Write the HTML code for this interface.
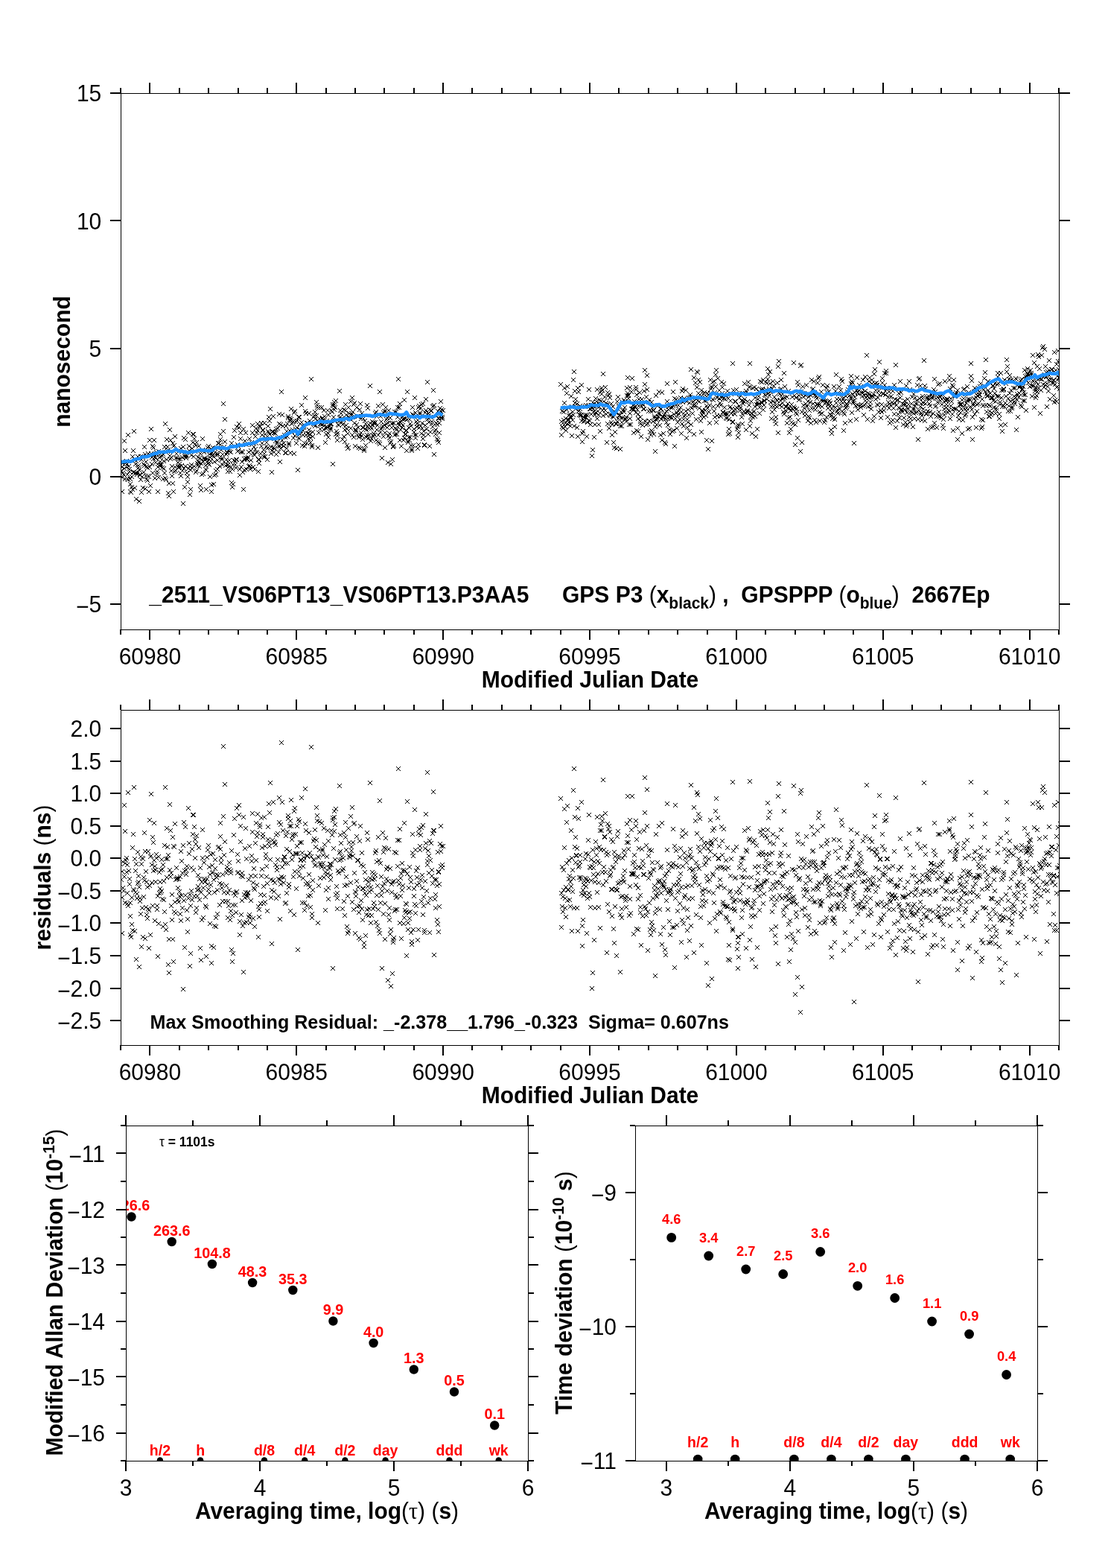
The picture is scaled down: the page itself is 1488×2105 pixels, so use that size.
<!DOCTYPE html>
<html><head><meta charset="utf-8"><title>GPS P3 vs GPSPPP time comparison</title>
<style>html,body{margin:0;padding:0;background:#fff;} svg{display:block;}</style>
</head><body>
<svg width="1488" height="2105" viewBox="0 0 1488 2105" font-family="'Liberation Sans', Arial, Helvetica, sans-serif">
<rect width="100%" height="100%" fill="#fff"/>
<defs><clipPath id="c1"><rect x="162" y="125" width="1261" height="721"/></clipPath><clipPath id="c2"><rect x="162" y="953" width="1261" height="451"/></clipPath><clipPath id="c3"><rect x="169" y="1511" width="541" height="451"/></clipPath><clipPath id="c4"><rect x="853" y="1511" width="541" height="451"/></clipPath></defs>
<g clip-path="url(#c1)">
<path d="M159 621l6 6m0 -6l-6 6M160 629l6 6m0 -6l-6 6M161 638l6 6m0 -6l-6 6M161 624l6 6m0 -6l-6 6M161 657l6 6m0 -6l-6 6M162 619l6 6m0 -6l-6 6M162 632l6 6m0 -6l-6 6M163 634l6 6m0 -6l-6 6M164 626l6 6m0 -6l-6 6M164 589l6 6m0 -6l-6 6M165 619l6 6m0 -6l-6 6M165 640l6 6m0 -6l-6 6M165 602l6 6m0 -6l-6 6M166 617l6 6m0 -6l-6 6M167 616l6 6m0 -6l-6 6M167 624l6 6m0 -6l-6 6M168 640l6 6m0 -6l-6 6M168 620l6 6m0 -6l-6 6M168 634l6 6m0 -6l-6 6M169 641l6 6m0 -6l-6 6M169 581l6 6m0 -6l-6 6M170 623l6 6m0 -6l-6 6M171 627l6 6m0 -6l-6 6M171 630l6 6m0 -6l-6 6M172 647l6 6m0 -6l-6 6M172 640l6 6m0 -6l-6 6M172 657l6 6m0 -6l-6 6M173 658l6 6m0 -6l-6 6M174 651l6 6m0 -6l-6 6M174 637l6 6m0 -6l-6 6M175 654l6 6m0 -6l-6 6M175 610l6 6m0 -6l-6 6M176 602l6 6m0 -6l-6 6M176 631l6 6m0 -6l-6 6M177 631l6 6m0 -6l-6 6M177 576l6 6m0 -6l-6 6M178 614l6 6m0 -6l-6 6M178 652l6 6m0 -6l-6 6M179 620l6 6m0 -6l-6 6M179 632l6 6m0 -6l-6 6M180 616l6 6m0 -6l-6 6M180 667l6 6m0 -6l-6 6M181 632l6 6m0 -6l-6 6M181 634l6 6m0 -6l-6 6M182 610l6 6m0 -6l-6 6M182 626l6 6m0 -6l-6 6M183 622l6 6m0 -6l-6 6M183 625l6 6m0 -6l-6 6M184 670l6 6m0 -6l-6 6M184 628l6 6m0 -6l-6 6M185 634l6 6m0 -6l-6 6M185 635l6 6m0 -6l-6 6M186 641l6 6m0 -6l-6 6M186 610l6 6m0 -6l-6 6M187 614l6 6m0 -6l-6 6M187 658l6 6m0 -6l-6 6M188 610l6 6m0 -6l-6 6M188 637l6 6m0 -6l-6 6M189 652l6 6m0 -6l-6 6M189 611l6 6m0 -6l-6 6M190 631l6 6m0 -6l-6 6M190 620l6 6m0 -6l-6 6M191 622l6 6m0 -6l-6 6M191 597l6 6m0 -6l-6 6M192 653l6 6m0 -6l-6 6M192 607l6 6m0 -6l-6 6M193 636l6 6m0 -6l-6 6M193 617l6 6m0 -6l-6 6M194 623l6 6m0 -6l-6 6M194 640l6 6m0 -6l-6 6M195 642l6 6m0 -6l-6 6M195 625l6 6m0 -6l-6 6M196 606l6 6m0 -6l-6 6M196 636l6 6m0 -6l-6 6M197 637l6 6m0 -6l-6 6M197 657l6 6m0 -6l-6 6M198 624l6 6m0 -6l-6 6M198 588l6 6m0 -6l-6 6M199 608l6 6m0 -6l-6 6M199 649l6 6m0 -6l-6 6M200 606l6 6m0 -6l-6 6M200 573l6 6m0 -6l-6 6M201 620l6 6m0 -6l-6 6M201 611l6 6m0 -6l-6 6M202 632l6 6m0 -6l-6 6M202 596l6 6m0 -6l-6 6M203 613l6 6m0 -6l-6 6M203 598l6 6m0 -6l-6 6M204 588l6 6m0 -6l-6 6M204 607l6 6m0 -6l-6 6M205 639l6 6m0 -6l-6 6M205 610l6 6m0 -6l-6 6M206 612l6 6m0 -6l-6 6M206 618l6 6m0 -6l-6 6M207 604l6 6m0 -6l-6 6M207 606l6 6m0 -6l-6 6M208 633l6 6m0 -6l-6 6M208 630l6 6m0 -6l-6 6M209 657l6 6m0 -6l-6 6M209 624l6 6m0 -6l-6 6M210 603l6 6m0 -6l-6 6M210 638l6 6m0 -6l-6 6M211 611l6 6m0 -6l-6 6M211 622l6 6m0 -6l-6 6M212 620l6 6m0 -6l-6 6M212 617l6 6m0 -6l-6 6M213 622l6 6m0 -6l-6 6M213 610l6 6m0 -6l-6 6M214 605l6 6m0 -6l-6 6M214 621l6 6m0 -6l-6 6M215 625l6 6m0 -6l-6 6M215 609l6 6m0 -6l-6 6M216 607l6 6m0 -6l-6 6M216 640l6 6m0 -6l-6 6M217 616l6 6m0 -6l-6 6M217 626l6 6m0 -6l-6 6M218 597l6 6m0 -6l-6 6M218 632l6 6m0 -6l-6 6M219 566l6 6m0 -6l-6 6M219 639l6 6m0 -6l-6 6M220 604l6 6m0 -6l-6 6M220 641l6 6m0 -6l-6 6M221 614l6 6m0 -6l-6 6M221 587l6 6m0 -6l-6 6M222 603l6 6m0 -6l-6 6M222 597l6 6m0 -6l-6 6M223 601l6 6m0 -6l-6 6M223 659l6 6m0 -6l-6 6M224 646l6 6m0 -6l-6 6M224 663l6 6m0 -6l-6 6M225 574l6 6m0 -6l-6 6M225 609l6 6m0 -6l-6 6M226 588l6 6m0 -6l-6 6M226 613l6 6m0 -6l-6 6M227 611l6 6m0 -6l-6 6M227 629l6 6m0 -6l-6 6M228 623l6 6m0 -6l-6 6M228 636l6 6m0 -6l-6 6M229 646l6 6m0 -6l-6 6M229 592l6 6m0 -6l-6 6M230 596l6 6m0 -6l-6 6M230 657l6 6m0 -6l-6 6M231 630l6 6m0 -6l-6 6M231 595l6 6m0 -6l-6 6M232 583l6 6m0 -6l-6 6M232 624l6 6m0 -6l-6 6M233 612l6 6m0 -6l-6 6M233 629l6 6m0 -6l-6 6M234 611l6 6m0 -6l-6 6M234 606l6 6m0 -6l-6 6M235 612l6 6m0 -6l-6 6M235 612l6 6m0 -6l-6 6M236 623l6 6m0 -6l-6 6M236 618l6 6m0 -6l-6 6M237 625l6 6m0 -6l-6 6M237 613l6 6m0 -6l-6 6M238 620l6 6m0 -6l-6 6M238 623l6 6m0 -6l-6 6M239 613l6 6m0 -6l-6 6M239 632l6 6m0 -6l-6 6M240 599l6 6m0 -6l-6 6M240 636l6 6m0 -6l-6 6M241 622l6 6m0 -6l-6 6M241 604l6 6m0 -6l-6 6M242 629l6 6m0 -6l-6 6M242 611l6 6m0 -6l-6 6M243 673l6 6m0 -6l-6 6M243 597l6 6m0 -6l-6 6M244 626l6 6m0 -6l-6 6M244 585l6 6m0 -6l-6 6M245 610l6 6m0 -6l-6 6M245 651l6 6m0 -6l-6 6M246 587l6 6m0 -6l-6 6M246 623l6 6m0 -6l-6 6M247 612l6 6m0 -6l-6 6M247 610l6 6m0 -6l-6 6M248 632l6 6m0 -6l-6 6M248 609l6 6m0 -6l-6 6M249 644l6 6m0 -6l-6 6M249 637l6 6m0 -6l-6 6M250 626l6 6m0 -6l-6 6M250 578l6 6m0 -6l-6 6M251 602l6 6m0 -6l-6 6M251 596l6 6m0 -6l-6 6M252 623l6 6m0 -6l-6 6M252 661l6 6m0 -6l-6 6M253 654l6 6m0 -6l-6 6M253 628l6 6m0 -6l-6 6M254 608l6 6m0 -6l-6 6M254 621l6 6m0 -6l-6 6M255 599l6 6m0 -6l-6 6M255 625l6 6m0 -6l-6 6M256 591l6 6m0 -6l-6 6M256 580l6 6m0 -6l-6 6M257 610l6 6m0 -6l-6 6M257 580l6 6m0 -6l-6 6M258 623l6 6m0 -6l-6 6M258 586l6 6m0 -6l-6 6M259 603l6 6m0 -6l-6 6M259 593l6 6m0 -6l-6 6M260 631l6 6m0 -6l-6 6M260 595l6 6m0 -6l-6 6M261 591l6 6m0 -6l-6 6M261 629l6 6m0 -6l-6 6M262 622l6 6m0 -6l-6 6M262 619l6 6m0 -6l-6 6M263 611l6 6m0 -6l-6 6M263 616l6 6m0 -6l-6 6M264 596l6 6m0 -6l-6 6M264 618l6 6m0 -6l-6 6M265 623l6 6m0 -6l-6 6M265 612l6 6m0 -6l-6 6M266 606l6 6m0 -6l-6 6M266 649l6 6m0 -6l-6 6M267 619l6 6m0 -6l-6 6M267 655l6 6m0 -6l-6 6M268 614l6 6m0 -6l-6 6M268 634l6 6m0 -6l-6 6M269 601l6 6m0 -6l-6 6M269 586l6 6m0 -6l-6 6M270 617l6 6m0 -6l-6 6M270 633l6 6m0 -6l-6 6M271 604l6 6m0 -6l-6 6M271 613l6 6m0 -6l-6 6M272 612l6 6m0 -6l-6 6M272 614l6 6m0 -6l-6 6M273 627l6 6m0 -6l-6 6M273 622l6 6m0 -6l-6 6M274 628l6 6m0 -6l-6 6M274 654l6 6m0 -6l-6 6M275 602l6 6m0 -6l-6 6M275 613l6 6m0 -6l-6 6M276 598l6 6m0 -6l-6 6M276 616l6 6m0 -6l-6 6M277 619l6 6m0 -6l-6 6M277 596l6 6m0 -6l-6 6M278 607l6 6m0 -6l-6 6M278 621l6 6m0 -6l-6 6M279 637l6 6m0 -6l-6 6M279 611l6 6m0 -6l-6 6M280 616l6 6m0 -6l-6 6M280 600l6 6m0 -6l-6 6M281 648l6 6m0 -6l-6 6M281 657l6 6m0 -6l-6 6M282 609l6 6m0 -6l-6 6M282 605l6 6m0 -6l-6 6M283 608l6 6m0 -6l-6 6M283 598l6 6m0 -6l-6 6M284 647l6 6m0 -6l-6 6M284 610l6 6m0 -6l-6 6M285 617l6 6m0 -6l-6 6M285 635l6 6m0 -6l-6 6M286 604l6 6m0 -6l-6 6M286 599l6 6m0 -6l-6 6M287 629l6 6m0 -6l-6 6M287 634l6 6m0 -6l-6 6M288 608l6 6m0 -6l-6 6M288 606l6 6m0 -6l-6 6M289 615l6 6m0 -6l-6 6M289 627l6 6m0 -6l-6 6M290 607l6 6m0 -6l-6 6M290 592l6 6m0 -6l-6 6M291 592l6 6m0 -6l-6 6M292 612l6 6m0 -6l-6 6M292 623l6 6m0 -6l-6 6M293 587l6 6m0 -6l-6 6M293 594l6 6m0 -6l-6 6M293 580l6 6m0 -6l-6 6M294 601l6 6m0 -6l-6 6M294 598l6 6m0 -6l-6 6M295 614l6 6m0 -6l-6 6M295 612l6 6m0 -6l-6 6M296 607l6 6m0 -6l-6 6M296 621l6 6m0 -6l-6 6M297 539l6 6m0 -6l-6 6M297 576l6 6m0 -6l-6 6M298 597l6 6m0 -6l-6 6M298 617l6 6m0 -6l-6 6M299 560l6 6m0 -6l-6 6M299 590l6 6m0 -6l-6 6M300 622l6 6m0 -6l-6 6M301 614l6 6m0 -6l-6 6M301 607l6 6m0 -6l-6 6M302 605l6 6m0 -6l-6 6M302 604l6 6m0 -6l-6 6M303 617l6 6m0 -6l-6 6M303 630l6 6m0 -6l-6 6M303 621l6 6m0 -6l-6 6M304 624l6 6m0 -6l-6 6M305 600l6 6m0 -6l-6 6M305 615l6 6m0 -6l-6 6M305 603l6 6m0 -6l-6 6M306 630l6 6m0 -6l-6 6M307 604l6 6m0 -6l-6 6M307 604l6 6m0 -6l-6 6M307 624l6 6m0 -6l-6 6M308 592l6 6m0 -6l-6 6M308 645l6 6m0 -6l-6 6M309 651l6 6m0 -6l-6 6M309 627l6 6m0 -6l-6 6M310 647l6 6m0 -6l-6 6M310 621l6 6m0 -6l-6 6M311 615l6 6m0 -6l-6 6M311 584l6 6m0 -6l-6 6M312 575l6 6m0 -6l-6 6M313 621l6 6m0 -6l-6 6M313 616l6 6m0 -6l-6 6M314 614l6 6m0 -6l-6 6M314 625l6 6m0 -6l-6 6M315 570l6 6m0 -6l-6 6M315 614l6 6m0 -6l-6 6M316 594l6 6m0 -6l-6 6M316 603l6 6m0 -6l-6 6M317 602l6 6m0 -6l-6 6M317 596l6 6m0 -6l-6 6M318 566l6 6m0 -6l-6 6M318 571l6 6m0 -6l-6 6M319 627l6 6m0 -6l-6 6M319 635l6 6m0 -6l-6 6M320 578l6 6m0 -6l-6 6M320 586l6 6m0 -6l-6 6M321 624l6 6m0 -6l-6 6M321 604l6 6m0 -6l-6 6M322 603l6 6m0 -6l-6 6M322 617l6 6m0 -6l-6 6M323 631l6 6m0 -6l-6 6M323 604l6 6m0 -6l-6 6M324 573l6 6m0 -6l-6 6M324 654l6 6m0 -6l-6 6M325 628l6 6m0 -6l-6 6M325 613l6 6m0 -6l-6 6M326 589l6 6m0 -6l-6 6M326 614l6 6m0 -6l-6 6M327 612l6 6m0 -6l-6 6M327 578l6 6m0 -6l-6 6M328 594l6 6m0 -6l-6 6M328 627l6 6m0 -6l-6 6M329 613l6 6m0 -6l-6 6M329 614l6 6m0 -6l-6 6M330 611l6 6m0 -6l-6 6M330 611l6 6m0 -6l-6 6M331 623l6 6m0 -6l-6 6M331 604l6 6m0 -6l-6 6M332 622l6 6m0 -6l-6 6M332 586l6 6m0 -6l-6 6M333 624l6 6m0 -6l-6 6M333 627l6 6m0 -6l-6 6M334 602l6 6m0 -6l-6 6M334 615l6 6m0 -6l-6 6M335 591l6 6m0 -6l-6 6M335 594l6 6m0 -6l-6 6M336 568l6 6m0 -6l-6 6M336 578l6 6m0 -6l-6 6M337 624l6 6m0 -6l-6 6M337 605l6 6m0 -6l-6 6M338 607l6 6m0 -6l-6 6M338 597l6 6m0 -6l-6 6M339 608l6 6m0 -6l-6 6M339 627l6 6m0 -6l-6 6M340 583l6 6m0 -6l-6 6M340 600l6 6m0 -6l-6 6M341 592l6 6m0 -6l-6 6M341 572l6 6m0 -6l-6 6M342 604l6 6m0 -6l-6 6M342 578l6 6m0 -6l-6 6M343 566l6 6m0 -6l-6 6M343 575l6 6m0 -6l-6 6M344 630l6 6m0 -6l-6 6M344 614l6 6m0 -6l-6 6M345 619l6 6m0 -6l-6 6M345 614l6 6m0 -6l-6 6M346 569l6 6m0 -6l-6 6M346 570l6 6m0 -6l-6 6M347 606l6 6m0 -6l-6 6M347 611l6 6m0 -6l-6 6M348 596l6 6m0 -6l-6 6M348 565l6 6m0 -6l-6 6M349 592l6 6m0 -6l-6 6M349 581l6 6m0 -6l-6 6M350 575l6 6m0 -6l-6 6M350 574l6 6m0 -6l-6 6M351 610l6 6m0 -6l-6 6M351 601l6 6m0 -6l-6 6M352 565l6 6m0 -6l-6 6M352 606l6 6m0 -6l-6 6M353 580l6 6m0 -6l-6 6M353 610l6 6m0 -6l-6 6M354 585l6 6m0 -6l-6 6M354 587l6 6m0 -6l-6 6M355 591l6 6m0 -6l-6 6M355 596l6 6m0 -6l-6 6M356 614l6 6m0 -6l-6 6M356 599l6 6m0 -6l-6 6M357 569l6 6m0 -6l-6 6M357 576l6 6m0 -6l-6 6M358 578l6 6m0 -6l-6 6M358 557l6 6m0 -6l-6 6M359 580l6 6m0 -6l-6 6M359 562l6 6m0 -6l-6 6M360 546l6 6m0 -6l-6 6M360 586l6 6m0 -6l-6 6M361 597l6 6m0 -6l-6 6M361 606l6 6m0 -6l-6 6M362 602l6 6m0 -6l-6 6M362 631l6 6m0 -6l-6 6M363 577l6 6m0 -6l-6 6M363 576l6 6m0 -6l-6 6M364 598l6 6m0 -6l-6 6M364 556l6 6m0 -6l-6 6M365 578l6 6m0 -6l-6 6M365 604l6 6m0 -6l-6 6M366 578l6 6m0 -6l-6 6M366 599l6 6m0 -6l-6 6M367 579l6 6m0 -6l-6 6M367 589l6 6m0 -6l-6 6M368 607l6 6m0 -6l-6 6M368 573l6 6m0 -6l-6 6M369 592l6 6m0 -6l-6 6M369 590l6 6m0 -6l-6 6M370 572l6 6m0 -6l-6 6M370 585l6 6m0 -6l-6 6M371 596l6 6m0 -6l-6 6M371 604l6 6m0 -6l-6 6M372 566l6 6m0 -6l-6 6M372 553l6 6m0 -6l-6 6M373 596l6 6m0 -6l-6 6M373 617l6 6m0 -6l-6 6M374 599l6 6m0 -6l-6 6M374 567l6 6m0 -6l-6 6M375 523l6 6m0 -6l-6 6M375 594l6 6m0 -6l-6 6M376 588l6 6m0 -6l-6 6M376 554l6 6m0 -6l-6 6M377 569l6 6m0 -6l-6 6M377 584l6 6m0 -6l-6 6M378 596l6 6m0 -6l-6 6M378 592l6 6m0 -6l-6 6M379 581l6 6m0 -6l-6 6M379 581l6 6m0 -6l-6 6M380 584l6 6m0 -6l-6 6M380 605l6 6m0 -6l-6 6M381 605l6 6m0 -6l-6 6M381 569l6 6m0 -6l-6 6M382 576l6 6m0 -6l-6 6M382 599l6 6m0 -6l-6 6M383 583l6 6m0 -6l-6 6M383 566l6 6m0 -6l-6 6M384 558l6 6m0 -6l-6 6M384 556l6 6m0 -6l-6 6M385 594l6 6m0 -6l-6 6M385 592l6 6m0 -6l-6 6M386 575l6 6m0 -6l-6 6M386 561l6 6m0 -6l-6 6M387 558l6 6m0 -6l-6 6M387 605l6 6m0 -6l-6 6M388 546l6 6m0 -6l-6 6M388 560l6 6m0 -6l-6 6M389 566l6 6m0 -6l-6 6M389 577l6 6m0 -6l-6 6M390 564l6 6m0 -6l-6 6M390 574l6 6m0 -6l-6 6M391 585l6 6m0 -6l-6 6M391 563l6 6m0 -6l-6 6M392 606l6 6m0 -6l-6 6M392 551l6 6m0 -6l-6 6M393 549l6 6m0 -6l-6 6M393 582l6 6m0 -6l-6 6M394 563l6 6m0 -6l-6 6M394 573l6 6m0 -6l-6 6M395 592l6 6m0 -6l-6 6M395 574l6 6m0 -6l-6 6M396 571l6 6m0 -6l-6 6M396 562l6 6m0 -6l-6 6M397 628l6 6m0 -6l-6 6M397 577l6 6m0 -6l-6 6M398 585l6 6m0 -6l-6 6M398 557l6 6m0 -6l-6 6M399 586l6 6m0 -6l-6 6M399 557l6 6m0 -6l-6 6M400 580l6 6m0 -6l-6 6M400 566l6 6m0 -6l-6 6M401 575l6 6m0 -6l-6 6M401 575l6 6m0 -6l-6 6M402 541l6 6m0 -6l-6 6M402 564l6 6m0 -6l-6 6M403 569l6 6m0 -6l-6 6M403 595l6 6m0 -6l-6 6M404 575l6 6m0 -6l-6 6M404 581l6 6m0 -6l-6 6M405 571l6 6m0 -6l-6 6M405 569l6 6m0 -6l-6 6M406 592l6 6m0 -6l-6 6M406 596l6 6m0 -6l-6 6M407 531l6 6m0 -6l-6 6M407 549l6 6m0 -6l-6 6M408 552l6 6m0 -6l-6 6M408 581l6 6m0 -6l-6 6M409 565l6 6m0 -6l-6 6M409 592l6 6m0 -6l-6 6M410 565l6 6m0 -6l-6 6M410 579l6 6m0 -6l-6 6M411 586l6 6m0 -6l-6 6M411 579l6 6m0 -6l-6 6M412 574l6 6m0 -6l-6 6M412 552l6 6m0 -6l-6 6M413 562l6 6m0 -6l-6 6M413 580l6 6m0 -6l-6 6M414 591l6 6m0 -6l-6 6M414 585l6 6m0 -6l-6 6M415 506l6 6m0 -6l-6 6M415 564l6 6m0 -6l-6 6M416 595l6 6m0 -6l-6 6M416 597l6 6m0 -6l-6 6M417 577l6 6m0 -6l-6 6M417 583l6 6m0 -6l-6 6M418 557l6 6m0 -6l-6 6M418 566l6 6m0 -6l-6 6M419 567l6 6m0 -6l-6 6M419 555l6 6m0 -6l-6 6M420 550l6 6m0 -6l-6 6M420 569l6 6m0 -6l-6 6M421 568l6 6m0 -6l-6 6M421 559l6 6m0 -6l-6 6M422 537l6 6m0 -6l-6 6M422 555l6 6m0 -6l-6 6M423 544l6 6m0 -6l-6 6M423 541l6 6m0 -6l-6 6M424 563l6 6m0 -6l-6 6M424 598l6 6m0 -6l-6 6M425 563l6 6m0 -6l-6 6M425 578l6 6m0 -6l-6 6M426 559l6 6m0 -6l-6 6M426 544l6 6m0 -6l-6 6M427 566l6 6m0 -6l-6 6M427 573l6 6m0 -6l-6 6M428 565l6 6m0 -6l-6 6M428 566l6 6m0 -6l-6 6M429 567l6 6m0 -6l-6 6M429 544l6 6m0 -6l-6 6M430 559l6 6m0 -6l-6 6M430 558l6 6m0 -6l-6 6M431 561l6 6m0 -6l-6 6M431 566l6 6m0 -6l-6 6M432 548l6 6m0 -6l-6 6M432 574l6 6m0 -6l-6 6M433 568l6 6m0 -6l-6 6M433 556l6 6m0 -6l-6 6M434 571l6 6m0 -6l-6 6M434 591l6 6m0 -6l-6 6M435 580l6 6m0 -6l-6 6M435 572l6 6m0 -6l-6 6M436 562l6 6m0 -6l-6 6M437 548l6 6m0 -6l-6 6M437 571l6 6m0 -6l-6 6M438 579l6 6m0 -6l-6 6M438 554l6 6m0 -6l-6 6M438 584l6 6m0 -6l-6 6M439 568l6 6m0 -6l-6 6M440 566l6 6m0 -6l-6 6M440 569l6 6m0 -6l-6 6M441 572l6 6m0 -6l-6 6M441 566l6 6m0 -6l-6 6M441 574l6 6m0 -6l-6 6M442 548l6 6m0 -6l-6 6M442 566l6 6m0 -6l-6 6M443 550l6 6m0 -6l-6 6M444 542l6 6m0 -6l-6 6M444 620l6 6m0 -6l-6 6M444 540l6 6m0 -6l-6 6M445 557l6 6m0 -6l-6 6M446 537l6 6m0 -6l-6 6M446 540l6 6m0 -6l-6 6M446 547l6 6m0 -6l-6 6M447 562l6 6m0 -6l-6 6M447 544l6 6m0 -6l-6 6M448 535l6 6m0 -6l-6 6M448 580l6 6m0 -6l-6 6M449 576l6 6m0 -6l-6 6M450 588l6 6m0 -6l-6 6M450 579l6 6m0 -6l-6 6M450 582l6 6m0 -6l-6 6M451 567l6 6m0 -6l-6 6M452 568l6 6m0 -6l-6 6M452 568l6 6m0 -6l-6 6M453 562l6 6m0 -6l-6 6M453 558l6 6m0 -6l-6 6M453 522l6 6m0 -6l-6 6M454 548l6 6m0 -6l-6 6M454 557l6 6m0 -6l-6 6M455 552l6 6m0 -6l-6 6M455 561l6 6m0 -6l-6 6M456 559l6 6m0 -6l-6 6M457 567l6 6m0 -6l-6 6M457 587l6 6m0 -6l-6 6M458 560l6 6m0 -6l-6 6M458 566l6 6m0 -6l-6 6M459 583l6 6m0 -6l-6 6M459 547l6 6m0 -6l-6 6M460 590l6 6m0 -6l-6 6M460 574l6 6m0 -6l-6 6M461 540l6 6m0 -6l-6 6M461 548l6 6m0 -6l-6 6M462 568l6 6m0 -6l-6 6M462 554l6 6m0 -6l-6 6M463 573l6 6m0 -6l-6 6M463 595l6 6m0 -6l-6 6M464 579l6 6m0 -6l-6 6M464 599l6 6m0 -6l-6 6M465 598l6 6m0 -6l-6 6M465 544l6 6m0 -6l-6 6M466 559l6 6m0 -6l-6 6M466 552l6 6m0 -6l-6 6M467 558l6 6m0 -6l-6 6M467 559l6 6m0 -6l-6 6M468 572l6 6m0 -6l-6 6M468 536l6 6m0 -6l-6 6M469 552l6 6m0 -6l-6 6M469 554l6 6m0 -6l-6 6M470 531l6 6m0 -6l-6 6M470 581l6 6m0 -6l-6 6M471 557l6 6m0 -6l-6 6M471 550l6 6m0 -6l-6 6M472 540l6 6m0 -6l-6 6M472 584l6 6m0 -6l-6 6M473 565l6 6m0 -6l-6 6M473 538l6 6m0 -6l-6 6M474 596l6 6m0 -6l-6 6M474 574l6 6m0 -6l-6 6M475 574l6 6m0 -6l-6 6M475 576l6 6m0 -6l-6 6M476 567l6 6m0 -6l-6 6M476 544l6 6m0 -6l-6 6M477 556l6 6m0 -6l-6 6M477 581l6 6m0 -6l-6 6M478 556l6 6m0 -6l-6 6M478 571l6 6m0 -6l-6 6M479 598l6 6m0 -6l-6 6M479 584l6 6m0 -6l-6 6M480 581l6 6m0 -6l-6 6M480 547l6 6m0 -6l-6 6M481 539l6 6m0 -6l-6 6M481 599l6 6m0 -6l-6 6M482 559l6 6m0 -6l-6 6M482 578l6 6m0 -6l-6 6M483 582l6 6m0 -6l-6 6M483 552l6 6m0 -6l-6 6M484 571l6 6m0 -6l-6 6M484 587l6 6m0 -6l-6 6M485 559l6 6m0 -6l-6 6M485 571l6 6m0 -6l-6 6M486 600l6 6m0 -6l-6 6M486 602l6 6m0 -6l-6 6M487 562l6 6m0 -6l-6 6M487 573l6 6m0 -6l-6 6M488 595l6 6m0 -6l-6 6M488 566l6 6m0 -6l-6 6M489 574l6 6m0 -6l-6 6M489 584l6 6m0 -6l-6 6M490 581l6 6m0 -6l-6 6M490 541l6 6m0 -6l-6 6M491 545l6 6m0 -6l-6 6M491 570l6 6m0 -6l-6 6M492 567l6 6m0 -6l-6 6M492 585l6 6m0 -6l-6 6M493 581l6 6m0 -6l-6 6M493 572l6 6m0 -6l-6 6M494 515l6 6m0 -6l-6 6M494 565l6 6m0 -6l-6 6M495 589l6 6m0 -6l-6 6M495 570l6 6m0 -6l-6 6M496 586l6 6m0 -6l-6 6M496 572l6 6m0 -6l-6 6M497 567l6 6m0 -6l-6 6M497 563l6 6m0 -6l-6 6M498 582l6 6m0 -6l-6 6M498 582l6 6m0 -6l-6 6M499 564l6 6m0 -6l-6 6M499 579l6 6m0 -6l-6 6M500 581l6 6m0 -6l-6 6M500 566l6 6m0 -6l-6 6M501 564l6 6m0 -6l-6 6M501 552l6 6m0 -6l-6 6M502 588l6 6m0 -6l-6 6M502 550l6 6m0 -6l-6 6M503 574l6 6m0 -6l-6 6M503 556l6 6m0 -6l-6 6M504 590l6 6m0 -6l-6 6M504 568l6 6m0 -6l-6 6M505 581l6 6m0 -6l-6 6M505 542l6 6m0 -6l-6 6M506 591l6 6m0 -6l-6 6M506 554l6 6m0 -6l-6 6M507 523l6 6m0 -6l-6 6M507 593l6 6m0 -6l-6 6M508 556l6 6m0 -6l-6 6M508 577l6 6m0 -6l-6 6M509 573l6 6m0 -6l-6 6M509 563l6 6m0 -6l-6 6M510 571l6 6m0 -6l-6 6M510 612l6 6m0 -6l-6 6M511 540l6 6m0 -6l-6 6M511 569l6 6m0 -6l-6 6M512 551l6 6m0 -6l-6 6M512 583l6 6m0 -6l-6 6M513 568l6 6m0 -6l-6 6M513 549l6 6m0 -6l-6 6M514 578l6 6m0 -6l-6 6M514 598l6 6m0 -6l-6 6M515 544l6 6m0 -6l-6 6M515 549l6 6m0 -6l-6 6M516 566l6 6m0 -6l-6 6M516 560l6 6m0 -6l-6 6M517 571l6 6m0 -6l-6 6M517 558l6 6m0 -6l-6 6M518 618l6 6m0 -6l-6 6M518 565l6 6m0 -6l-6 6M519 548l6 6m0 -6l-6 6M519 582l6 6m0 -6l-6 6M520 579l6 6m0 -6l-6 6M520 585l6 6m0 -6l-6 6M521 558l6 6m0 -6l-6 6M521 592l6 6m0 -6l-6 6M522 590l6 6m0 -6l-6 6M522 620l6 6m0 -6l-6 6M523 571l6 6m0 -6l-6 6M523 566l6 6m0 -6l-6 6M524 614l6 6m0 -6l-6 6M524 565l6 6m0 -6l-6 6M525 596l6 6m0 -6l-6 6M525 597l6 6m0 -6l-6 6M526 595l6 6m0 -6l-6 6M526 565l6 6m0 -6l-6 6M527 550l6 6m0 -6l-6 6M527 581l6 6m0 -6l-6 6M528 580l6 6m0 -6l-6 6M528 572l6 6m0 -6l-6 6M529 550l6 6m0 -6l-6 6M529 574l6 6m0 -6l-6 6M530 573l6 6m0 -6l-6 6M530 580l6 6m0 -6l-6 6M531 557l6 6m0 -6l-6 6M531 544l6 6m0 -6l-6 6M532 506l6 6m0 -6l-6 6M532 565l6 6m0 -6l-6 6M533 544l6 6m0 -6l-6 6M533 568l6 6m0 -6l-6 6M534 539l6 6m0 -6l-6 6M534 588l6 6m0 -6l-6 6M535 574l6 6m0 -6l-6 6M535 564l6 6m0 -6l-6 6M536 596l6 6m0 -6l-6 6M536 562l6 6m0 -6l-6 6M537 557l6 6m0 -6l-6 6M537 571l6 6m0 -6l-6 6M538 560l6 6m0 -6l-6 6M538 568l6 6m0 -6l-6 6M539 588l6 6m0 -6l-6 6M539 559l6 6m0 -6l-6 6M540 585l6 6m0 -6l-6 6M540 534l6 6m0 -6l-6 6M541 580l6 6m0 -6l-6 6M541 559l6 6m0 -6l-6 6M542 580l6 6m0 -6l-6 6M542 575l6 6m0 -6l-6 6M543 602l6 6m0 -6l-6 6M543 575l6 6m0 -6l-6 6M544 560l6 6m0 -6l-6 6M544 523l6 6m0 -6l-6 6M545 591l6 6m0 -6l-6 6M545 589l6 6m0 -6l-6 6M546 571l6 6m0 -6l-6 6M546 584l6 6m0 -6l-6 6M547 560l6 6m0 -6l-6 6M547 588l6 6m0 -6l-6 6M548 584l6 6m0 -6l-6 6M548 566l6 6m0 -6l-6 6M549 595l6 6m0 -6l-6 6M549 569l6 6m0 -6l-6 6M550 602l6 6m0 -6l-6 6M550 600l6 6m0 -6l-6 6M551 553l6 6m0 -6l-6 6M551 544l6 6m0 -6l-6 6M552 555l6 6m0 -6l-6 6M552 595l6 6m0 -6l-6 6M553 577l6 6m0 -6l-6 6M553 573l6 6m0 -6l-6 6M554 531l6 6m0 -6l-6 6M554 581l6 6m0 -6l-6 6M555 585l6 6m0 -6l-6 6M555 551l6 6m0 -6l-6 6M556 563l6 6m0 -6l-6 6M556 581l6 6m0 -6l-6 6M557 570l6 6m0 -6l-6 6M557 566l6 6m0 -6l-6 6M558 561l6 6m0 -6l-6 6M558 599l6 6m0 -6l-6 6M559 594l6 6m0 -6l-6 6M559 544l6 6m0 -6l-6 6M560 571l6 6m0 -6l-6 6M560 542l6 6m0 -6l-6 6M561 551l6 6m0 -6l-6 6M561 553l6 6m0 -6l-6 6M562 569l6 6m0 -6l-6 6M562 545l6 6m0 -6l-6 6M563 579l6 6m0 -6l-6 6M563 540l6 6m0 -6l-6 6M564 565l6 6m0 -6l-6 6M564 572l6 6m0 -6l-6 6M565 539l6 6m0 -6l-6 6M565 586l6 6m0 -6l-6 6M566 576l6 6m0 -6l-6 6M566 581l6 6m0 -6l-6 6M567 595l6 6m0 -6l-6 6M567 594l6 6m0 -6l-6 6M568 568l6 6m0 -6l-6 6M568 551l6 6m0 -6l-6 6M569 533l6 6m0 -6l-6 6M569 548l6 6m0 -6l-6 6M570 573l6 6m0 -6l-6 6M571 557l6 6m0 -6l-6 6M571 510l6 6m0 -6l-6 6M571 560l6 6m0 -6l-6 6M572 580l6 6m0 -6l-6 6M572 552l6 6m0 -6l-6 6M573 555l6 6m0 -6l-6 6M573 564l6 6m0 -6l-6 6M574 547l6 6m0 -6l-6 6M574 596l6 6m0 -6l-6 6M575 577l6 6m0 -6l-6 6M575 557l6 6m0 -6l-6 6M576 549l6 6m0 -6l-6 6M576 548l6 6m0 -6l-6 6M577 563l6 6m0 -6l-6 6M577 566l6 6m0 -6l-6 6M578 570l6 6m0 -6l-6 6M578 543l6 6m0 -6l-6 6M579 521l6 6m0 -6l-6 6M579 542l6 6m0 -6l-6 6M580 541l6 6m0 -6l-6 6M580 607l6 6m0 -6l-6 6M581 567l6 6m0 -6l-6 6M581 576l6 6m0 -6l-6 6M582 574l6 6m0 -6l-6 6M582 580l6 6m0 -6l-6 6M583 565l6 6m0 -6l-6 6M584 586l6 6m0 -6l-6 6M584 567l6 6m0 -6l-6 6M585 588l6 6m0 -6l-6 6M585 549l6 6m0 -6l-6 6M586 559l6 6m0 -6l-6 6M586 591l6 6m0 -6l-6 6M586 558l6 6m0 -6l-6 6M587 565l6 6m0 -6l-6 6M587 578l6 6m0 -6l-6 6M588 545l6 6m0 -6l-6 6M589 549l6 6m0 -6l-6 6M589 536l6 6m0 -6l-6 6M589 558l6 6m0 -6l-6 6M590 547l6 6m0 -6l-6 6M591 557l6 6m0 -6l-6 6M591 559l6 6m0 -6l-6 6M592 548l6 6m0 -6l-6 6M750 513l6 6m0 -6l-6 6M751 563l6 6m0 -6l-6 6M751 581l6 6m0 -6l-6 6M752 549l6 6m0 -6l-6 6M752 570l6 6m0 -6l-6 6M753 565l6 6m0 -6l-6 6M753 572l6 6m0 -6l-6 6M754 550l6 6m0 -6l-6 6M754 561l6 6m0 -6l-6 6M755 518l6 6m0 -6l-6 6M755 538l6 6m0 -6l-6 6M756 565l6 6m0 -6l-6 6M756 570l6 6m0 -6l-6 6M757 559l6 6m0 -6l-6 6M757 575l6 6m0 -6l-6 6M758 547l6 6m0 -6l-6 6M758 525l6 6m0 -6l-6 6M759 516l6 6m0 -6l-6 6M759 566l6 6m0 -6l-6 6M760 561l6 6m0 -6l-6 6M760 560l6 6m0 -6l-6 6M761 555l6 6m0 -6l-6 6M761 545l6 6m0 -6l-6 6M762 553l6 6m0 -6l-6 6M762 565l6 6m0 -6l-6 6M763 569l6 6m0 -6l-6 6M763 556l6 6m0 -6l-6 6M764 529l6 6m0 -6l-6 6M764 558l6 6m0 -6l-6 6M765 582l6 6m0 -6l-6 6M765 543l6 6m0 -6l-6 6M766 561l6 6m0 -6l-6 6M766 550l6 6m0 -6l-6 6M767 554l6 6m0 -6l-6 6M767 507l6 6m0 -6l-6 6M768 569l6 6m0 -6l-6 6M768 496l6 6m0 -6l-6 6M769 538l6 6m0 -6l-6 6M769 522l6 6m0 -6l-6 6M770 546l6 6m0 -6l-6 6M770 533l6 6m0 -6l-6 6M771 543l6 6m0 -6l-6 6M771 543l6 6m0 -6l-6 6M772 571l6 6m0 -6l-6 6M772 539l6 6m0 -6l-6 6M773 518l6 6m0 -6l-6 6M773 583l6 6m0 -6l-6 6M774 523l6 6m0 -6l-6 6M774 549l6 6m0 -6l-6 6M775 554l6 6m0 -6l-6 6M775 548l6 6m0 -6l-6 6M776 542l6 6m0 -6l-6 6M776 546l6 6m0 -6l-6 6M777 554l6 6m0 -6l-6 6M777 555l6 6m0 -6l-6 6M778 562l6 6m0 -6l-6 6M778 514l6 6m0 -6l-6 6M779 590l6 6m0 -6l-6 6M779 579l6 6m0 -6l-6 6M780 560l6 6m0 -6l-6 6M780 576l6 6m0 -6l-6 6M781 557l6 6m0 -6l-6 6M781 563l6 6m0 -6l-6 6M782 562l6 6m0 -6l-6 6M782 555l6 6m0 -6l-6 6M783 543l6 6m0 -6l-6 6M783 554l6 6m0 -6l-6 6M784 541l6 6m0 -6l-6 6M784 558l6 6m0 -6l-6 6M785 583l6 6m0 -6l-6 6M785 554l6 6m0 -6l-6 6M786 555l6 6m0 -6l-6 6M786 564l6 6m0 -6l-6 6M787 541l6 6m0 -6l-6 6M787 533l6 6m0 -6l-6 6M788 520l6 6m0 -6l-6 6M788 561l6 6m0 -6l-6 6M789 562l6 6m0 -6l-6 6M789 546l6 6m0 -6l-6 6M790 546l6 6m0 -6l-6 6M790 567l6 6m0 -6l-6 6M791 541l6 6m0 -6l-6 6M791 553l6 6m0 -6l-6 6M792 609l6 6m0 -6l-6 6M792 545l6 6m0 -6l-6 6M793 601l6 6m0 -6l-6 6M793 537l6 6m0 -6l-6 6M794 546l6 6m0 -6l-6 6M794 550l6 6m0 -6l-6 6M795 584l6 6m0 -6l-6 6M795 543l6 6m0 -6l-6 6M796 567l6 6m0 -6l-6 6M796 554l6 6m0 -6l-6 6M797 532l6 6m0 -6l-6 6M797 551l6 6m0 -6l-6 6M798 540l6 6m0 -6l-6 6M798 536l6 6m0 -6l-6 6M799 520l6 6m0 -6l-6 6M799 559l6 6m0 -6l-6 6M800 549l6 6m0 -6l-6 6M800 543l6 6m0 -6l-6 6M801 567l6 6m0 -6l-6 6M801 554l6 6m0 -6l-6 6M802 543l6 6m0 -6l-6 6M802 534l6 6m0 -6l-6 6M803 576l6 6m0 -6l-6 6M803 524l6 6m0 -6l-6 6M804 535l6 6m0 -6l-6 6M804 522l6 6m0 -6l-6 6M805 518l6 6m0 -6l-6 6M805 526l6 6m0 -6l-6 6M806 521l6 6m0 -6l-6 6M806 548l6 6m0 -6l-6 6M807 555l6 6m0 -6l-6 6M807 499l6 6m0 -6l-6 6M808 536l6 6m0 -6l-6 6M808 545l6 6m0 -6l-6 6M809 530l6 6m0 -6l-6 6M809 530l6 6m0 -6l-6 6M810 517l6 6m0 -6l-6 6M810 548l6 6m0 -6l-6 6M811 553l6 6m0 -6l-6 6M811 538l6 6m0 -6l-6 6M812 591l6 6m0 -6l-6 6M812 540l6 6m0 -6l-6 6M813 524l6 6m0 -6l-6 6M813 566l6 6m0 -6l-6 6M814 540l6 6m0 -6l-6 6M814 528l6 6m0 -6l-6 6M815 526l6 6m0 -6l-6 6M815 572l6 6m0 -6l-6 6M816 554l6 6m0 -6l-6 6M816 531l6 6m0 -6l-6 6M817 555l6 6m0 -6l-6 6M817 553l6 6m0 -6l-6 6M818 564l6 6m0 -6l-6 6M818 539l6 6m0 -6l-6 6M819 581l6 6m0 -6l-6 6M819 567l6 6m0 -6l-6 6M820 556l6 6m0 -6l-6 6M820 543l6 6m0 -6l-6 6M821 557l6 6m0 -6l-6 6M821 591l6 6m0 -6l-6 6M822 598l6 6m0 -6l-6 6M822 549l6 6m0 -6l-6 6M823 577l6 6m0 -6l-6 6M823 550l6 6m0 -6l-6 6M824 566l6 6m0 -6l-6 6M824 551l6 6m0 -6l-6 6M825 566l6 6m0 -6l-6 6M825 599l6 6m0 -6l-6 6M826 536l6 6m0 -6l-6 6M826 563l6 6m0 -6l-6 6M827 559l6 6m0 -6l-6 6M827 530l6 6m0 -6l-6 6M828 543l6 6m0 -6l-6 6M828 541l6 6m0 -6l-6 6M829 555l6 6m0 -6l-6 6M829 554l6 6m0 -6l-6 6M830 600l6 6m0 -6l-6 6M830 569l6 6m0 -6l-6 6M831 550l6 6m0 -6l-6 6M831 558l6 6m0 -6l-6 6M832 569l6 6m0 -6l-6 6M832 564l6 6m0 -6l-6 6M833 537l6 6m0 -6l-6 6M833 558l6 6m0 -6l-6 6M834 549l6 6m0 -6l-6 6M834 547l6 6m0 -6l-6 6M835 550l6 6m0 -6l-6 6M835 534l6 6m0 -6l-6 6M836 544l6 6m0 -6l-6 6M836 536l6 6m0 -6l-6 6M837 559l6 6m0 -6l-6 6M837 560l6 6m0 -6l-6 6M838 557l6 6m0 -6l-6 6M838 563l6 6m0 -6l-6 6M839 518l6 6m0 -6l-6 6M839 528l6 6m0 -6l-6 6M840 504l6 6m0 -6l-6 6M840 525l6 6m0 -6l-6 6M841 532l6 6m0 -6l-6 6M841 528l6 6m0 -6l-6 6M842 567l6 6m0 -6l-6 6M843 552l6 6m0 -6l-6 6M843 517l6 6m0 -6l-6 6M843 559l6 6m0 -6l-6 6M844 567l6 6m0 -6l-6 6M845 546l6 6m0 -6l-6 6M845 523l6 6m0 -6l-6 6M846 546l6 6m0 -6l-6 6M846 505l6 6m0 -6l-6 6M846 546l6 6m0 -6l-6 6M847 541l6 6m0 -6l-6 6M848 578l6 6m0 -6l-6 6M848 547l6 6m0 -6l-6 6M848 546l6 6m0 -6l-6 6M849 540l6 6m0 -6l-6 6M849 536l6 6m0 -6l-6 6M850 543l6 6m0 -6l-6 6M851 520l6 6m0 -6l-6 6M851 551l6 6m0 -6l-6 6M851 517l6 6m0 -6l-6 6M852 527l6 6m0 -6l-6 6M852 575l6 6m0 -6l-6 6M853 547l6 6m0 -6l-6 6M854 553l6 6m0 -6l-6 6M854 559l6 6m0 -6l-6 6M854 576l6 6m0 -6l-6 6M855 533l6 6m0 -6l-6 6M855 542l6 6m0 -6l-6 6M856 524l6 6m0 -6l-6 6M857 566l6 6m0 -6l-6 6M857 557l6 6m0 -6l-6 6M857 563l6 6m0 -6l-6 6M858 542l6 6m0 -6l-6 6M858 583l6 6m0 -6l-6 6M859 533l6 6m0 -6l-6 6M860 539l6 6m0 -6l-6 6M860 568l6 6m0 -6l-6 6M861 541l6 6m0 -6l-6 6M861 546l6 6m0 -6l-6 6M862 546l6 6m0 -6l-6 6M862 522l6 6m0 -6l-6 6M863 494l6 6m0 -6l-6 6M863 562l6 6m0 -6l-6 6M863 513l6 6m0 -6l-6 6M864 563l6 6m0 -6l-6 6M865 567l6 6m0 -6l-6 6M865 530l6 6m0 -6l-6 6M866 501l6 6m0 -6l-6 6M866 520l6 6m0 -6l-6 6M867 566l6 6m0 -6l-6 6M867 587l6 6m0 -6l-6 6M868 537l6 6m0 -6l-6 6M868 549l6 6m0 -6l-6 6M869 562l6 6m0 -6l-6 6M869 534l6 6m0 -6l-6 6M870 547l6 6m0 -6l-6 6M870 577l6 6m0 -6l-6 6M871 549l6 6m0 -6l-6 6M871 581l6 6m0 -6l-6 6M872 537l6 6m0 -6l-6 6M872 575l6 6m0 -6l-6 6M873 577l6 6m0 -6l-6 6M873 544l6 6m0 -6l-6 6M874 548l6 6m0 -6l-6 6M874 563l6 6m0 -6l-6 6M875 580l6 6m0 -6l-6 6M875 548l6 6m0 -6l-6 6M876 556l6 6m0 -6l-6 6M876 558l6 6m0 -6l-6 6M877 570l6 6m0 -6l-6 6M877 603l6 6m0 -6l-6 6M878 560l6 6m0 -6l-6 6M878 528l6 6m0 -6l-6 6M879 567l6 6m0 -6l-6 6M879 561l6 6m0 -6l-6 6M880 559l6 6m0 -6l-6 6M880 542l6 6m0 -6l-6 6M881 552l6 6m0 -6l-6 6M881 556l6 6m0 -6l-6 6M882 523l6 6m0 -6l-6 6M882 553l6 6m0 -6l-6 6M883 552l6 6m0 -6l-6 6M883 568l6 6m0 -6l-6 6M884 581l6 6m0 -6l-6 6M884 546l6 6m0 -6l-6 6M885 560l6 6m0 -6l-6 6M885 546l6 6m0 -6l-6 6M886 588l6 6m0 -6l-6 6M886 524l6 6m0 -6l-6 6M887 557l6 6m0 -6l-6 6M887 556l6 6m0 -6l-6 6M888 579l6 6m0 -6l-6 6M888 557l6 6m0 -6l-6 6M889 558l6 6m0 -6l-6 6M889 554l6 6m0 -6l-6 6M890 552l6 6m0 -6l-6 6M890 591l6 6m0 -6l-6 6M891 559l6 6m0 -6l-6 6M891 593l6 6m0 -6l-6 6M892 564l6 6m0 -6l-6 6M892 549l6 6m0 -6l-6 6M893 512l6 6m0 -6l-6 6M893 536l6 6m0 -6l-6 6M894 568l6 6m0 -6l-6 6M894 559l6 6m0 -6l-6 6M895 547l6 6m0 -6l-6 6M895 543l6 6m0 -6l-6 6M896 574l6 6m0 -6l-6 6M896 557l6 6m0 -6l-6 6M897 580l6 6m0 -6l-6 6M897 557l6 6m0 -6l-6 6M898 556l6 6m0 -6l-6 6M898 544l6 6m0 -6l-6 6M899 558l6 6m0 -6l-6 6M899 558l6 6m0 -6l-6 6M900 544l6 6m0 -6l-6 6M900 576l6 6m0 -6l-6 6M901 542l6 6m0 -6l-6 6M901 523l6 6m0 -6l-6 6M902 575l6 6m0 -6l-6 6M902 553l6 6m0 -6l-6 6M903 596l6 6m0 -6l-6 6M903 532l6 6m0 -6l-6 6M904 510l6 6m0 -6l-6 6M904 559l6 6m0 -6l-6 6M905 541l6 6m0 -6l-6 6M905 533l6 6m0 -6l-6 6M906 572l6 6m0 -6l-6 6M906 551l6 6m0 -6l-6 6M907 564l6 6m0 -6l-6 6M907 554l6 6m0 -6l-6 6M908 549l6 6m0 -6l-6 6M908 541l6 6m0 -6l-6 6M909 547l6 6m0 -6l-6 6M909 553l6 6m0 -6l-6 6M910 560l6 6m0 -6l-6 6M910 535l6 6m0 -6l-6 6M911 531l6 6m0 -6l-6 6M911 544l6 6m0 -6l-6 6M912 579l6 6m0 -6l-6 6M912 550l6 6m0 -6l-6 6M913 566l6 6m0 -6l-6 6M913 522l6 6m0 -6l-6 6M914 537l6 6m0 -6l-6 6M914 519l6 6m0 -6l-6 6M915 560l6 6m0 -6l-6 6M915 569l6 6m0 -6l-6 6M916 556l6 6m0 -6l-6 6M916 532l6 6m0 -6l-6 6M917 554l6 6m0 -6l-6 6M917 534l6 6m0 -6l-6 6M918 521l6 6m0 -6l-6 6M918 549l6 6m0 -6l-6 6M919 536l6 6m0 -6l-6 6M919 585l6 6m0 -6l-6 6M920 571l6 6m0 -6l-6 6M920 560l6 6m0 -6l-6 6M921 547l6 6m0 -6l-6 6M921 564l6 6m0 -6l-6 6M922 554l6 6m0 -6l-6 6M922 531l6 6m0 -6l-6 6M923 538l6 6m0 -6l-6 6M923 576l6 6m0 -6l-6 6M924 527l6 6m0 -6l-6 6M924 530l6 6m0 -6l-6 6M925 493l6 6m0 -6l-6 6M925 567l6 6m0 -6l-6 6M926 531l6 6m0 -6l-6 6M926 545l6 6m0 -6l-6 6M927 537l6 6m0 -6l-6 6M927 552l6 6m0 -6l-6 6M928 536l6 6m0 -6l-6 6M928 541l6 6m0 -6l-6 6M929 504l6 6m0 -6l-6 6M929 580l6 6m0 -6l-6 6M930 540l6 6m0 -6l-6 6M930 543l6 6m0 -6l-6 6M931 542l6 6m0 -6l-6 6M931 511l6 6m0 -6l-6 6M932 560l6 6m0 -6l-6 6M932 533l6 6m0 -6l-6 6M933 496l6 6m0 -6l-6 6M933 517l6 6m0 -6l-6 6M934 497l6 6m0 -6l-6 6M934 535l6 6m0 -6l-6 6M935 507l6 6m0 -6l-6 6M935 525l6 6m0 -6l-6 6M936 536l6 6m0 -6l-6 6M936 545l6 6m0 -6l-6 6M937 527l6 6m0 -6l-6 6M937 510l6 6m0 -6l-6 6M938 556l6 6m0 -6l-6 6M938 562l6 6m0 -6l-6 6M939 577l6 6m0 -6l-6 6M939 521l6 6m0 -6l-6 6M940 554l6 6m0 -6l-6 6M940 548l6 6m0 -6l-6 6M941 549l6 6m0 -6l-6 6M941 551l6 6m0 -6l-6 6M942 526l6 6m0 -6l-6 6M942 557l6 6m0 -6l-6 6M943 535l6 6m0 -6l-6 6M943 524l6 6m0 -6l-6 6M944 548l6 6m0 -6l-6 6M944 531l6 6m0 -6l-6 6M945 535l6 6m0 -6l-6 6M945 555l6 6m0 -6l-6 6M946 588l6 6m0 -6l-6 6M946 542l6 6m0 -6l-6 6M947 525l6 6m0 -6l-6 6M947 545l6 6m0 -6l-6 6M948 600l6 6m0 -6l-6 6M948 527l6 6m0 -6l-6 6M949 550l6 6m0 -6l-6 6M949 532l6 6m0 -6l-6 6M950 565l6 6m0 -6l-6 6M950 541l6 6m0 -6l-6 6M951 525l6 6m0 -6l-6 6M951 507l6 6m0 -6l-6 6M952 519l6 6m0 -6l-6 6M952 516l6 6m0 -6l-6 6M953 517l6 6m0 -6l-6 6M953 589l6 6m0 -6l-6 6M954 533l6 6m0 -6l-6 6M954 510l6 6m0 -6l-6 6M955 543l6 6m0 -6l-6 6M955 534l6 6m0 -6l-6 6M956 509l6 6m0 -6l-6 6M956 549l6 6m0 -6l-6 6M957 557l6 6m0 -6l-6 6M957 524l6 6m0 -6l-6 6M958 516l6 6m0 -6l-6 6M958 500l6 6m0 -6l-6 6M959 494l6 6m0 -6l-6 6M959 564l6 6m0 -6l-6 6M960 531l6 6m0 -6l-6 6M960 555l6 6m0 -6l-6 6M961 505l6 6m0 -6l-6 6M961 542l6 6m0 -6l-6 6M962 527l6 6m0 -6l-6 6M962 527l6 6m0 -6l-6 6M963 532l6 6m0 -6l-6 6M963 521l6 6m0 -6l-6 6M964 538l6 6m0 -6l-6 6M964 555l6 6m0 -6l-6 6M965 556l6 6m0 -6l-6 6M965 541l6 6m0 -6l-6 6M966 531l6 6m0 -6l-6 6M966 510l6 6m0 -6l-6 6M967 517l6 6m0 -6l-6 6M967 525l6 6m0 -6l-6 6M968 550l6 6m0 -6l-6 6M968 551l6 6m0 -6l-6 6M969 532l6 6m0 -6l-6 6M969 512l6 6m0 -6l-6 6M970 544l6 6m0 -6l-6 6M970 553l6 6m0 -6l-6 6M971 533l6 6m0 -6l-6 6M971 552l6 6m0 -6l-6 6M972 558l6 6m0 -6l-6 6M972 528l6 6m0 -6l-6 6M973 559l6 6m0 -6l-6 6M973 552l6 6m0 -6l-6 6M974 522l6 6m0 -6l-6 6M974 553l6 6m0 -6l-6 6M975 532l6 6m0 -6l-6 6M975 580l6 6m0 -6l-6 6M976 573l6 6m0 -6l-6 6M976 560l6 6m0 -6l-6 6M977 544l6 6m0 -6l-6 6M977 579l6 6m0 -6l-6 6M978 543l6 6m0 -6l-6 6M978 535l6 6m0 -6l-6 6M979 552l6 6m0 -6l-6 6M979 526l6 6m0 -6l-6 6M980 546l6 6m0 -6l-6 6M981 563l6 6m0 -6l-6 6M981 485l6 6m0 -6l-6 6M981 564l6 6m0 -6l-6 6M982 521l6 6m0 -6l-6 6M982 548l6 6m0 -6l-6 6M983 549l6 6m0 -6l-6 6M983 552l6 6m0 -6l-6 6M984 536l6 6m0 -6l-6 6M984 553l6 6m0 -6l-6 6M985 536l6 6m0 -6l-6 6M985 547l6 6m0 -6l-6 6M986 520l6 6m0 -6l-6 6M986 544l6 6m0 -6l-6 6M987 573l6 6m0 -6l-6 6M988 584l6 6m0 -6l-6 6M988 567l6 6m0 -6l-6 6M988 570l6 6m0 -6l-6 6M989 578l6 6m0 -6l-6 6M989 568l6 6m0 -6l-6 6M990 542l6 6m0 -6l-6 6M990 531l6 6m0 -6l-6 6M991 548l6 6m0 -6l-6 6M991 545l6 6m0 -6l-6 6M992 528l6 6m0 -6l-6 6M993 557l6 6m0 -6l-6 6M993 525l6 6m0 -6l-6 6M993 535l6 6m0 -6l-6 6M994 553l6 6m0 -6l-6 6M994 566l6 6m0 -6l-6 6M995 539l6 6m0 -6l-6 6M995 525l6 6m0 -6l-6 6M996 536l6 6m0 -6l-6 6M996 549l6 6m0 -6l-6 6M997 533l6 6m0 -6l-6 6M997 512l6 6m0 -6l-6 6M998 551l6 6m0 -6l-6 6M999 574l6 6m0 -6l-6 6M999 522l6 6m0 -6l-6 6M1000 550l6 6m0 -6l-6 6M1000 523l6 6m0 -6l-6 6M1001 550l6 6m0 -6l-6 6M1001 536l6 6m0 -6l-6 6M1001 548l6 6m0 -6l-6 6M1002 510l6 6m0 -6l-6 6M1003 517l6 6m0 -6l-6 6M1003 541l6 6m0 -6l-6 6M1004 516l6 6m0 -6l-6 6M1004 569l6 6m0 -6l-6 6M1004 485l6 6m0 -6l-6 6M1005 562l6 6m0 -6l-6 6M1006 552l6 6m0 -6l-6 6M1006 556l6 6m0 -6l-6 6M1006 536l6 6m0 -6l-6 6M1007 579l6 6m0 -6l-6 6M1007 552l6 6m0 -6l-6 6M1008 518l6 6m0 -6l-6 6M1008 557l6 6m0 -6l-6 6M1009 550l6 6m0 -6l-6 6M1010 549l6 6m0 -6l-6 6M1010 517l6 6m0 -6l-6 6M1011 543l6 6m0 -6l-6 6M1011 556l6 6m0 -6l-6 6M1011 531l6 6m0 -6l-6 6M1012 583l6 6m0 -6l-6 6M1013 540l6 6m0 -6l-6 6M1013 519l6 6m0 -6l-6 6M1014 573l6 6m0 -6l-6 6M1014 537l6 6m0 -6l-6 6M1015 533l6 6m0 -6l-6 6M1015 540l6 6m0 -6l-6 6M1016 523l6 6m0 -6l-6 6M1016 529l6 6m0 -6l-6 6M1017 552l6 6m0 -6l-6 6M1017 544l6 6m0 -6l-6 6M1018 540l6 6m0 -6l-6 6M1018 509l6 6m0 -6l-6 6M1019 537l6 6m0 -6l-6 6M1019 520l6 6m0 -6l-6 6M1020 537l6 6m0 -6l-6 6M1020 510l6 6m0 -6l-6 6M1021 521l6 6m0 -6l-6 6M1021 519l6 6m0 -6l-6 6M1022 507l6 6m0 -6l-6 6M1022 547l6 6m0 -6l-6 6M1023 535l6 6m0 -6l-6 6M1023 541l6 6m0 -6l-6 6M1024 535l6 6m0 -6l-6 6M1024 527l6 6m0 -6l-6 6M1025 510l6 6m0 -6l-6 6M1025 528l6 6m0 -6l-6 6M1026 520l6 6m0 -6l-6 6M1026 523l6 6m0 -6l-6 6M1027 511l6 6m0 -6l-6 6M1027 533l6 6m0 -6l-6 6M1028 506l6 6m0 -6l-6 6M1028 492l6 6m0 -6l-6 6M1029 525l6 6m0 -6l-6 6M1029 500l6 6m0 -6l-6 6M1030 519l6 6m0 -6l-6 6M1030 528l6 6m0 -6l-6 6M1031 496l6 6m0 -6l-6 6M1031 512l6 6m0 -6l-6 6M1032 537l6 6m0 -6l-6 6M1032 523l6 6m0 -6l-6 6M1033 543l6 6m0 -6l-6 6M1033 559l6 6m0 -6l-6 6M1034 519l6 6m0 -6l-6 6M1034 550l6 6m0 -6l-6 6M1035 509l6 6m0 -6l-6 6M1035 536l6 6m0 -6l-6 6M1036 515l6 6m0 -6l-6 6M1036 543l6 6m0 -6l-6 6M1037 530l6 6m0 -6l-6 6M1037 547l6 6m0 -6l-6 6M1038 538l6 6m0 -6l-6 6M1038 562l6 6m0 -6l-6 6M1039 566l6 6m0 -6l-6 6M1039 557l6 6m0 -6l-6 6M1040 543l6 6m0 -6l-6 6M1040 534l6 6m0 -6l-6 6M1041 535l6 6m0 -6l-6 6M1041 511l6 6m0 -6l-6 6M1042 489l6 6m0 -6l-6 6M1042 578l6 6m0 -6l-6 6M1043 482l6 6m0 -6l-6 6M1043 524l6 6m0 -6l-6 6M1044 541l6 6m0 -6l-6 6M1044 526l6 6m0 -6l-6 6M1045 520l6 6m0 -6l-6 6M1045 535l6 6m0 -6l-6 6M1046 507l6 6m0 -6l-6 6M1046 519l6 6m0 -6l-6 6M1047 543l6 6m0 -6l-6 6M1047 532l6 6m0 -6l-6 6M1048 526l6 6m0 -6l-6 6M1048 538l6 6m0 -6l-6 6M1049 550l6 6m0 -6l-6 6M1049 532l6 6m0 -6l-6 6M1050 553l6 6m0 -6l-6 6M1050 498l6 6m0 -6l-6 6M1051 516l6 6m0 -6l-6 6M1051 531l6 6m0 -6l-6 6M1052 548l6 6m0 -6l-6 6M1052 543l6 6m0 -6l-6 6M1053 549l6 6m0 -6l-6 6M1053 543l6 6m0 -6l-6 6M1054 530l6 6m0 -6l-6 6M1054 565l6 6m0 -6l-6 6M1055 539l6 6m0 -6l-6 6M1055 545l6 6m0 -6l-6 6M1056 558l6 6m0 -6l-6 6M1056 522l6 6m0 -6l-6 6M1057 578l6 6m0 -6l-6 6M1057 545l6 6m0 -6l-6 6M1058 542l6 6m0 -6l-6 6M1058 557l6 6m0 -6l-6 6M1059 548l6 6m0 -6l-6 6M1059 573l6 6m0 -6l-6 6M1060 540l6 6m0 -6l-6 6M1060 564l6 6m0 -6l-6 6M1061 545l6 6m0 -6l-6 6M1061 530l6 6m0 -6l-6 6M1062 547l6 6m0 -6l-6 6M1062 566l6 6m0 -6l-6 6M1063 543l6 6m0 -6l-6 6M1063 484l6 6m0 -6l-6 6M1064 545l6 6m0 -6l-6 6M1064 528l6 6m0 -6l-6 6M1065 594l6 6m0 -6l-6 6M1065 567l6 6m0 -6l-6 6M1066 551l6 6m0 -6l-6 6M1066 531l6 6m0 -6l-6 6M1067 553l6 6m0 -6l-6 6M1067 546l6 6m0 -6l-6 6M1068 585l6 6m0 -6l-6 6M1068 510l6 6m0 -6l-6 6M1069 561l6 6m0 -6l-6 6M1069 514l6 6m0 -6l-6 6M1070 528l6 6m0 -6l-6 6M1070 534l6 6m0 -6l-6 6M1071 533l6 6m0 -6l-6 6M1071 533l6 6m0 -6l-6 6M1072 603l6 6m0 -6l-6 6M1072 488l6 6m0 -6l-6 6M1073 487l6 6m0 -6l-6 6M1073 523l6 6m0 -6l-6 6M1074 550l6 6m0 -6l-6 6M1074 591l6 6m0 -6l-6 6M1075 525l6 6m0 -6l-6 6M1075 516l6 6m0 -6l-6 6M1076 541l6 6m0 -6l-6 6M1076 530l6 6m0 -6l-6 6M1077 545l6 6m0 -6l-6 6M1077 525l6 6m0 -6l-6 6M1078 551l6 6m0 -6l-6 6M1078 555l6 6m0 -6l-6 6M1079 528l6 6m0 -6l-6 6M1079 539l6 6m0 -6l-6 6M1080 542l6 6m0 -6l-6 6M1080 514l6 6m0 -6l-6 6M1081 543l6 6m0 -6l-6 6M1081 543l6 6m0 -6l-6 6M1082 562l6 6m0 -6l-6 6M1082 536l6 6m0 -6l-6 6M1083 530l6 6m0 -6l-6 6M1083 556l6 6m0 -6l-6 6M1084 548l6 6m0 -6l-6 6M1084 558l6 6m0 -6l-6 6M1085 537l6 6m0 -6l-6 6M1085 527l6 6m0 -6l-6 6M1086 565l6 6m0 -6l-6 6M1086 528l6 6m0 -6l-6 6M1087 545l6 6m0 -6l-6 6M1087 507l6 6m0 -6l-6 6M1088 520l6 6m0 -6l-6 6M1088 525l6 6m0 -6l-6 6M1089 519l6 6m0 -6l-6 6M1089 539l6 6m0 -6l-6 6M1090 509l6 6m0 -6l-6 6M1090 545l6 6m0 -6l-6 6M1091 524l6 6m0 -6l-6 6M1091 561l6 6m0 -6l-6 6M1092 527l6 6m0 -6l-6 6M1092 547l6 6m0 -6l-6 6M1093 564l6 6m0 -6l-6 6M1093 529l6 6m0 -6l-6 6M1094 540l6 6m0 -6l-6 6M1094 532l6 6m0 -6l-6 6M1095 540l6 6m0 -6l-6 6M1095 511l6 6m0 -6l-6 6M1096 542l6 6m0 -6l-6 6M1096 505l6 6m0 -6l-6 6M1097 540l6 6m0 -6l-6 6M1097 503l6 6m0 -6l-6 6M1098 550l6 6m0 -6l-6 6M1098 562l6 6m0 -6l-6 6M1099 553l6 6m0 -6l-6 6M1099 553l6 6m0 -6l-6 6M1100 534l6 6m0 -6l-6 6M1100 523l6 6m0 -6l-6 6M1101 552l6 6m0 -6l-6 6M1101 543l6 6m0 -6l-6 6M1102 533l6 6m0 -6l-6 6M1102 514l6 6m0 -6l-6 6M1103 535l6 6m0 -6l-6 6M1103 533l6 6m0 -6l-6 6M1104 564l6 6m0 -6l-6 6M1104 531l6 6m0 -6l-6 6M1105 539l6 6m0 -6l-6 6M1105 561l6 6m0 -6l-6 6M1106 537l6 6m0 -6l-6 6M1106 535l6 6m0 -6l-6 6M1107 557l6 6m0 -6l-6 6M1107 518l6 6m0 -6l-6 6M1108 515l6 6m0 -6l-6 6M1108 524l6 6m0 -6l-6 6M1109 538l6 6m0 -6l-6 6M1109 545l6 6m0 -6l-6 6M1110 540l6 6m0 -6l-6 6M1110 523l6 6m0 -6l-6 6M1111 535l6 6m0 -6l-6 6M1111 543l6 6m0 -6l-6 6M1112 538l6 6m0 -6l-6 6M1112 553l6 6m0 -6l-6 6M1113 574l6 6m0 -6l-6 6M1113 555l6 6m0 -6l-6 6M1114 579l6 6m0 -6l-6 6M1114 546l6 6m0 -6l-6 6M1115 551l6 6m0 -6l-6 6M1115 559l6 6m0 -6l-6 6M1116 542l6 6m0 -6l-6 6M1116 558l6 6m0 -6l-6 6M1117 557l6 6m0 -6l-6 6M1117 516l6 6m0 -6l-6 6M1118 560l6 6m0 -6l-6 6M1118 570l6 6m0 -6l-6 6M1119 522l6 6m0 -6l-6 6M1119 544l6 6m0 -6l-6 6M1120 538l6 6m0 -6l-6 6M1120 500l6 6m0 -6l-6 6M1121 533l6 6m0 -6l-6 6M1121 549l6 6m0 -6l-6 6M1122 552l6 6m0 -6l-6 6M1122 552l6 6m0 -6l-6 6M1123 551l6 6m0 -6l-6 6M1123 526l6 6m0 -6l-6 6M1124 545l6 6m0 -6l-6 6M1124 516l6 6m0 -6l-6 6M1125 533l6 6m0 -6l-6 6M1125 546l6 6m0 -6l-6 6M1126 540l6 6m0 -6l-6 6M1126 521l6 6m0 -6l-6 6M1127 506l6 6m0 -6l-6 6M1127 536l6 6m0 -6l-6 6M1128 509l6 6m0 -6l-6 6M1128 549l6 6m0 -6l-6 6M1129 532l6 6m0 -6l-6 6M1130 531l6 6m0 -6l-6 6M1130 575l6 6m0 -6l-6 6M1130 551l6 6m0 -6l-6 6M1131 553l6 6m0 -6l-6 6M1131 536l6 6m0 -6l-6 6M1132 565l6 6m0 -6l-6 6M1132 541l6 6m0 -6l-6 6M1133 545l6 6m0 -6l-6 6M1133 529l6 6m0 -6l-6 6M1134 543l6 6m0 -6l-6 6M1134 540l6 6m0 -6l-6 6M1135 541l6 6m0 -6l-6 6M1135 523l6 6m0 -6l-6 6M1136 520l6 6m0 -6l-6 6M1137 536l6 6m0 -6l-6 6M1137 536l6 6m0 -6l-6 6M1138 528l6 6m0 -6l-6 6M1138 517l6 6m0 -6l-6 6M1139 531l6 6m0 -6l-6 6M1139 562l6 6m0 -6l-6 6M1140 532l6 6m0 -6l-6 6M1140 512l6 6m0 -6l-6 6M1140 502l6 6m0 -6l-6 6M1141 509l6 6m0 -6l-6 6M1141 551l6 6m0 -6l-6 6M1142 526l6 6m0 -6l-6 6M1142 511l6 6m0 -6l-6 6M1143 536l6 6m0 -6l-6 6M1143 538l6 6m0 -6l-6 6M1144 534l6 6m0 -6l-6 6M1144 592l6 6m0 -6l-6 6M1145 530l6 6m0 -6l-6 6M1145 524l6 6m0 -6l-6 6M1146 542l6 6m0 -6l-6 6M1147 521l6 6m0 -6l-6 6M1147 560l6 6m0 -6l-6 6M1148 520l6 6m0 -6l-6 6M1148 504l6 6m0 -6l-6 6M1149 524l6 6m0 -6l-6 6M1149 547l6 6m0 -6l-6 6M1149 541l6 6m0 -6l-6 6M1150 526l6 6m0 -6l-6 6M1151 514l6 6m0 -6l-6 6M1151 542l6 6m0 -6l-6 6M1151 521l6 6m0 -6l-6 6M1152 541l6 6m0 -6l-6 6M1153 516l6 6m0 -6l-6 6M1153 544l6 6m0 -6l-6 6M1154 524l6 6m0 -6l-6 6M1154 540l6 6m0 -6l-6 6M1154 518l6 6m0 -6l-6 6M1155 529l6 6m0 -6l-6 6M1156 524l6 6m0 -6l-6 6M1156 507l6 6m0 -6l-6 6M1156 542l6 6m0 -6l-6 6M1157 554l6 6m0 -6l-6 6M1158 528l6 6m0 -6l-6 6M1158 541l6 6m0 -6l-6 6M1159 503l6 6m0 -6l-6 6M1159 535l6 6m0 -6l-6 6M1159 522l6 6m0 -6l-6 6M1160 531l6 6m0 -6l-6 6M1161 537l6 6m0 -6l-6 6M1161 474l6 6m0 -6l-6 6M1162 528l6 6m0 -6l-6 6M1162 560l6 6m0 -6l-6 6M1163 543l6 6m0 -6l-6 6M1163 525l6 6m0 -6l-6 6M1164 509l6 6m0 -6l-6 6M1164 531l6 6m0 -6l-6 6M1165 504l6 6m0 -6l-6 6M1165 526l6 6m0 -6l-6 6M1166 542l6 6m0 -6l-6 6M1166 537l6 6m0 -6l-6 6M1167 530l6 6m0 -6l-6 6M1167 546l6 6m0 -6l-6 6M1168 512l6 6m0 -6l-6 6M1168 507l6 6m0 -6l-6 6M1169 562l6 6m0 -6l-6 6M1169 529l6 6m0 -6l-6 6M1170 530l6 6m0 -6l-6 6M1170 526l6 6m0 -6l-6 6M1171 499l6 6m0 -6l-6 6M1171 556l6 6m0 -6l-6 6M1172 493l6 6m0 -6l-6 6M1172 512l6 6m0 -6l-6 6M1173 533l6 6m0 -6l-6 6M1173 521l6 6m0 -6l-6 6M1174 511l6 6m0 -6l-6 6M1174 514l6 6m0 -6l-6 6M1175 514l6 6m0 -6l-6 6M1175 540l6 6m0 -6l-6 6M1176 541l6 6m0 -6l-6 6M1176 531l6 6m0 -6l-6 6M1177 522l6 6m0 -6l-6 6M1177 550l6 6m0 -6l-6 6M1178 527l6 6m0 -6l-6 6M1178 483l6 6m0 -6l-6 6M1179 517l6 6m0 -6l-6 6M1179 517l6 6m0 -6l-6 6M1180 558l6 6m0 -6l-6 6M1180 548l6 6m0 -6l-6 6M1181 540l6 6m0 -6l-6 6M1181 550l6 6m0 -6l-6 6M1182 511l6 6m0 -6l-6 6M1182 505l6 6m0 -6l-6 6M1183 525l6 6m0 -6l-6 6M1183 526l6 6m0 -6l-6 6M1184 548l6 6m0 -6l-6 6M1184 543l6 6m0 -6l-6 6M1185 514l6 6m0 -6l-6 6M1185 498l6 6m0 -6l-6 6M1186 527l6 6m0 -6l-6 6M1186 522l6 6m0 -6l-6 6M1187 498l6 6m0 -6l-6 6M1187 495l6 6m0 -6l-6 6M1188 542l6 6m0 -6l-6 6M1188 518l6 6m0 -6l-6 6M1189 518l6 6m0 -6l-6 6M1189 557l6 6m0 -6l-6 6M1190 537l6 6m0 -6l-6 6M1190 530l6 6m0 -6l-6 6M1191 545l6 6m0 -6l-6 6M1191 523l6 6m0 -6l-6 6M1192 539l6 6m0 -6l-6 6M1192 565l6 6m0 -6l-6 6M1193 541l6 6m0 -6l-6 6M1193 530l6 6m0 -6l-6 6M1194 563l6 6m0 -6l-6 6M1194 529l6 6m0 -6l-6 6M1195 537l6 6m0 -6l-6 6M1195 537l6 6m0 -6l-6 6M1196 522l6 6m0 -6l-6 6M1196 561l6 6m0 -6l-6 6M1197 545l6 6m0 -6l-6 6M1197 539l6 6m0 -6l-6 6M1198 514l6 6m0 -6l-6 6M1198 553l6 6m0 -6l-6 6M1199 538l6 6m0 -6l-6 6M1199 533l6 6m0 -6l-6 6M1200 487l6 6m0 -6l-6 6M1200 571l6 6m0 -6l-6 6M1201 541l6 6m0 -6l-6 6M1201 535l6 6m0 -6l-6 6M1202 534l6 6m0 -6l-6 6M1202 562l6 6m0 -6l-6 6M1203 553l6 6m0 -6l-6 6M1203 534l6 6m0 -6l-6 6M1204 544l6 6m0 -6l-6 6M1204 525l6 6m0 -6l-6 6M1205 558l6 6m0 -6l-6 6M1205 545l6 6m0 -6l-6 6M1206 509l6 6m0 -6l-6 6M1206 531l6 6m0 -6l-6 6M1207 547l6 6m0 -6l-6 6M1207 524l6 6m0 -6l-6 6M1208 547l6 6m0 -6l-6 6M1208 549l6 6m0 -6l-6 6M1209 550l6 6m0 -6l-6 6M1209 539l6 6m0 -6l-6 6M1210 567l6 6m0 -6l-6 6M1210 540l6 6m0 -6l-6 6M1211 558l6 6m0 -6l-6 6M1211 540l6 6m0 -6l-6 6M1212 547l6 6m0 -6l-6 6M1212 535l6 6m0 -6l-6 6M1213 564l6 6m0 -6l-6 6M1213 540l6 6m0 -6l-6 6M1214 569l6 6m0 -6l-6 6M1214 515l6 6m0 -6l-6 6M1215 567l6 6m0 -6l-6 6M1215 551l6 6m0 -6l-6 6M1216 545l6 6m0 -6l-6 6M1216 533l6 6m0 -6l-6 6M1217 540l6 6m0 -6l-6 6M1217 546l6 6m0 -6l-6 6M1218 557l6 6m0 -6l-6 6M1218 509l6 6m0 -6l-6 6M1219 564l6 6m0 -6l-6 6M1219 520l6 6m0 -6l-6 6M1220 559l6 6m0 -6l-6 6M1220 549l6 6m0 -6l-6 6M1221 539l6 6m0 -6l-6 6M1221 550l6 6m0 -6l-6 6M1222 530l6 6m0 -6l-6 6M1222 551l6 6m0 -6l-6 6M1223 546l6 6m0 -6l-6 6M1223 570l6 6m0 -6l-6 6M1224 526l6 6m0 -6l-6 6M1224 552l6 6m0 -6l-6 6M1225 559l6 6m0 -6l-6 6M1225 546l6 6m0 -6l-6 6M1226 531l6 6m0 -6l-6 6M1226 542l6 6m0 -6l-6 6M1227 551l6 6m0 -6l-6 6M1227 539l6 6m0 -6l-6 6M1228 538l6 6m0 -6l-6 6M1228 535l6 6m0 -6l-6 6M1229 550l6 6m0 -6l-6 6M1229 514l6 6m0 -6l-6 6M1230 560l6 6m0 -6l-6 6M1230 587l6 6m0 -6l-6 6M1231 506l6 6m0 -6l-6 6M1231 548l6 6m0 -6l-6 6M1232 505l6 6m0 -6l-6 6M1232 532l6 6m0 -6l-6 6M1233 543l6 6m0 -6l-6 6M1233 515l6 6m0 -6l-6 6M1234 552l6 6m0 -6l-6 6M1234 539l6 6m0 -6l-6 6M1235 555l6 6m0 -6l-6 6M1235 561l6 6m0 -6l-6 6M1236 532l6 6m0 -6l-6 6M1236 529l6 6m0 -6l-6 6M1237 546l6 6m0 -6l-6 6M1237 538l6 6m0 -6l-6 6M1238 550l6 6m0 -6l-6 6M1238 481l6 6m0 -6l-6 6M1239 562l6 6m0 -6l-6 6M1239 515l6 6m0 -6l-6 6M1240 519l6 6m0 -6l-6 6M1240 539l6 6m0 -6l-6 6M1241 552l6 6m0 -6l-6 6M1241 553l6 6m0 -6l-6 6M1242 530l6 6m0 -6l-6 6M1242 532l6 6m0 -6l-6 6M1243 549l6 6m0 -6l-6 6M1243 573l6 6m0 -6l-6 6M1244 529l6 6m0 -6l-6 6M1244 532l6 6m0 -6l-6 6M1245 533l6 6m0 -6l-6 6M1245 539l6 6m0 -6l-6 6M1246 542l6 6m0 -6l-6 6M1246 550l6 6m0 -6l-6 6M1247 556l6 6m0 -6l-6 6M1247 526l6 6m0 -6l-6 6M1248 571l6 6m0 -6l-6 6M1248 527l6 6m0 -6l-6 6M1249 530l6 6m0 -6l-6 6M1249 532l6 6m0 -6l-6 6M1250 552l6 6m0 -6l-6 6M1250 570l6 6m0 -6l-6 6M1251 520l6 6m0 -6l-6 6M1251 527l6 6m0 -6l-6 6M1252 506l6 6m0 -6l-6 6M1252 565l6 6m0 -6l-6 6M1253 523l6 6m0 -6l-6 6M1253 543l6 6m0 -6l-6 6M1254 532l6 6m0 -6l-6 6M1254 542l6 6m0 -6l-6 6M1255 556l6 6m0 -6l-6 6M1255 571l6 6m0 -6l-6 6M1256 530l6 6m0 -6l-6 6M1256 537l6 6m0 -6l-6 6M1257 554l6 6m0 -6l-6 6M1257 513l6 6m0 -6l-6 6M1258 556l6 6m0 -6l-6 6M1258 550l6 6m0 -6l-6 6M1259 529l6 6m0 -6l-6 6M1259 512l6 6m0 -6l-6 6M1260 556l6 6m0 -6l-6 6M1260 535l6 6m0 -6l-6 6M1261 528l6 6m0 -6l-6 6M1261 558l6 6m0 -6l-6 6M1262 540l6 6m0 -6l-6 6M1262 533l6 6m0 -6l-6 6M1263 527l6 6m0 -6l-6 6M1263 568l6 6m0 -6l-6 6M1264 572l6 6m0 -6l-6 6M1264 560l6 6m0 -6l-6 6M1265 554l6 6m0 -6l-6 6M1265 546l6 6m0 -6l-6 6M1266 550l6 6m0 -6l-6 6M1266 509l6 6m0 -6l-6 6M1267 535l6 6m0 -6l-6 6M1267 534l6 6m0 -6l-6 6M1268 540l6 6m0 -6l-6 6M1268 544l6 6m0 -6l-6 6M1269 533l6 6m0 -6l-6 6M1269 534l6 6m0 -6l-6 6M1270 533l6 6m0 -6l-6 6M1270 551l6 6m0 -6l-6 6M1271 548l6 6m0 -6l-6 6M1272 502l6 6m0 -6l-6 6M1272 507l6 6m0 -6l-6 6M1272 507l6 6m0 -6l-6 6M1273 519l6 6m0 -6l-6 6M1273 559l6 6m0 -6l-6 6M1274 532l6 6m0 -6l-6 6M1274 542l6 6m0 -6l-6 6M1275 536l6 6m0 -6l-6 6M1276 553l6 6m0 -6l-6 6M1276 547l6 6m0 -6l-6 6M1276 514l6 6m0 -6l-6 6M1277 575l6 6m0 -6l-6 6M1277 516l6 6m0 -6l-6 6M1278 507l6 6m0 -6l-6 6M1279 546l6 6m0 -6l-6 6M1279 529l6 6m0 -6l-6 6M1280 526l6 6m0 -6l-6 6M1280 529l6 6m0 -6l-6 6M1280 528l6 6m0 -6l-6 6M1281 546l6 6m0 -6l-6 6M1281 524l6 6m0 -6l-6 6M1282 525l6 6m0 -6l-6 6M1283 521l6 6m0 -6l-6 6M1283 587l6 6m0 -6l-6 6M1283 572l6 6m0 -6l-6 6M1284 555l6 6m0 -6l-6 6M1285 560l6 6m0 -6l-6 6M1285 549l6 6m0 -6l-6 6M1286 540l6 6m0 -6l-6 6M1286 537l6 6m0 -6l-6 6M1287 551l6 6m0 -6l-6 6M1287 540l6 6m0 -6l-6 6M1288 540l6 6m0 -6l-6 6M1288 546l6 6m0 -6l-6 6M1289 579l6 6m0 -6l-6 6M1289 542l6 6m0 -6l-6 6M1289 534l6 6m0 -6l-6 6M1290 561l6 6m0 -6l-6 6M1291 520l6 6m0 -6l-6 6M1291 532l6 6m0 -6l-6 6M1292 545l6 6m0 -6l-6 6M1292 519l6 6m0 -6l-6 6M1293 526l6 6m0 -6l-6 6M1293 541l6 6m0 -6l-6 6M1293 555l6 6m0 -6l-6 6M1294 553l6 6m0 -6l-6 6M1295 545l6 6m0 -6l-6 6M1295 549l6 6m0 -6l-6 6M1295 538l6 6m0 -6l-6 6M1296 535l6 6m0 -6l-6 6M1296 516l6 6m0 -6l-6 6M1297 573l6 6m0 -6l-6 6M1297 533l6 6m0 -6l-6 6M1298 524l6 6m0 -6l-6 6M1299 572l6 6m0 -6l-6 6M1299 533l6 6m0 -6l-6 6M1300 534l6 6m0 -6l-6 6M1300 543l6 6m0 -6l-6 6M1301 502l6 6m0 -6l-6 6M1301 485l6 6m0 -6l-6 6M1302 547l6 6m0 -6l-6 6M1302 508l6 6m0 -6l-6 6M1303 557l6 6m0 -6l-6 6M1303 587l6 6m0 -6l-6 6M1304 539l6 6m0 -6l-6 6M1304 541l6 6m0 -6l-6 6M1305 523l6 6m0 -6l-6 6M1305 532l6 6m0 -6l-6 6M1306 553l6 6m0 -6l-6 6M1306 518l6 6m0 -6l-6 6M1307 519l6 6m0 -6l-6 6M1307 535l6 6m0 -6l-6 6M1308 571l6 6m0 -6l-6 6M1308 531l6 6m0 -6l-6 6M1309 540l6 6m0 -6l-6 6M1309 549l6 6m0 -6l-6 6M1310 528l6 6m0 -6l-6 6M1310 529l6 6m0 -6l-6 6M1311 539l6 6m0 -6l-6 6M1311 521l6 6m0 -6l-6 6M1312 523l6 6m0 -6l-6 6M1312 527l6 6m0 -6l-6 6M1313 516l6 6m0 -6l-6 6M1313 527l6 6m0 -6l-6 6M1314 512l6 6m0 -6l-6 6M1314 517l6 6m0 -6l-6 6M1315 572l6 6m0 -6l-6 6M1315 560l6 6m0 -6l-6 6M1316 570l6 6m0 -6l-6 6M1316 533l6 6m0 -6l-6 6M1317 561l6 6m0 -6l-6 6M1317 542l6 6m0 -6l-6 6M1318 520l6 6m0 -6l-6 6M1318 541l6 6m0 -6l-6 6M1319 515l6 6m0 -6l-6 6M1319 505l6 6m0 -6l-6 6M1320 497l6 6m0 -6l-6 6M1320 523l6 6m0 -6l-6 6M1321 480l6 6m0 -6l-6 6M1321 541l6 6m0 -6l-6 6M1322 526l6 6m0 -6l-6 6M1322 550l6 6m0 -6l-6 6M1323 528l6 6m0 -6l-6 6M1323 529l6 6m0 -6l-6 6M1324 509l6 6m0 -6l-6 6M1324 521l6 6m0 -6l-6 6M1325 556l6 6m0 -6l-6 6M1325 541l6 6m0 -6l-6 6M1326 549l6 6m0 -6l-6 6M1326 556l6 6m0 -6l-6 6M1327 525l6 6m0 -6l-6 6M1327 542l6 6m0 -6l-6 6M1328 554l6 6m0 -6l-6 6M1328 531l6 6m0 -6l-6 6M1329 531l6 6m0 -6l-6 6M1329 551l6 6m0 -6l-6 6M1330 531l6 6m0 -6l-6 6M1330 515l6 6m0 -6l-6 6M1331 515l6 6m0 -6l-6 6M1331 535l6 6m0 -6l-6 6M1332 519l6 6m0 -6l-6 6M1332 544l6 6m0 -6l-6 6M1333 525l6 6m0 -6l-6 6M1333 512l6 6m0 -6l-6 6M1334 552l6 6m0 -6l-6 6M1334 536l6 6m0 -6l-6 6M1335 545l6 6m0 -6l-6 6M1335 548l6 6m0 -6l-6 6M1336 529l6 6m0 -6l-6 6M1336 513l6 6m0 -6l-6 6M1337 498l6 6m0 -6l-6 6M1337 503l6 6m0 -6l-6 6M1338 512l6 6m0 -6l-6 6M1338 529l6 6m0 -6l-6 6M1339 559l6 6m0 -6l-6 6M1339 553l6 6m0 -6l-6 6M1340 537l6 6m0 -6l-6 6M1340 540l6 6m0 -6l-6 6M1341 498l6 6m0 -6l-6 6M1341 568l6 6m0 -6l-6 6M1342 521l6 6m0 -6l-6 6M1342 531l6 6m0 -6l-6 6M1343 543l6 6m0 -6l-6 6M1343 576l6 6m0 -6l-6 6M1344 542l6 6m0 -6l-6 6M1344 521l6 6m0 -6l-6 6M1345 520l6 6m0 -6l-6 6M1345 519l6 6m0 -6l-6 6M1346 543l6 6m0 -6l-6 6M1346 507l6 6m0 -6l-6 6M1347 567l6 6m0 -6l-6 6M1347 538l6 6m0 -6l-6 6M1348 529l6 6m0 -6l-6 6M1348 512l6 6m0 -6l-6 6M1349 496l6 6m0 -6l-6 6M1349 480l6 6m0 -6l-6 6M1350 509l6 6m0 -6l-6 6M1350 489l6 6m0 -6l-6 6M1351 532l6 6m0 -6l-6 6M1351 549l6 6m0 -6l-6 6M1352 542l6 6m0 -6l-6 6M1352 506l6 6m0 -6l-6 6M1353 501l6 6m0 -6l-6 6M1353 525l6 6m0 -6l-6 6M1354 549l6 6m0 -6l-6 6M1354 536l6 6m0 -6l-6 6M1355 521l6 6m0 -6l-6 6M1355 507l6 6m0 -6l-6 6M1356 543l6 6m0 -6l-6 6M1356 545l6 6m0 -6l-6 6M1357 539l6 6m0 -6l-6 6M1357 534l6 6m0 -6l-6 6M1358 508l6 6m0 -6l-6 6M1358 518l6 6m0 -6l-6 6M1359 536l6 6m0 -6l-6 6M1359 529l6 6m0 -6l-6 6M1360 518l6 6m0 -6l-6 6M1360 539l6 6m0 -6l-6 6M1361 531l6 6m0 -6l-6 6M1361 505l6 6m0 -6l-6 6M1362 506l6 6m0 -6l-6 6M1362 574l6 6m0 -6l-6 6M1363 526l6 6m0 -6l-6 6M1363 534l6 6m0 -6l-6 6M1364 557l6 6m0 -6l-6 6M1364 527l6 6m0 -6l-6 6M1365 512l6 6m0 -6l-6 6M1365 530l6 6m0 -6l-6 6M1366 525l6 6m0 -6l-6 6M1366 517l6 6m0 -6l-6 6M1367 515l6 6m0 -6l-6 6M1367 514l6 6m0 -6l-6 6M1368 541l6 6m0 -6l-6 6M1368 508l6 6m0 -6l-6 6M1369 506l6 6m0 -6l-6 6M1369 543l6 6m0 -6l-6 6M1370 520l6 6m0 -6l-6 6M1370 519l6 6m0 -6l-6 6M1371 535l6 6m0 -6l-6 6M1371 516l6 6m0 -6l-6 6M1372 527l6 6m0 -6l-6 6M1372 524l6 6m0 -6l-6 6M1373 494l6 6m0 -6l-6 6M1373 535l6 6m0 -6l-6 6M1374 502l6 6m0 -6l-6 6M1374 527l6 6m0 -6l-6 6M1375 548l6 6m0 -6l-6 6M1375 503l6 6m0 -6l-6 6M1376 508l6 6m0 -6l-6 6M1376 501l6 6m0 -6l-6 6M1377 499l6 6m0 -6l-6 6M1377 492l6 6m0 -6l-6 6M1378 501l6 6m0 -6l-6 6M1378 511l6 6m0 -6l-6 6M1379 500l6 6m0 -6l-6 6M1379 497l6 6m0 -6l-6 6M1380 516l6 6m0 -6l-6 6M1380 495l6 6m0 -6l-6 6M1381 494l6 6m0 -6l-6 6M1381 502l6 6m0 -6l-6 6M1382 500l6 6m0 -6l-6 6M1382 498l6 6m0 -6l-6 6M1383 529l6 6m0 -6l-6 6M1383 515l6 6m0 -6l-6 6M1384 508l6 6m0 -6l-6 6M1384 474l6 6m0 -6l-6 6M1385 515l6 6m0 -6l-6 6M1385 509l6 6m0 -6l-6 6M1386 544l6 6m0 -6l-6 6M1386 484l6 6m0 -6l-6 6M1387 522l6 6m0 -6l-6 6M1387 519l6 6m0 -6l-6 6M1388 509l6 6m0 -6l-6 6M1388 531l6 6m0 -6l-6 6M1389 528l6 6m0 -6l-6 6M1389 518l6 6m0 -6l-6 6M1390 523l6 6m0 -6l-6 6M1390 489l6 6m0 -6l-6 6M1391 513l6 6m0 -6l-6 6M1391 473l6 6m0 -6l-6 6M1392 476l6 6m0 -6l-6 6M1392 518l6 6m0 -6l-6 6M1393 505l6 6m0 -6l-6 6M1393 492l6 6m0 -6l-6 6M1394 505l6 6m0 -6l-6 6M1394 552l6 6m0 -6l-6 6M1395 521l6 6m0 -6l-6 6M1395 506l6 6m0 -6l-6 6M1396 506l6 6m0 -6l-6 6M1396 474l6 6m0 -6l-6 6M1397 464l6 6m0 -6l-6 6M1397 502l6 6m0 -6l-6 6M1398 462l6 6m0 -6l-6 6M1398 513l6 6m0 -6l-6 6M1399 502l6 6m0 -6l-6 6M1399 517l6 6m0 -6l-6 6M1400 466l6 6m0 -6l-6 6M1400 500l6 6m0 -6l-6 6M1401 489l6 6m0 -6l-6 6M1401 514l6 6m0 -6l-6 6M1402 497l6 6m0 -6l-6 6M1402 503l6 6m0 -6l-6 6M1403 512l6 6m0 -6l-6 6M1403 543l6 6m0 -6l-6 6M1404 496l6 6m0 -6l-6 6M1404 516l6 6m0 -6l-6 6M1405 507l6 6m0 -6l-6 6M1405 522l6 6m0 -6l-6 6M1406 481l6 6m0 -6l-6 6M1406 501l6 6m0 -6l-6 6M1407 495l6 6m0 -6l-6 6M1407 533l6 6m0 -6l-6 6M1408 506l6 6m0 -6l-6 6M1408 509l6 6m0 -6l-6 6M1409 497l6 6m0 -6l-6 6M1409 493l6 6m0 -6l-6 6M1410 511l6 6m0 -6l-6 6M1410 493l6 6m0 -6l-6 6M1411 512l6 6m0 -6l-6 6M1412 508l6 6m0 -6l-6 6M1412 507l6 6m0 -6l-6 6M1412 528l6 6m0 -6l-6 6M1413 537l6 6m0 -6l-6 6M1413 470l6 6m0 -6l-6 6M1414 534l6 6m0 -6l-6 6M1414 513l6 6m0 -6l-6 6M1415 494l6 6m0 -6l-6 6M1416 517l6 6m0 -6l-6 6M1416 486l6 6m0 -6l-6 6M1416 536l6 6m0 -6l-6 6M1417 507l6 6m0 -6l-6 6M1417 502l6 6m0 -6l-6 6M1418 468l6 6m0 -6l-6 6M1418 482l6 6m0 -6l-6 6M1419 504l6 6m0 -6l-6 6M1419 493l6 6m0 -6l-6 6M1420 504l6 6m0 -6l-6 6M1420 519l6 6m0 -6l-6 6M1421 509l6 6m0 -6l-6 6M1421 482l6 6m0 -6l-6 6M1422 507l6 6m0 -6l-6 6M1422 515l6 6m0 -6l-6 6M1423 511l6 6m0 -6l-6 6M1424 513l6 6m0 -6l-6 6M1424 524l6 6m0 -6l-6 6M1425 493l6 6m0 -6l-6 6M1425 517l6 6m0 -6l-6 6M1425 487l6 6m0 -6l-6 6M1426 532l6 6m0 -6l-6 6" stroke="#000" stroke-width="1" fill="none" shape-rendering="crispEdges"/>
<polyline points="162.0,621.0 164.6,619.8 167.1,619.8 169.7,619.1 172.2,619.1 174.8,619.7 177.4,619.0 179.9,617.2 182.5,616.3 185.0,616.0 187.6,615.7 190.2,613.7 192.7,613.3 195.3,613.1 197.8,613.2 200.4,612.2 203.0,610.6 205.5,609.9 208.1,608.7 210.6,608.8 213.2,606.5 215.7,607.3 218.3,606.6 220.9,607.2 223.4,606.6 226.0,605.8 228.5,605.7 231.1,606.7 233.7,604.9 236.2,603.0 238.8,604.7 241.3,606.0 243.9,605.7 246.5,606.7 249.0,606.4 251.6,607.7 254.1,607.3 256.7,606.3 259.3,606.5 261.8,606.1 264.4,605.6 266.9,604.5 269.5,604.1 272.1,604.5 274.6,604.6 277.2,605.0 279.7,605.2 282.3,605.3 284.9,604.7 287.4,602.3 290.0,601.0 292.5,600.8 295.1,601.4 297.6,601.4 300.2,601.2 302.8,602.0 305.3,602.2 307.9,600.9 310.4,599.4 313.0,599.7 315.6,599.1 318.1,599.7 320.7,597.0 323.2,597.7 325.8,597.9 328.4,596.9 330.9,596.6 333.5,595.5 336.0,595.8 338.6,595.2 341.2,594.5 343.7,593.8 346.3,591.8 348.8,590.1 351.4,589.7 354.0,589.3 356.5,589.9 359.1,589.1 361.6,589.0 364.2,588.6 366.8,589.3 369.3,589.3 371.9,588.5 374.4,587.4 377.0,587.9 379.5,586.4 382.1,584.7 384.7,583.8 387.2,581.9 389.8,580.9 392.3,579.0 394.9,579.0 397.5,578.2 400.0,582.9 402.6,578.8 405.1,575.6 407.7,573.0 410.3,570.3 412.8,569.4 415.4,568.2 417.9,568.0 420.5,568.9 423.1,568.3 425.6,567.2 428.2,567.0 430.7,565.4 433.3,566.1 435.9,566.8 438.4,566.1 441.0,566.0 443.5,566.3 446.1,565.2 448.7,564.7 451.2,564.0 453.8,563.7 456.3,563.3 458.9,563.0 461.4,563.5 464.0,561.7 466.6,561.8 469.1,563.5 471.7,561.1 474.2,561.0 476.8,559.5 479.4,558.2 481.9,558.7 484.5,558.7 487.0,557.8 489.6,557.7 492.2,557.5 494.7,557.9 497.3,557.8 499.8,558.9 502.4,558.3 505.0,557.7 507.5,556.7 510.1,556.2 512.6,557.0 515.2,557.0 517.8,557.9 520.3,557.0 522.9,555.3 525.4,555.3 528.0,555.9 530.6,555.8 533.1,556.0 535.7,556.9 538.2,557.1 540.8,556.9 543.3,556.2 545.9,553.4 548.5,558.1 551.0,559.3 553.6,559.3 556.1,560.2 558.7,558.8 561.3,559.0 563.8,561.1 566.4,559.2 568.9,559.0 571.5,559.1 574.1,558.9 576.6,559.3 579.2,559.7 581.7,559.7 584.3,558.2 586.9,556.0 589.4,554.3 592.0,556.1 594.5,557.5" fill="none" stroke="#1e90ff" stroke-width="4.6" stroke-linejoin="round"/>
<polyline points="752.6,547.2 755.2,547.5 757.7,546.8 760.3,547.5 762.9,546.7 765.4,546.4 768.0,546.5 770.5,546.2 773.1,547.4 775.7,547.3 778.2,547.0 780.8,546.4 783.3,546.2 785.9,546.4 788.5,545.9 791.0,545.3 793.6,543.6 796.1,544.1 798.7,544.2 801.3,544.1 803.8,544.4 806.4,542.1 808.9,543.7 811.5,543.9 814.1,544.1 816.6,545.2 819.2,547.8 821.7,552.7 824.3,556.5 826.8,553.5 829.4,549.3 832.0,544.7 834.5,540.2 837.1,540.9 839.6,540.6 842.2,539.6 844.8,539.6 847.3,540.8 849.9,541.2 852.4,540.9 855.0,540.2 857.6,541.0 860.1,540.1 862.7,540.6 865.2,540.0 867.8,539.5 870.4,541.1 872.9,542.5 875.5,544.7 878.0,545.1 880.6,543.4 883.2,543.3 885.7,543.1 888.3,545.4 890.8,545.4 893.4,545.4 896.0,543.8 898.5,543.2 901.1,542.2 903.6,541.9 906.2,541.1 908.7,539.7 911.3,539.1 913.9,539.1 916.4,535.8 919.0,538.1 921.5,536.4 924.1,535.4 926.7,535.2 929.2,534.1 931.8,533.4 934.3,534.0 936.9,533.4 939.5,533.8 942.0,534.1 944.6,534.8 947.1,535.1 949.7,536.2 952.3,535.2 954.8,529.0 957.4,527.7 959.9,528.5 962.5,528.7 965.1,529.8 967.6,530.0 970.2,529.4 972.7,530.9 975.3,530.1 977.9,530.1 980.4,528.5 983.0,528.5 985.5,528.4 988.1,528.7 990.6,528.4 993.2,529.6 995.8,528.3 998.3,528.3 1000.9,529.8 1003.4,529.2 1006.0,529.2 1008.6,528.5 1011.1,529.4 1013.7,529.3 1016.2,528.3 1018.8,527.9 1021.4,526.0 1023.9,525.5 1026.5,525.6 1029.0,524.7 1031.6,524.1 1034.2,523.2 1036.7,524.6 1039.3,525.9 1041.8,524.2 1044.4,524.8 1047.0,524.4 1049.5,525.1 1052.1,525.9 1054.6,525.7 1057.2,526.1 1059.8,526.6 1062.3,527.5 1064.9,526.6 1067.4,525.3 1070.0,524.8 1072.5,526.1 1075.1,524.9 1077.7,526.9 1080.2,527.8 1082.8,528.3 1085.3,529.0 1087.9,528.3 1090.5,526.6 1093.0,524.9 1095.6,527.0 1098.1,528.7 1100.7,530.0 1103.3,532.0 1105.8,534.4 1108.4,530.2 1110.9,527.9 1113.5,528.6 1116.1,530.1 1118.6,529.3 1121.2,528.6 1123.7,528.1 1126.3,529.3 1128.9,529.0 1131.4,529.5 1134.0,529.4 1136.5,527.2 1139.1,526.0 1141.7,519.2 1144.2,521.3 1146.8,519.2 1149.3,520.3 1151.9,520.2 1154.4,519.5 1157.0,519.9 1159.6,519.0 1162.1,517.5 1164.7,515.8 1167.2,517.2 1169.8,519.4 1172.4,519.4 1174.9,518.4 1177.5,519.1 1180.0,518.9 1182.6,519.5 1185.2,520.3 1187.7,521.2 1190.3,520.7 1192.8,520.9 1195.4,520.4 1198.0,520.8 1200.5,520.9 1203.1,522.9 1205.6,522.6 1208.2,522.4 1210.8,522.6 1213.3,522.1 1215.9,522.9 1218.4,523.0 1221.0,524.8 1223.6,524.1 1226.1,523.8 1228.7,524.9 1231.2,525.3 1233.8,524.1 1236.3,522.8 1238.9,522.2 1241.5,524.1 1244.0,524.4 1246.6,524.9 1249.1,525.5 1251.7,527.0 1254.3,527.1 1256.8,528.0 1259.4,528.7 1261.9,527.8 1264.5,527.8 1267.1,528.4 1269.6,526.1 1272.2,525.1 1274.7,524.5 1277.3,527.2 1279.9,529.4 1282.4,532.0 1285.0,532.2 1287.5,530.5 1290.1,528.8 1292.7,527.8 1295.2,529.7 1297.8,528.8 1300.3,528.6 1302.9,528.6 1305.5,527.3 1308.0,525.2 1310.6,524.3 1313.1,521.9 1315.7,520.3 1318.2,520.0 1320.8,518.6 1323.4,518.4 1325.9,516.5 1328.5,514.2 1331.0,512.8 1333.6,511.7 1336.2,510.1 1338.7,509.2 1341.3,508.5 1343.8,511.6 1346.4,513.7 1349.0,514.7 1351.5,512.9 1354.1,513.0 1356.6,512.5 1359.2,512.6 1361.8,513.3 1364.3,514.4 1366.9,515.4 1369.4,515.0 1372.0,515.6 1374.6,514.4 1377.1,510.6 1379.7,507.8 1382.2,508.3 1384.8,506.2 1387.4,506.4 1389.9,503.2 1392.5,507.2 1395.0,505.7 1397.6,504.6 1400.1,503.2 1402.7,503.5 1405.3,502.5 1407.8,501.6 1410.4,500.7 1412.9,501.8 1415.5,501.5 1418.1,501.7 1420.6,500.0 1423.2,503.4 1425.7,504.1 1428.3,504.6 1430.9,504.0 1433.4,505.0" fill="none" stroke="#1e90ff" stroke-width="4.6" stroke-linejoin="round"/>
</g>
<text transform="translate(136.30 822.00) scale(1 1.045)" font-size="30" text-anchor="end" ><tspan dy="3">&#8722;</tspan><tspan dy="-3">5</tspan></text>
<text transform="translate(136.30 650.50) scale(1 1.045)" font-size="30" text-anchor="end" >0</text>
<text transform="translate(136.30 479.00) scale(1 1.045)" font-size="30" text-anchor="end" >5</text>
<text transform="translate(136.30 307.50) scale(1 1.045)" font-size="30" text-anchor="end" >10</text>
<text transform="translate(136.30 136.00) scale(1 1.045)" font-size="30" text-anchor="end" >15</text>
<text transform="translate(201.38 892.30) scale(1 1.045)" font-size="30" text-anchor="middle" >60980</text>
<text transform="translate(398.25 892.30) scale(1 1.045)" font-size="30" text-anchor="middle" >60985</text>
<text transform="translate(595.12 892.30) scale(1 1.045)" font-size="30" text-anchor="middle" >60990</text>
<text transform="translate(792.00 892.30) scale(1 1.045)" font-size="30" text-anchor="middle" >60995</text>
<text transform="translate(988.88 892.30) scale(1 1.045)" font-size="30" text-anchor="middle" >61000</text>
<text transform="translate(1185.75 892.30) scale(1 1.045)" font-size="30" text-anchor="middle" >61005</text>
<text transform="translate(1382.62 892.30) scale(1 1.045)" font-size="30" text-anchor="middle" >61010</text>
<text transform="translate(792.50 923.00) scale(1 1.045)" font-size="30" text-anchor="middle" font-weight="bold" >Modified Julian Date</text>
<text transform="translate(93.5 485.5) rotate(-90) scale(1 1.045)" font-size="30" font-weight="bold" text-anchor="middle">nanosecond</text>
<text transform="translate(200.3 809) scale(1 1.03)" font-size="30" font-weight="bold" xml:space="preserve" style="white-space:pre">_2511_VS06PT13_VS06PT13.P3AA5</text>
<text transform="translate(755 809) scale(1 1.03)" font-size="30" font-weight="bold" xml:space="preserve" style="white-space:pre">GPS P3 <tspan font-weight="normal">(</tspan>x<tspan font-size="21" dy="8">black</tspan><tspan dy="-8" font-weight="normal">)</tspan> ,  GPSPPP <tspan font-weight="normal">(</tspan>o<tspan font-size="21" dy="8">blue</tspan><tspan dy="-8" font-weight="normal">)</tspan>  2667Ep</text>
<g clip-path="url(#c2)">
<path d="M159 1157l6 6m0 -6l-6 6M160 1178l6 6m0 -6l-6 6M161 1202l6 6m0 -6l-6 6M161 1167l6 6m0 -6l-6 6M161 1250l6 6m0 -6l-6 6M162 1154l6 6m0 -6l-6 6M162 1189l6 6m0 -6l-6 6M163 1193l6 6m0 -6l-6 6M164 1174l6 6m0 -6l-6 6M164 1078l6 6m0 -6l-6 6M165 1156l6 6m0 -6l-6 6M165 1209l6 6m0 -6l-6 6M165 1113l6 6m0 -6l-6 6M166 1152l6 6m0 -6l-6 6M167 1149l6 6m0 -6l-6 6M167 1168l6 6m0 -6l-6 6M168 1210l6 6m0 -6l-6 6M168 1158l6 6m0 -6l-6 6M168 1196l6 6m0 -6l-6 6M169 1213l6 6m0 -6l-6 6M169 1061l6 6m0 -6l-6 6M170 1166l6 6m0 -6l-6 6M171 1177l6 6m0 -6l-6 6M171 1184l6 6m0 -6l-6 6M172 1227l6 6m0 -6l-6 6M172 1209l6 6m0 -6l-6 6M172 1252l6 6m0 -6l-6 6M173 1255l6 6m0 -6l-6 6M174 1238l6 6m0 -6l-6 6M174 1202l6 6m0 -6l-6 6M175 1246l6 6m0 -6l-6 6M175 1135l6 6m0 -6l-6 6M176 1117l6 6m0 -6l-6 6M176 1191l6 6m0 -6l-6 6M177 1192l6 6m0 -6l-6 6M177 1054l6 6m0 -6l-6 6M178 1150l6 6m0 -6l-6 6M178 1247l6 6m0 -6l-6 6M179 1166l6 6m0 -6l-6 6M179 1195l6 6m0 -6l-6 6M180 1157l6 6m0 -6l-6 6M180 1285l6 6m0 -6l-6 6M181 1197l6 6m0 -6l-6 6M181 1203l6 6m0 -6l-6 6M182 1141l6 6m0 -6l-6 6M182 1183l6 6m0 -6l-6 6M183 1173l6 6m0 -6l-6 6M183 1181l6 6m0 -6l-6 6M184 1295l6 6m0 -6l-6 6M184 1188l6 6m0 -6l-6 6M185 1203l6 6m0 -6l-6 6M185 1207l6 6m0 -6l-6 6M186 1224l6 6m0 -6l-6 6M186 1147l6 6m0 -6l-6 6M187 1157l6 6m0 -6l-6 6M187 1268l6 6m0 -6l-6 6M188 1149l6 6m0 -6l-6 6M188 1216l6 6m0 -6l-6 6M189 1255l6 6m0 -6l-6 6M189 1150l6 6m0 -6l-6 6M190 1201l6 6m0 -6l-6 6M190 1175l6 6m0 -6l-6 6M191 1179l6 6m0 -6l-6 6M191 1115l6 6m0 -6l-6 6M192 1257l6 6m0 -6l-6 6M192 1140l6 6m0 -6l-6 6M193 1215l6 6m0 -6l-6 6M193 1167l6 6m0 -6l-6 6M194 1181l6 6m0 -6l-6 6M194 1225l6 6m0 -6l-6 6M195 1230l6 6m0 -6l-6 6M195 1188l6 6m0 -6l-6 6M196 1140l6 6m0 -6l-6 6M196 1217l6 6m0 -6l-6 6M197 1219l6 6m0 -6l-6 6M197 1270l6 6m0 -6l-6 6M198 1186l6 6m0 -6l-6 6M198 1098l6 6m0 -6l-6 6M199 1147l6 6m0 -6l-6 6M199 1252l6 6m0 -6l-6 6M200 1146l6 6m0 -6l-6 6M200 1063l6 6m0 -6l-6 6M201 1182l6 6m0 -6l-6 6M201 1158l6 6m0 -6l-6 6M202 1213l6 6m0 -6l-6 6M202 1121l6 6m0 -6l-6 6M203 1166l6 6m0 -6l-6 6M203 1128l6 6m0 -6l-6 6M204 1102l6 6m0 -6l-6 6M204 1152l6 6m0 -6l-6 6M205 1233l6 6m0 -6l-6 6M205 1160l6 6m0 -6l-6 6M206 1165l6 6m0 -6l-6 6M206 1181l6 6m0 -6l-6 6M207 1144l6 6m0 -6l-6 6M207 1149l6 6m0 -6l-6 6M208 1218l6 6m0 -6l-6 6M208 1213l6 6m0 -6l-6 6M209 1281l6 6m0 -6l-6 6M209 1200l6 6m0 -6l-6 6M210 1147l6 6m0 -6l-6 6M210 1237l6 6m0 -6l-6 6M211 1168l6 6m0 -6l-6 6M211 1196l6 6m0 -6l-6 6M212 1190l6 6m0 -6l-6 6M212 1181l6 6m0 -6l-6 6M213 1195l6 6m0 -6l-6 6M213 1165l6 6m0 -6l-6 6M214 1151l6 6m0 -6l-6 6M214 1193l6 6m0 -6l-6 6M215 1204l6 6m0 -6l-6 6M215 1164l6 6m0 -6l-6 6M216 1158l6 6m0 -6l-6 6M216 1241l6 6m0 -6l-6 6M217 1180l6 6m0 -6l-6 6M217 1205l6 6m0 -6l-6 6M218 1132l6 6m0 -6l-6 6M218 1221l6 6m0 -6l-6 6M219 1054l6 6m0 -6l-6 6M219 1238l6 6m0 -6l-6 6M220 1150l6 6m0 -6l-6 6M220 1245l6 6m0 -6l-6 6M221 1175l6 6m0 -6l-6 6M221 1109l6 6m0 -6l-6 6M222 1150l6 6m0 -6l-6 6M222 1134l6 6m0 -6l-6 6M223 1145l6 6m0 -6l-6 6M223 1292l6 6m0 -6l-6 6M224 1258l6 6m0 -6l-6 6M224 1303l6 6m0 -6l-6 6M225 1077l6 6m0 -6l-6 6M225 1165l6 6m0 -6l-6 6M226 1112l6 6m0 -6l-6 6M226 1174l6 6m0 -6l-6 6M227 1169l6 6m0 -6l-6 6M227 1213l6 6m0 -6l-6 6M228 1198l6 6m0 -6l-6 6M228 1232l6 6m0 -6l-6 6M229 1258l6 6m0 -6l-6 6M229 1121l6 6m0 -6l-6 6M230 1133l6 6m0 -6l-6 6M230 1288l6 6m0 -6l-6 6M231 1221l6 6m0 -6l-6 6M231 1134l6 6m0 -6l-6 6M232 1103l6 6m0 -6l-6 6M232 1208l6 6m0 -6l-6 6M233 1178l6 6m0 -6l-6 6M233 1223l6 6m0 -6l-6 6M234 1177l6 6m0 -6l-6 6M234 1162l6 6m0 -6l-6 6M235 1177l6 6m0 -6l-6 6M235 1175l6 6m0 -6l-6 6M236 1205l6 6m0 -6l-6 6M236 1189l6 6m0 -6l-6 6M237 1208l6 6m0 -6l-6 6M237 1177l6 6m0 -6l-6 6M238 1194l6 6m0 -6l-6 6M238 1200l6 6m0 -6l-6 6M239 1174l6 6m0 -6l-6 6M239 1224l6 6m0 -6l-6 6M240 1140l6 6m0 -6l-6 6M240 1233l6 6m0 -6l-6 6M241 1199l6 6m0 -6l-6 6M241 1153l6 6m0 -6l-6 6M242 1216l6 6m0 -6l-6 6M242 1169l6 6m0 -6l-6 6M243 1325l6 6m0 -6l-6 6M243 1132l6 6m0 -6l-6 6M244 1206l6 6m0 -6l-6 6M244 1101l6 6m0 -6l-6 6M245 1166l6 6m0 -6l-6 6M245 1269l6 6m0 -6l-6 6M246 1107l6 6m0 -6l-6 6M246 1199l6 6m0 -6l-6 6M247 1171l6 6m0 -6l-6 6M247 1165l6 6m0 -6l-6 6M248 1219l6 6m0 -6l-6 6M248 1160l6 6m0 -6l-6 6M249 1248l6 6m0 -6l-6 6M249 1231l6 6m0 -6l-6 6M250 1203l6 6m0 -6l-6 6M250 1082l6 6m0 -6l-6 6M251 1143l6 6m0 -6l-6 6M251 1129l6 6m0 -6l-6 6M252 1198l6 6m0 -6l-6 6M252 1294l6 6m0 -6l-6 6M253 1277l6 6m0 -6l-6 6M253 1213l6 6m0 -6l-6 6M254 1162l6 6m0 -6l-6 6M254 1193l6 6m0 -6l-6 6M255 1137l6 6m0 -6l-6 6M255 1205l6 6m0 -6l-6 6M256 1117l6 6m0 -6l-6 6M256 1091l6 6m0 -6l-6 6M257 1165l6 6m0 -6l-6 6M257 1091l6 6m0 -6l-6 6M258 1200l6 6m0 -6l-6 6M258 1107l6 6m0 -6l-6 6M259 1149l6 6m0 -6l-6 6M259 1124l6 6m0 -6l-6 6M260 1222l6 6m0 -6l-6 6M260 1130l6 6m0 -6l-6 6M261 1119l6 6m0 -6l-6 6M261 1216l6 6m0 -6l-6 6M262 1200l6 6m0 -6l-6 6M262 1192l6 6m0 -6l-6 6M263 1172l6 6m0 -6l-6 6M263 1187l6 6m0 -6l-6 6M264 1135l6 6m0 -6l-6 6M264 1191l6 6m0 -6l-6 6M265 1205l6 6m0 -6l-6 6M265 1177l6 6m0 -6l-6 6M266 1162l6 6m0 -6l-6 6M266 1270l6 6m0 -6l-6 6M267 1195l6 6m0 -6l-6 6M267 1286l6 6m0 -6l-6 6M268 1181l6 6m0 -6l-6 6M268 1232l6 6m0 -6l-6 6M269 1149l6 6m0 -6l-6 6M269 1111l6 6m0 -6l-6 6M270 1189l6 6m0 -6l-6 6M270 1229l6 6m0 -6l-6 6M271 1155l6 6m0 -6l-6 6M271 1178l6 6m0 -6l-6 6M272 1177l6 6m0 -6l-6 6M272 1181l6 6m0 -6l-6 6M273 1213l6 6m0 -6l-6 6M273 1201l6 6m0 -6l-6 6M274 1215l6 6m0 -6l-6 6M274 1281l6 6m0 -6l-6 6M275 1148l6 6m0 -6l-6 6M275 1177l6 6m0 -6l-6 6M276 1138l6 6m0 -6l-6 6M276 1184l6 6m0 -6l-6 6M277 1191l6 6m0 -6l-6 6M277 1132l6 6m0 -6l-6 6M278 1161l6 6m0 -6l-6 6M278 1196l6 6m0 -6l-6 6M279 1237l6 6m0 -6l-6 6M279 1171l6 6m0 -6l-6 6M280 1185l6 6m0 -6l-6 6M280 1144l6 6m0 -6l-6 6M281 1267l6 6m0 -6l-6 6M281 1290l6 6m0 -6l-6 6M282 1169l6 6m0 -6l-6 6M282 1159l6 6m0 -6l-6 6M283 1168l6 6m0 -6l-6 6M283 1143l6 6m0 -6l-6 6M284 1269l6 6m0 -6l-6 6M284 1178l6 6m0 -6l-6 6M285 1195l6 6m0 -6l-6 6M285 1240l6 6m0 -6l-6 6M286 1163l6 6m0 -6l-6 6M286 1151l6 6m0 -6l-6 6M287 1229l6 6m0 -6l-6 6M287 1241l6 6m0 -6l-6 6M288 1175l6 6m0 -6l-6 6M288 1171l6 6m0 -6l-6 6M289 1192l6 6m0 -6l-6 6M289 1224l6 6m0 -6l-6 6M290 1172l6 6m0 -6l-6 6M290 1135l6 6m0 -6l-6 6M291 1134l6 6m0 -6l-6 6M292 1183l6 6m0 -6l-6 6M292 1212l6 6m0 -6l-6 6M293 1120l6 6m0 -6l-6 6M293 1137l6 6m0 -6l-6 6M293 1102l6 6m0 -6l-6 6M294 1155l6 6m0 -6l-6 6M294 1149l6 6m0 -6l-6 6M295 1189l6 6m0 -6l-6 6M295 1184l6 6m0 -6l-6 6M296 1171l6 6m0 -6l-6 6M296 1207l6 6m0 -6l-6 6M297 999l6 6m0 -6l-6 6M297 1093l6 6m0 -6l-6 6M298 1145l6 6m0 -6l-6 6M298 1195l6 6m0 -6l-6 6M299 1050l6 6m0 -6l-6 6M299 1127l6 6m0 -6l-6 6M300 1207l6 6m0 -6l-6 6M301 1186l6 6m0 -6l-6 6M301 1169l6 6m0 -6l-6 6M302 1165l6 6m0 -6l-6 6M302 1161l6 6m0 -6l-6 6M303 1196l6 6m0 -6l-6 6M303 1229l6 6m0 -6l-6 6M303 1207l6 6m0 -6l-6 6M304 1213l6 6m0 -6l-6 6M305 1155l6 6m0 -6l-6 6M305 1192l6 6m0 -6l-6 6M305 1164l6 6m0 -6l-6 6M306 1232l6 6m0 -6l-6 6M307 1166l6 6m0 -6l-6 6M307 1169l6 6m0 -6l-6 6M307 1220l6 6m0 -6l-6 6M308 1139l6 6m0 -6l-6 6M308 1272l6 6m0 -6l-6 6M309 1288l6 6m0 -6l-6 6M309 1226l6 6m0 -6l-6 6M310 1277l6 6m0 -6l-6 6M310 1212l6 6m0 -6l-6 6M311 1196l6 6m0 -6l-6 6M311 1118l6 6m0 -6l-6 6M312 1096l6 6m0 -6l-6 6M313 1212l6 6m0 -6l-6 6M313 1199l6 6m0 -6l-6 6M314 1195l6 6m0 -6l-6 6M314 1222l6 6m0 -6l-6 6M315 1082l6 6m0 -6l-6 6M315 1194l6 6m0 -6l-6 6M316 1144l6 6m0 -6l-6 6M316 1169l6 6m0 -6l-6 6M317 1168l6 6m0 -6l-6 6M317 1153l6 6m0 -6l-6 6M318 1078l6 6m0 -6l-6 6M318 1091l6 6m0 -6l-6 6M319 1234l6 6m0 -6l-6 6M319 1252l6 6m0 -6l-6 6M320 1106l6 6m0 -6l-6 6M320 1127l6 6m0 -6l-6 6M321 1225l6 6m0 -6l-6 6M321 1173l6 6m0 -6l-6 6M322 1169l6 6m0 -6l-6 6M322 1206l6 6m0 -6l-6 6M323 1240l6 6m0 -6l-6 6M323 1174l6 6m0 -6l-6 6M324 1094l6 6m0 -6l-6 6M324 1302l6 6m0 -6l-6 6M325 1236l6 6m0 -6l-6 6M325 1198l6 6m0 -6l-6 6M326 1136l6 6m0 -6l-6 6M326 1202l6 6m0 -6l-6 6M327 1195l6 6m0 -6l-6 6M327 1109l6 6m0 -6l-6 6M328 1150l6 6m0 -6l-6 6M328 1235l6 6m0 -6l-6 6M329 1199l6 6m0 -6l-6 6M329 1201l6 6m0 -6l-6 6M330 1196l6 6m0 -6l-6 6M330 1195l6 6m0 -6l-6 6M331 1228l6 6m0 -6l-6 6M331 1178l6 6m0 -6l-6 6M332 1225l6 6m0 -6l-6 6M332 1133l6 6m0 -6l-6 6M333 1229l6 6m0 -6l-6 6M333 1236l6 6m0 -6l-6 6M334 1173l6 6m0 -6l-6 6M334 1206l6 6m0 -6l-6 6M335 1146l6 6m0 -6l-6 6M335 1153l6 6m0 -6l-6 6M336 1089l6 6m0 -6l-6 6M336 1114l6 6m0 -6l-6 6M337 1230l6 6m0 -6l-6 6M337 1182l6 6m0 -6l-6 6M338 1189l6 6m0 -6l-6 6M338 1163l6 6m0 -6l-6 6M339 1191l6 6m0 -6l-6 6M339 1241l6 6m0 -6l-6 6M340 1129l6 6m0 -6l-6 6M340 1173l6 6m0 -6l-6 6M341 1152l6 6m0 -6l-6 6M341 1102l6 6m0 -6l-6 6M342 1185l6 6m0 -6l-6 6M342 1120l6 6m0 -6l-6 6M343 1090l6 6m0 -6l-6 6M343 1115l6 6m0 -6l-6 6M344 1255l6 6m0 -6l-6 6M344 1214l6 6m0 -6l-6 6M345 1228l6 6m0 -6l-6 6M345 1218l6 6m0 -6l-6 6M346 1104l6 6m0 -6l-6 6M346 1107l6 6m0 -6l-6 6M347 1198l6 6m0 -6l-6 6M347 1210l6 6m0 -6l-6 6M348 1173l6 6m0 -6l-6 6M348 1095l6 6m0 -6l-6 6M349 1164l6 6m0 -6l-6 6M349 1135l6 6m0 -6l-6 6M350 1121l6 6m0 -6l-6 6M350 1117l6 6m0 -6l-6 6M351 1210l6 6m0 -6l-6 6M351 1187l6 6m0 -6l-6 6M352 1094l6 6m0 -6l-6 6M352 1199l6 6m0 -6l-6 6M353 1133l6 6m0 -6l-6 6M353 1208l6 6m0 -6l-6 6M354 1144l6 6m0 -6l-6 6M354 1149l6 6m0 -6l-6 6M355 1160l6 6m0 -6l-6 6M355 1174l6 6m0 -6l-6 6M356 1220l6 6m0 -6l-6 6M356 1183l6 6m0 -6l-6 6M357 1107l6 6m0 -6l-6 6M357 1124l6 6m0 -6l-6 6M358 1128l6 6m0 -6l-6 6M358 1076l6 6m0 -6l-6 6M359 1133l6 6m0 -6l-6 6M359 1088l6 6m0 -6l-6 6M360 1048l6 6m0 -6l-6 6M360 1151l6 6m0 -6l-6 6M361 1178l6 6m0 -6l-6 6M361 1202l6 6m0 -6l-6 6M362 1192l6 6m0 -6l-6 6M362 1264l6 6m0 -6l-6 6M363 1125l6 6m0 -6l-6 6M363 1125l6 6m0 -6l-6 6M364 1179l6 6m0 -6l-6 6M364 1074l6 6m0 -6l-6 6M365 1127l6 6m0 -6l-6 6M365 1194l6 6m0 -6l-6 6M366 1128l6 6m0 -6l-6 6M366 1182l6 6m0 -6l-6 6M367 1131l6 6m0 -6l-6 6M367 1158l6 6m0 -6l-6 6M368 1203l6 6m0 -6l-6 6M368 1118l6 6m0 -6l-6 6M369 1165l6 6m0 -6l-6 6M369 1161l6 6m0 -6l-6 6M370 1116l6 6m0 -6l-6 6M370 1151l6 6m0 -6l-6 6M371 1177l6 6m0 -6l-6 6M371 1200l6 6m0 -6l-6 6M372 1101l6 6m0 -6l-6 6M372 1068l6 6m0 -6l-6 6M373 1178l6 6m0 -6l-6 6M373 1231l6 6m0 -6l-6 6M374 1184l6 6m0 -6l-6 6M374 1104l6 6m0 -6l-6 6M375 994l6 6m0 -6l-6 6M375 1174l6 6m0 -6l-6 6M376 1161l6 6m0 -6l-6 6M376 1074l6 6m0 -6l-6 6M377 1112l6 6m0 -6l-6 6M377 1152l6 6m0 -6l-6 6M378 1182l6 6m0 -6l-6 6M378 1175l6 6m0 -6l-6 6M379 1147l6 6m0 -6l-6 6M379 1148l6 6m0 -6l-6 6M380 1156l6 6m0 -6l-6 6M380 1210l6 6m0 -6l-6 6M381 1209l6 6m0 -6l-6 6M381 1119l6 6m0 -6l-6 6M382 1137l6 6m0 -6l-6 6M382 1196l6 6m0 -6l-6 6M383 1156l6 6m0 -6l-6 6M383 1114l6 6m0 -6l-6 6M384 1096l6 6m0 -6l-6 6M384 1092l6 6m0 -6l-6 6M385 1188l6 6m0 -6l-6 6M385 1184l6 6m0 -6l-6 6M386 1140l6 6m0 -6l-6 6M386 1106l6 6m0 -6l-6 6M387 1099l6 6m0 -6l-6 6M387 1220l6 6m0 -6l-6 6M388 1071l6 6m0 -6l-6 6M388 1106l6 6m0 -6l-6 6M389 1124l6 6m0 -6l-6 6M389 1151l6 6m0 -6l-6 6M390 1119l6 6m0 -6l-6 6M390 1145l6 6m0 -6l-6 6M391 1174l6 6m0 -6l-6 6M391 1117l6 6m0 -6l-6 6M392 1225l6 6m0 -6l-6 6M392 1086l6 6m0 -6l-6 6M393 1082l6 6m0 -6l-6 6M393 1167l6 6m0 -6l-6 6M394 1117l6 6m0 -6l-6 6M394 1143l6 6m0 -6l-6 6M395 1190l6 6m0 -6l-6 6M395 1143l6 6m0 -6l-6 6M396 1133l6 6m0 -6l-6 6M396 1106l6 6m0 -6l-6 6M397 1272l6 6m0 -6l-6 6M397 1143l6 6m0 -6l-6 6M398 1167l6 6m0 -6l-6 6M398 1097l6 6m0 -6l-6 6M399 1173l6 6m0 -6l-6 6M399 1100l6 6m0 -6l-6 6M400 1161l6 6m0 -6l-6 6M400 1128l6 6m0 -6l-6 6M401 1151l6 6m0 -6l-6 6M401 1152l6 6m0 -6l-6 6M402 1068l6 6m0 -6l-6 6M402 1128l6 6m0 -6l-6 6M403 1142l6 6m0 -6l-6 6M403 1209l6 6m0 -6l-6 6M404 1160l6 6m0 -6l-6 6M404 1176l6 6m0 -6l-6 6M405 1152l6 6m0 -6l-6 6M405 1148l6 6m0 -6l-6 6M406 1209l6 6m0 -6l-6 6M406 1219l6 6m0 -6l-6 6M407 1056l6 6m0 -6l-6 6M407 1103l6 6m0 -6l-6 6M408 1112l6 6m0 -6l-6 6M408 1184l6 6m0 -6l-6 6M409 1146l6 6m0 -6l-6 6M409 1213l6 6m0 -6l-6 6M410 1146l6 6m0 -6l-6 6M410 1182l6 6m0 -6l-6 6M411 1200l6 6m0 -6l-6 6M411 1184l6 6m0 -6l-6 6M412 1171l6 6m0 -6l-6 6M412 1115l6 6m0 -6l-6 6M413 1142l6 6m0 -6l-6 6M413 1188l6 6m0 -6l-6 6M414 1215l6 6m0 -6l-6 6M414 1199l6 6m0 -6l-6 6M415 1000l6 6m0 -6l-6 6M415 1147l6 6m0 -6l-6 6M416 1224l6 6m0 -6l-6 6M416 1229l6 6m0 -6l-6 6M417 1179l6 6m0 -6l-6 6M417 1192l6 6m0 -6l-6 6M418 1126l6 6m0 -6l-6 6M418 1151l6 6m0 -6l-6 6M419 1152l6 6m0 -6l-6 6M419 1123l6 6m0 -6l-6 6M420 1111l6 6m0 -6l-6 6M420 1159l6 6m0 -6l-6 6M421 1158l6 6m0 -6l-6 6M421 1134l6 6m0 -6l-6 6M422 1081l6 6m0 -6l-6 6M422 1125l6 6m0 -6l-6 6M423 1099l6 6m0 -6l-6 6M423 1092l6 6m0 -6l-6 6M424 1147l6 6m0 -6l-6 6M424 1236l6 6m0 -6l-6 6M425 1148l6 6m0 -6l-6 6M425 1186l6 6m0 -6l-6 6M426 1138l6 6m0 -6l-6 6M426 1100l6 6m0 -6l-6 6M427 1157l6 6m0 -6l-6 6M427 1176l6 6m0 -6l-6 6M428 1156l6 6m0 -6l-6 6M428 1159l6 6m0 -6l-6 6M429 1161l6 6m0 -6l-6 6M429 1102l6 6m0 -6l-6 6M430 1139l6 6m0 -6l-6 6M430 1137l6 6m0 -6l-6 6M431 1145l6 6m0 -6l-6 6M431 1156l6 6m0 -6l-6 6M432 1109l6 6m0 -6l-6 6M432 1175l6 6m0 -6l-6 6M433 1162l6 6m0 -6l-6 6M433 1131l6 6m0 -6l-6 6M434 1168l6 6m0 -6l-6 6M434 1219l6 6m0 -6l-6 6M435 1192l6 6m0 -6l-6 6M435 1172l6 6m0 -6l-6 6M436 1147l6 6m0 -6l-6 6M437 1112l6 6m0 -6l-6 6M437 1170l6 6m0 -6l-6 6M438 1189l6 6m0 -6l-6 6M438 1126l6 6m0 -6l-6 6M438 1204l6 6m0 -6l-6 6M439 1162l6 6m0 -6l-6 6M440 1157l6 6m0 -6l-6 6M440 1163l6 6m0 -6l-6 6M441 1172l6 6m0 -6l-6 6M441 1157l6 6m0 -6l-6 6M441 1178l6 6m0 -6l-6 6M442 1112l6 6m0 -6l-6 6M442 1158l6 6m0 -6l-6 6M443 1118l6 6m0 -6l-6 6M444 1098l6 6m0 -6l-6 6M444 1297l6 6m0 -6l-6 6M444 1095l6 6m0 -6l-6 6M445 1136l6 6m0 -6l-6 6M446 1086l6 6m0 -6l-6 6M446 1094l6 6m0 -6l-6 6M446 1113l6 6m0 -6l-6 6M447 1151l6 6m0 -6l-6 6M447 1104l6 6m0 -6l-6 6M448 1083l6 6m0 -6l-6 6M448 1198l6 6m0 -6l-6 6M449 1187l6 6m0 -6l-6 6M450 1217l6 6m0 -6l-6 6M450 1196l6 6m0 -6l-6 6M450 1203l6 6m0 -6l-6 6M451 1166l6 6m0 -6l-6 6M452 1169l6 6m0 -6l-6 6M452 1169l6 6m0 -6l-6 6M453 1152l6 6m0 -6l-6 6M453 1142l6 6m0 -6l-6 6M453 1052l6 6m0 -6l-6 6M454 1118l6 6m0 -6l-6 6M454 1140l6 6m0 -6l-6 6M455 1129l6 6m0 -6l-6 6M455 1151l6 6m0 -6l-6 6M456 1147l6 6m0 -6l-6 6M457 1166l6 6m0 -6l-6 6M457 1217l6 6m0 -6l-6 6M458 1149l6 6m0 -6l-6 6M458 1163l6 6m0 -6l-6 6M459 1207l6 6m0 -6l-6 6M459 1115l6 6m0 -6l-6 6M460 1226l6 6m0 -6l-6 6M460 1186l6 6m0 -6l-6 6M461 1101l6 6m0 -6l-6 6M461 1121l6 6m0 -6l-6 6M462 1174l6 6m0 -6l-6 6M462 1138l6 6m0 -6l-6 6M463 1185l6 6m0 -6l-6 6M463 1241l6 6m0 -6l-6 6M464 1200l6 6m0 -6l-6 6M464 1250l6 6m0 -6l-6 6M465 1247l6 6m0 -6l-6 6M465 1109l6 6m0 -6l-6 6M466 1147l6 6m0 -6l-6 6M466 1128l6 6m0 -6l-6 6M467 1144l6 6m0 -6l-6 6M467 1148l6 6m0 -6l-6 6M468 1182l6 6m0 -6l-6 6M468 1093l6 6m0 -6l-6 6M469 1134l6 6m0 -6l-6 6M469 1139l6 6m0 -6l-6 6M470 1081l6 6m0 -6l-6 6M470 1208l6 6m0 -6l-6 6M471 1146l6 6m0 -6l-6 6M471 1128l6 6m0 -6l-6 6M472 1103l6 6m0 -6l-6 6M472 1218l6 6m0 -6l-6 6M473 1169l6 6m0 -6l-6 6M473 1102l6 6m0 -6l-6 6M474 1250l6 6m0 -6l-6 6M474 1194l6 6m0 -6l-6 6M475 1195l6 6m0 -6l-6 6M475 1200l6 6m0 -6l-6 6M476 1180l6 6m0 -6l-6 6M476 1120l6 6m0 -6l-6 6M477 1152l6 6m0 -6l-6 6M477 1214l6 6m0 -6l-6 6M478 1152l6 6m0 -6l-6 6M478 1188l6 6m0 -6l-6 6M479 1256l6 6m0 -6l-6 6M479 1222l6 6m0 -6l-6 6M480 1213l6 6m0 -6l-6 6M480 1126l6 6m0 -6l-6 6M481 1106l6 6m0 -6l-6 6M481 1258l6 6m0 -6l-6 6M482 1158l6 6m0 -6l-6 6M482 1206l6 6m0 -6l-6 6M483 1217l6 6m0 -6l-6 6M483 1142l6 6m0 -6l-6 6M484 1190l6 6m0 -6l-6 6M484 1232l6 6m0 -6l-6 6M485 1160l6 6m0 -6l-6 6M485 1190l6 6m0 -6l-6 6M486 1263l6 6m0 -6l-6 6M486 1268l6 6m0 -6l-6 6M487 1168l6 6m0 -6l-6 6M487 1196l6 6m0 -6l-6 6M488 1253l6 6m0 -6l-6 6M488 1178l6 6m0 -6l-6 6M489 1199l6 6m0 -6l-6 6M489 1225l6 6m0 -6l-6 6M490 1218l6 6m0 -6l-6 6M490 1115l6 6m0 -6l-6 6M491 1124l6 6m0 -6l-6 6M491 1187l6 6m0 -6l-6 6M492 1181l6 6m0 -6l-6 6M492 1226l6 6m0 -6l-6 6M493 1217l6 6m0 -6l-6 6M493 1194l6 6m0 -6l-6 6M494 1048l6 6m0 -6l-6 6M494 1176l6 6m0 -6l-6 6M495 1236l6 6m0 -6l-6 6M495 1188l6 6m0 -6l-6 6M496 1226l6 6m0 -6l-6 6M496 1192l6 6m0 -6l-6 6M497 1178l6 6m0 -6l-6 6M497 1168l6 6m0 -6l-6 6M498 1217l6 6m0 -6l-6 6M498 1217l6 6m0 -6l-6 6M499 1170l6 6m0 -6l-6 6M499 1209l6 6m0 -6l-6 6M500 1214l6 6m0 -6l-6 6M500 1177l6 6m0 -6l-6 6M501 1172l6 6m0 -6l-6 6M501 1142l6 6m0 -6l-6 6M502 1235l6 6m0 -6l-6 6M502 1139l6 6m0 -6l-6 6M503 1199l6 6m0 -6l-6 6M503 1154l6 6m0 -6l-6 6M504 1240l6 6m0 -6l-6 6M504 1186l6 6m0 -6l-6 6M505 1218l6 6m0 -6l-6 6M505 1121l6 6m0 -6l-6 6M506 1246l6 6m0 -6l-6 6M506 1152l6 6m0 -6l-6 6M507 1072l6 6m0 -6l-6 6M507 1250l6 6m0 -6l-6 6M508 1156l6 6m0 -6l-6 6M508 1209l6 6m0 -6l-6 6M509 1199l6 6m0 -6l-6 6M509 1174l6 6m0 -6l-6 6M510 1193l6 6m0 -6l-6 6M510 1297l6 6m0 -6l-6 6M511 1115l6 6m0 -6l-6 6M511 1187l6 6m0 -6l-6 6M512 1141l6 6m0 -6l-6 6M512 1224l6 6m0 -6l-6 6M513 1183l6 6m0 -6l-6 6M513 1135l6 6m0 -6l-6 6M514 1210l6 6m0 -6l-6 6M514 1258l6 6m0 -6l-6 6M515 1122l6 6m0 -6l-6 6M515 1136l6 6m0 -6l-6 6M516 1177l6 6m0 -6l-6 6M516 1164l6 6m0 -6l-6 6M517 1193l6 6m0 -6l-6 6M517 1161l6 6m0 -6l-6 6M518 1313l6 6m0 -6l-6 6M518 1180l6 6m0 -6l-6 6M519 1137l6 6m0 -6l-6 6M519 1225l6 6m0 -6l-6 6M520 1216l6 6m0 -6l-6 6M520 1232l6 6m0 -6l-6 6M521 1163l6 6m0 -6l-6 6M521 1251l6 6m0 -6l-6 6M522 1245l6 6m0 -6l-6 6M522 1321l6 6m0 -6l-6 6M523 1195l6 6m0 -6l-6 6M523 1184l6 6m0 -6l-6 6M524 1304l6 6m0 -6l-6 6M524 1181l6 6m0 -6l-6 6M525 1259l6 6m0 -6l-6 6M525 1262l6 6m0 -6l-6 6M526 1256l6 6m0 -6l-6 6M526 1180l6 6m0 -6l-6 6M527 1141l6 6m0 -6l-6 6M527 1220l6 6m0 -6l-6 6M528 1218l6 6m0 -6l-6 6M528 1198l6 6m0 -6l-6 6M529 1142l6 6m0 -6l-6 6M529 1202l6 6m0 -6l-6 6M530 1201l6 6m0 -6l-6 6M530 1218l6 6m0 -6l-6 6M531 1160l6 6m0 -6l-6 6M531 1125l6 6m0 -6l-6 6M532 1029l6 6m0 -6l-6 6M532 1179l6 6m0 -6l-6 6M533 1125l6 6m0 -6l-6 6M533 1184l6 6m0 -6l-6 6M534 1110l6 6m0 -6l-6 6M534 1236l6 6m0 -6l-6 6M535 1200l6 6m0 -6l-6 6M535 1176l6 6m0 -6l-6 6M536 1257l6 6m0 -6l-6 6M536 1170l6 6m0 -6l-6 6M537 1156l6 6m0 -6l-6 6M537 1192l6 6m0 -6l-6 6M538 1166l6 6m0 -6l-6 6M538 1186l6 6m0 -6l-6 6M539 1237l6 6m0 -6l-6 6M539 1165l6 6m0 -6l-6 6M540 1229l6 6m0 -6l-6 6M540 1102l6 6m0 -6l-6 6M541 1219l6 6m0 -6l-6 6M541 1166l6 6m0 -6l-6 6M542 1222l6 6m0 -6l-6 6M542 1210l6 6m0 -6l-6 6M543 1280l6 6m0 -6l-6 6M543 1211l6 6m0 -6l-6 6M544 1170l6 6m0 -6l-6 6M544 1073l6 6m0 -6l-6 6M545 1245l6 6m0 -6l-6 6M545 1236l6 6m0 -6l-6 6M546 1189l6 6m0 -6l-6 6M546 1222l6 6m0 -6l-6 6M547 1161l6 6m0 -6l-6 6M547 1230l6 6m0 -6l-6 6M548 1221l6 6m0 -6l-6 6M548 1175l6 6m0 -6l-6 6M549 1249l6 6m0 -6l-6 6M549 1181l6 6m0 -6l-6 6M550 1265l6 6m0 -6l-6 6M550 1261l6 6m0 -6l-6 6M551 1142l6 6m0 -6l-6 6M551 1117l6 6m0 -6l-6 6M552 1146l6 6m0 -6l-6 6M552 1245l6 6m0 -6l-6 6M553 1200l6 6m0 -6l-6 6M553 1190l6 6m0 -6l-6 6M554 1084l6 6m0 -6l-6 6M554 1211l6 6m0 -6l-6 6M555 1223l6 6m0 -6l-6 6M555 1138l6 6m0 -6l-6 6M556 1166l6 6m0 -6l-6 6M556 1213l6 6m0 -6l-6 6M557 1185l6 6m0 -6l-6 6M557 1175l6 6m0 -6l-6 6M558 1162l6 6m0 -6l-6 6M558 1259l6 6m0 -6l-6 6M559 1245l6 6m0 -6l-6 6M559 1116l6 6m0 -6l-6 6M560 1183l6 6m0 -6l-6 6M560 1110l6 6m0 -6l-6 6M561 1133l6 6m0 -6l-6 6M561 1138l6 6m0 -6l-6 6M562 1178l6 6m0 -6l-6 6M562 1118l6 6m0 -6l-6 6M563 1207l6 6m0 -6l-6 6M563 1108l6 6m0 -6l-6 6M564 1172l6 6m0 -6l-6 6M564 1189l6 6m0 -6l-6 6M565 1105l6 6m0 -6l-6 6M565 1225l6 6m0 -6l-6 6M566 1201l6 6m0 -6l-6 6M566 1213l6 6m0 -6l-6 6M567 1249l6 6m0 -6l-6 6M567 1246l6 6m0 -6l-6 6M568 1180l6 6m0 -6l-6 6M568 1136l6 6m0 -6l-6 6M569 1090l6 6m0 -6l-6 6M569 1129l6 6m0 -6l-6 6M570 1193l6 6m0 -6l-6 6M571 1153l6 6m0 -6l-6 6M571 1034l6 6m0 -6l-6 6M571 1158l6 6m0 -6l-6 6M572 1209l6 6m0 -6l-6 6M572 1139l6 6m0 -6l-6 6M573 1146l6 6m0 -6l-6 6M573 1169l6 6m0 -6l-6 6M574 1126l6 6m0 -6l-6 6M574 1249l6 6m0 -6l-6 6M575 1203l6 6m0 -6l-6 6M575 1152l6 6m0 -6l-6 6M576 1129l6 6m0 -6l-6 6M576 1129l6 6m0 -6l-6 6M577 1165l6 6m0 -6l-6 6M577 1173l6 6m0 -6l-6 6M578 1183l6 6m0 -6l-6 6M578 1116l6 6m0 -6l-6 6M579 1060l6 6m0 -6l-6 6M579 1112l6 6m0 -6l-6 6M580 1112l6 6m0 -6l-6 6M580 1279l6 6m0 -6l-6 6M581 1178l6 6m0 -6l-6 6M581 1204l6 6m0 -6l-6 6M582 1198l6 6m0 -6l-6 6M582 1216l6 6m0 -6l-6 6M583 1178l6 6m0 -6l-6 6M584 1232l6 6m0 -6l-6 6M584 1186l6 6m0 -6l-6 6M585 1238l6 6m0 -6l-6 6M585 1141l6 6m0 -6l-6 6M586 1168l6 6m0 -6l-6 6M586 1248l6 6m0 -6l-6 6M586 1167l6 6m0 -6l-6 6M587 1184l6 6m0 -6l-6 6M587 1214l6 6m0 -6l-6 6M588 1130l6 6m0 -6l-6 6M589 1140l6 6m0 -6l-6 6M589 1106l6 6m0 -6l-6 6M589 1160l6 6m0 -6l-6 6M590 1133l6 6m0 -6l-6 6M591 1158l6 6m0 -6l-6 6M591 1162l6 6m0 -6l-6 6M592 1133l6 6m0 -6l-6 6M750 1069l6 6m0 -6l-6 6M751 1196l6 6m0 -6l-6 6M751 1242l6 6m0 -6l-6 6M752 1161l6 6m0 -6l-6 6M752 1214l6 6m0 -6l-6 6M753 1201l6 6m0 -6l-6 6M753 1221l6 6m0 -6l-6 6M754 1165l6 6m0 -6l-6 6M754 1192l6 6m0 -6l-6 6M755 1083l6 6m0 -6l-6 6M755 1135l6 6m0 -6l-6 6M756 1203l6 6m0 -6l-6 6M756 1216l6 6m0 -6l-6 6M757 1188l6 6m0 -6l-6 6M757 1228l6 6m0 -6l-6 6M758 1156l6 6m0 -6l-6 6M758 1101l6 6m0 -6l-6 6M759 1079l6 6m0 -6l-6 6M759 1206l6 6m0 -6l-6 6M760 1192l6 6m0 -6l-6 6M760 1191l6 6m0 -6l-6 6M761 1177l6 6m0 -6l-6 6M761 1152l6 6m0 -6l-6 6M762 1173l6 6m0 -6l-6 6M762 1205l6 6m0 -6l-6 6M763 1214l6 6m0 -6l-6 6M763 1181l6 6m0 -6l-6 6M764 1112l6 6m0 -6l-6 6M764 1187l6 6m0 -6l-6 6M765 1247l6 6m0 -6l-6 6M765 1149l6 6m0 -6l-6 6M766 1194l6 6m0 -6l-6 6M766 1165l6 6m0 -6l-6 6M767 1176l6 6m0 -6l-6 6M767 1058l6 6m0 -6l-6 6M768 1216l6 6m0 -6l-6 6M768 1029l6 6m0 -6l-6 6M769 1134l6 6m0 -6l-6 6M769 1094l6 6m0 -6l-6 6M770 1155l6 6m0 -6l-6 6M770 1121l6 6m0 -6l-6 6M771 1146l6 6m0 -6l-6 6M771 1145l6 6m0 -6l-6 6M772 1216l6 6m0 -6l-6 6M772 1136l6 6m0 -6l-6 6M773 1082l6 6m0 -6l-6 6M773 1247l6 6m0 -6l-6 6M774 1096l6 6m0 -6l-6 6M774 1161l6 6m0 -6l-6 6M775 1175l6 6m0 -6l-6 6M775 1159l6 6m0 -6l-6 6M776 1145l6 6m0 -6l-6 6M776 1154l6 6m0 -6l-6 6M777 1175l6 6m0 -6l-6 6M777 1178l6 6m0 -6l-6 6M778 1197l6 6m0 -6l-6 6M778 1074l6 6m0 -6l-6 6M779 1267l6 6m0 -6l-6 6M779 1240l6 6m0 -6l-6 6M780 1192l6 6m0 -6l-6 6M780 1232l6 6m0 -6l-6 6M781 1185l6 6m0 -6l-6 6M781 1199l6 6m0 -6l-6 6M782 1196l6 6m0 -6l-6 6M782 1180l6 6m0 -6l-6 6M783 1150l6 6m0 -6l-6 6M783 1176l6 6m0 -6l-6 6M784 1143l6 6m0 -6l-6 6M784 1187l6 6m0 -6l-6 6M785 1250l6 6m0 -6l-6 6M785 1177l6 6m0 -6l-6 6M786 1180l6 6m0 -6l-6 6M786 1203l6 6m0 -6l-6 6M787 1144l6 6m0 -6l-6 6M787 1125l6 6m0 -6l-6 6M788 1091l6 6m0 -6l-6 6M788 1196l6 6m0 -6l-6 6M789 1201l6 6m0 -6l-6 6M789 1161l6 6m0 -6l-6 6M790 1162l6 6m0 -6l-6 6M790 1215l6 6m0 -6l-6 6M791 1151l6 6m0 -6l-6 6M791 1179l6 6m0 -6l-6 6M792 1324l6 6m0 -6l-6 6M792 1160l6 6m0 -6l-6 6M793 1303l6 6m0 -6l-6 6M793 1138l6 6m0 -6l-6 6M794 1162l6 6m0 -6l-6 6M794 1171l6 6m0 -6l-6 6M795 1259l6 6m0 -6l-6 6M795 1154l6 6m0 -6l-6 6M796 1216l6 6m0 -6l-6 6M796 1181l6 6m0 -6l-6 6M797 1127l6 6m0 -6l-6 6M797 1174l6 6m0 -6l-6 6M798 1145l6 6m0 -6l-6 6M798 1136l6 6m0 -6l-6 6M799 1094l6 6m0 -6l-6 6M799 1195l6 6m0 -6l-6 6M800 1170l6 6m0 -6l-6 6M800 1153l6 6m0 -6l-6 6M801 1215l6 6m0 -6l-6 6M801 1182l6 6m0 -6l-6 6M802 1156l6 6m0 -6l-6 6M802 1134l6 6m0 -6l-6 6M803 1243l6 6m0 -6l-6 6M803 1112l6 6m0 -6l-6 6M804 1138l6 6m0 -6l-6 6M804 1104l6 6m0 -6l-6 6M805 1093l6 6m0 -6l-6 6M805 1112l6 6m0 -6l-6 6M806 1099l6 6m0 -6l-6 6M806 1168l6 6m0 -6l-6 6M807 1185l6 6m0 -6l-6 6M807 1044l6 6m0 -6l-6 6M808 1138l6 6m0 -6l-6 6M808 1161l6 6m0 -6l-6 6M809 1121l6 6m0 -6l-6 6M809 1120l6 6m0 -6l-6 6M810 1089l6 6m0 -6l-6 6M810 1168l6 6m0 -6l-6 6M811 1180l6 6m0 -6l-6 6M811 1141l6 6m0 -6l-6 6M812 1276l6 6m0 -6l-6 6M812 1145l6 6m0 -6l-6 6M813 1103l6 6m0 -6l-6 6M813 1211l6 6m0 -6l-6 6M814 1143l6 6m0 -6l-6 6M814 1110l6 6m0 -6l-6 6M815 1106l6 6m0 -6l-6 6M815 1221l6 6m0 -6l-6 6M816 1173l6 6m0 -6l-6 6M816 1114l6 6m0 -6l-6 6M817 1171l6 6m0 -6l-6 6M817 1165l6 6m0 -6l-6 6M818 1191l6 6m0 -6l-6 6M818 1124l6 6m0 -6l-6 6M819 1227l6 6m0 -6l-6 6M819 1191l6 6m0 -6l-6 6M820 1162l6 6m0 -6l-6 6M820 1127l6 6m0 -6l-6 6M821 1161l6 6m0 -6l-6 6M821 1244l6 6m0 -6l-6 6M822 1263l6 6m0 -6l-6 6M822 1141l6 6m0 -6l-6 6M823 1214l6 6m0 -6l-6 6M823 1147l6 6m0 -6l-6 6M824 1190l6 6m0 -6l-6 6M824 1154l6 6m0 -6l-6 6M825 1192l6 6m0 -6l-6 6M825 1280l6 6m0 -6l-6 6M826 1120l6 6m0 -6l-6 6M826 1192l6 6m0 -6l-6 6M827 1183l6 6m0 -6l-6 6M827 1113l6 6m0 -6l-6 6M828 1149l6 6m0 -6l-6 6M828 1146l6 6m0 -6l-6 6M829 1182l6 6m0 -6l-6 6M829 1182l6 6m0 -6l-6 6M830 1302l6 6m0 -6l-6 6M830 1225l6 6m0 -6l-6 6M831 1180l6 6m0 -6l-6 6M831 1201l6 6m0 -6l-6 6M832 1229l6 6m0 -6l-6 6M832 1217l6 6m0 -6l-6 6M833 1149l6 6m0 -6l-6 6M833 1200l6 6m0 -6l-6 6M834 1178l6 6m0 -6l-6 6M834 1173l6 6m0 -6l-6 6M835 1181l6 6m0 -6l-6 6M835 1139l6 6m0 -6l-6 6M836 1166l6 6m0 -6l-6 6M836 1145l6 6m0 -6l-6 6M837 1203l6 6m0 -6l-6 6M837 1206l6 6m0 -6l-6 6M838 1200l6 6m0 -6l-6 6M838 1215l6 6m0 -6l-6 6M839 1103l6 6m0 -6l-6 6M839 1128l6 6m0 -6l-6 6M840 1066l6 6m0 -6l-6 6M840 1119l6 6m0 -6l-6 6M841 1137l6 6m0 -6l-6 6M841 1128l6 6m0 -6l-6 6M842 1226l6 6m0 -6l-6 6M843 1187l6 6m0 -6l-6 6M843 1098l6 6m0 -6l-6 6M843 1204l6 6m0 -6l-6 6M844 1223l6 6m0 -6l-6 6M845 1170l6 6m0 -6l-6 6M845 1111l6 6m0 -6l-6 6M846 1170l6 6m0 -6l-6 6M846 1066l6 6m0 -6l-6 6M846 1171l6 6m0 -6l-6 6M847 1156l6 6m0 -6l-6 6M848 1251l6 6m0 -6l-6 6M848 1171l6 6m0 -6l-6 6M848 1169l6 6m0 -6l-6 6M849 1154l6 6m0 -6l-6 6M849 1145l6 6m0 -6l-6 6M850 1162l6 6m0 -6l-6 6M851 1106l6 6m0 -6l-6 6M851 1185l6 6m0 -6l-6 6M851 1099l6 6m0 -6l-6 6M852 1124l6 6m0 -6l-6 6M852 1244l6 6m0 -6l-6 6M853 1174l6 6m0 -6l-6 6M854 1189l6 6m0 -6l-6 6M854 1204l6 6m0 -6l-6 6M854 1245l6 6m0 -6l-6 6M855 1136l6 6m0 -6l-6 6M855 1161l6 6m0 -6l-6 6M856 1114l6 6m0 -6l-6 6M857 1222l6 6m0 -6l-6 6M857 1199l6 6m0 -6l-6 6M857 1215l6 6m0 -6l-6 6M858 1162l6 6m0 -6l-6 6M858 1266l6 6m0 -6l-6 6M859 1137l6 6m0 -6l-6 6M860 1153l6 6m0 -6l-6 6M860 1227l6 6m0 -6l-6 6M861 1159l6 6m0 -6l-6 6M861 1171l6 6m0 -6l-6 6M862 1171l6 6m0 -6l-6 6M862 1112l6 6m0 -6l-6 6M863 1041l6 6m0 -6l-6 6M863 1214l6 6m0 -6l-6 6M863 1088l6 6m0 -6l-6 6M864 1217l6 6m0 -6l-6 6M865 1226l6 6m0 -6l-6 6M865 1132l6 6m0 -6l-6 6M866 1057l6 6m0 -6l-6 6M866 1106l6 6m0 -6l-6 6M867 1221l6 6m0 -6l-6 6M867 1273l6 6m0 -6l-6 6M868 1146l6 6m0 -6l-6 6M868 1176l6 6m0 -6l-6 6M869 1209l6 6m0 -6l-6 6M869 1138l6 6m0 -6l-6 6M870 1168l6 6m0 -6l-6 6M870 1245l6 6m0 -6l-6 6M871 1171l6 6m0 -6l-6 6M871 1252l6 6m0 -6l-6 6M872 1139l6 6m0 -6l-6 6M872 1235l6 6m0 -6l-6 6M873 1240l6 6m0 -6l-6 6M873 1155l6 6m0 -6l-6 6M874 1164l6 6m0 -6l-6 6M874 1203l6 6m0 -6l-6 6M875 1246l6 6m0 -6l-6 6M875 1165l6 6m0 -6l-6 6M876 1186l6 6m0 -6l-6 6M876 1192l6 6m0 -6l-6 6M877 1223l6 6m0 -6l-6 6M877 1307l6 6m0 -6l-6 6M878 1199l6 6m0 -6l-6 6M878 1117l6 6m0 -6l-6 6M879 1217l6 6m0 -6l-6 6M879 1201l6 6m0 -6l-6 6M880 1196l6 6m0 -6l-6 6M880 1155l6 6m0 -6l-6 6M881 1180l6 6m0 -6l-6 6M881 1190l6 6m0 -6l-6 6M882 1106l6 6m0 -6l-6 6M882 1182l6 6m0 -6l-6 6M883 1179l6 6m0 -6l-6 6M883 1218l6 6m0 -6l-6 6M884 1251l6 6m0 -6l-6 6M884 1162l6 6m0 -6l-6 6M885 1196l6 6m0 -6l-6 6M885 1160l6 6m0 -6l-6 6M886 1265l6 6m0 -6l-6 6M886 1102l6 6m0 -6l-6 6M887 1187l6 6m0 -6l-6 6M887 1184l6 6m0 -6l-6 6M888 1242l6 6m0 -6l-6 6M888 1186l6 6m0 -6l-6 6M889 1188l6 6m0 -6l-6 6M889 1180l6 6m0 -6l-6 6M890 1173l6 6m0 -6l-6 6M890 1272l6 6m0 -6l-6 6M891 1191l6 6m0 -6l-6 6M891 1279l6 6m0 -6l-6 6M892 1206l6 6m0 -6l-6 6M892 1170l6 6m0 -6l-6 6M893 1076l6 6m0 -6l-6 6M893 1138l6 6m0 -6l-6 6M894 1218l6 6m0 -6l-6 6M894 1196l6 6m0 -6l-6 6M895 1166l6 6m0 -6l-6 6M895 1157l6 6m0 -6l-6 6M896 1234l6 6m0 -6l-6 6M896 1192l6 6m0 -6l-6 6M897 1252l6 6m0 -6l-6 6M897 1194l6 6m0 -6l-6 6M898 1191l6 6m0 -6l-6 6M898 1160l6 6m0 -6l-6 6M899 1198l6 6m0 -6l-6 6M899 1198l6 6m0 -6l-6 6M900 1161l6 6m0 -6l-6 6M900 1242l6 6m0 -6l-6 6M901 1156l6 6m0 -6l-6 6M901 1110l6 6m0 -6l-6 6M902 1242l6 6m0 -6l-6 6M902 1185l6 6m0 -6l-6 6M903 1296l6 6m0 -6l-6 6M903 1133l6 6m0 -6l-6 6M904 1078l6 6m0 -6l-6 6M904 1203l6 6m0 -6l-6 6M905 1159l6 6m0 -6l-6 6M905 1139l6 6m0 -6l-6 6M906 1239l6 6m0 -6l-6 6M906 1185l6 6m0 -6l-6 6M907 1220l6 6m0 -6l-6 6M907 1195l6 6m0 -6l-6 6M908 1182l6 6m0 -6l-6 6M908 1161l6 6m0 -6l-6 6M909 1177l6 6m0 -6l-6 6M909 1193l6 6m0 -6l-6 6M910 1210l6 6m0 -6l-6 6M910 1148l6 6m0 -6l-6 6M911 1136l6 6m0 -6l-6 6M911 1170l6 6m0 -6l-6 6M912 1262l6 6m0 -6l-6 6M912 1188l6 6m0 -6l-6 6M913 1232l6 6m0 -6l-6 6M913 1120l6 6m0 -6l-6 6M914 1160l6 6m0 -6l-6 6M914 1112l6 6m0 -6l-6 6M915 1216l6 6m0 -6l-6 6M915 1237l6 6m0 -6l-6 6M916 1202l6 6m0 -6l-6 6M916 1142l6 6m0 -6l-6 6M917 1199l6 6m0 -6l-6 6M917 1149l6 6m0 -6l-6 6M918 1116l6 6m0 -6l-6 6M918 1188l6 6m0 -6l-6 6M919 1155l6 6m0 -6l-6 6M919 1282l6 6m0 -6l-6 6M920 1246l6 6m0 -6l-6 6M920 1218l6 6m0 -6l-6 6M921 1186l6 6m0 -6l-6 6M921 1229l6 6m0 -6l-6 6M922 1204l6 6m0 -6l-6 6M922 1147l6 6m0 -6l-6 6M923 1163l6 6m0 -6l-6 6M923 1260l6 6m0 -6l-6 6M924 1137l6 6m0 -6l-6 6M924 1144l6 6m0 -6l-6 6M925 1051l6 6m0 -6l-6 6M925 1240l6 6m0 -6l-6 6M926 1149l6 6m0 -6l-6 6M926 1186l6 6m0 -6l-6 6M927 1166l6 6m0 -6l-6 6M927 1203l6 6m0 -6l-6 6M928 1164l6 6m0 -6l-6 6M928 1175l6 6m0 -6l-6 6M929 1081l6 6m0 -6l-6 6M929 1276l6 6m0 -6l-6 6M930 1172l6 6m0 -6l-6 6M930 1182l6 6m0 -6l-6 6M931 1177l6 6m0 -6l-6 6M931 1099l6 6m0 -6l-6 6M932 1225l6 6m0 -6l-6 6M932 1155l6 6m0 -6l-6 6M933 1061l6 6m0 -6l-6 6M933 1116l6 6m0 -6l-6 6M934 1064l6 6m0 -6l-6 6M934 1160l6 6m0 -6l-6 6M935 1090l6 6m0 -6l-6 6M935 1134l6 6m0 -6l-6 6M936 1163l6 6m0 -6l-6 6M936 1185l6 6m0 -6l-6 6M937 1140l6 6m0 -6l-6 6M937 1096l6 6m0 -6l-6 6M938 1214l6 6m0 -6l-6 6M938 1229l6 6m0 -6l-6 6M939 1266l6 6m0 -6l-6 6M939 1123l6 6m0 -6l-6 6M940 1206l6 6m0 -6l-6 6M940 1192l6 6m0 -6l-6 6M941 1193l6 6m0 -6l-6 6M941 1198l6 6m0 -6l-6 6M942 1135l6 6m0 -6l-6 6M942 1213l6 6m0 -6l-6 6M943 1158l6 6m0 -6l-6 6M943 1129l6 6m0 -6l-6 6M944 1191l6 6m0 -6l-6 6M944 1148l6 6m0 -6l-6 6M945 1155l6 6m0 -6l-6 6M945 1207l6 6m0 -6l-6 6M946 1290l6 6m0 -6l-6 6M946 1173l6 6m0 -6l-6 6M947 1129l6 6m0 -6l-6 6M947 1180l6 6m0 -6l-6 6M948 1320l6 6m0 -6l-6 6M948 1136l6 6m0 -6l-6 6M949 1194l6 6m0 -6l-6 6M949 1150l6 6m0 -6l-6 6M950 1236l6 6m0 -6l-6 6M950 1178l6 6m0 -6l-6 6M951 1140l6 6m0 -6l-6 6M951 1098l6 6m0 -6l-6 6M952 1132l6 6m0 -6l-6 6M952 1126l6 6m0 -6l-6 6M953 1129l6 6m0 -6l-6 6M953 1311l6 6m0 -6l-6 6M954 1170l6 6m0 -6l-6 6M954 1112l6 6m0 -6l-6 6M955 1196l6 6m0 -6l-6 6M955 1172l6 6m0 -6l-6 6M956 1109l6 6m0 -6l-6 6M956 1209l6 6m0 -6l-6 6M957 1230l6 6m0 -6l-6 6M957 1145l6 6m0 -6l-6 6M958 1124l6 6m0 -6l-6 6M958 1086l6 6m0 -6l-6 6M959 1069l6 6m0 -6l-6 6M959 1247l6 6m0 -6l-6 6M960 1163l6 6m0 -6l-6 6M960 1224l6 6m0 -6l-6 6M961 1095l6 6m0 -6l-6 6M961 1188l6 6m0 -6l-6 6M962 1149l6 6m0 -6l-6 6M962 1150l6 6m0 -6l-6 6M963 1161l6 6m0 -6l-6 6M963 1133l6 6m0 -6l-6 6M964 1178l6 6m0 -6l-6 6M964 1221l6 6m0 -6l-6 6M965 1223l6 6m0 -6l-6 6M965 1186l6 6m0 -6l-6 6M966 1161l6 6m0 -6l-6 6M966 1107l6 6m0 -6l-6 6M967 1126l6 6m0 -6l-6 6M967 1145l6 6m0 -6l-6 6M968 1208l6 6m0 -6l-6 6M968 1211l6 6m0 -6l-6 6M969 1162l6 6m0 -6l-6 6M969 1110l6 6m0 -6l-6 6M970 1189l6 6m0 -6l-6 6M970 1214l6 6m0 -6l-6 6M971 1164l6 6m0 -6l-6 6M971 1213l6 6m0 -6l-6 6M972 1228l6 6m0 -6l-6 6M972 1152l6 6m0 -6l-6 6M973 1230l6 6m0 -6l-6 6M973 1214l6 6m0 -6l-6 6M974 1135l6 6m0 -6l-6 6M974 1214l6 6m0 -6l-6 6M975 1162l6 6m0 -6l-6 6M975 1285l6 6m0 -6l-6 6M976 1266l6 6m0 -6l-6 6M976 1235l6 6m0 -6l-6 6M977 1195l6 6m0 -6l-6 6M977 1286l6 6m0 -6l-6 6M978 1193l6 6m0 -6l-6 6M978 1173l6 6m0 -6l-6 6M979 1217l6 6m0 -6l-6 6M979 1150l6 6m0 -6l-6 6M980 1202l6 6m0 -6l-6 6M981 1244l6 6m0 -6l-6 6M981 1047l6 6m0 -6l-6 6M981 1246l6 6m0 -6l-6 6M982 1139l6 6m0 -6l-6 6M982 1207l6 6m0 -6l-6 6M983 1208l6 6m0 -6l-6 6M983 1217l6 6m0 -6l-6 6M984 1176l6 6m0 -6l-6 6M984 1220l6 6m0 -6l-6 6M985 1175l6 6m0 -6l-6 6M985 1205l6 6m0 -6l-6 6M986 1134l6 6m0 -6l-6 6M986 1195l6 6m0 -6l-6 6M987 1271l6 6m0 -6l-6 6M988 1297l6 6m0 -6l-6 6M988 1255l6 6m0 -6l-6 6M988 1263l6 6m0 -6l-6 6M989 1282l6 6m0 -6l-6 6M989 1255l6 6m0 -6l-6 6M990 1190l6 6m0 -6l-6 6M990 1162l6 6m0 -6l-6 6M991 1206l6 6m0 -6l-6 6M991 1196l6 6m0 -6l-6 6M992 1156l6 6m0 -6l-6 6M993 1229l6 6m0 -6l-6 6M993 1149l6 6m0 -6l-6 6M993 1174l6 6m0 -6l-6 6M994 1219l6 6m0 -6l-6 6M994 1251l6 6m0 -6l-6 6M995 1184l6 6m0 -6l-6 6M995 1149l6 6m0 -6l-6 6M996 1175l6 6m0 -6l-6 6M996 1208l6 6m0 -6l-6 6M997 1165l6 6m0 -6l-6 6M997 1112l6 6m0 -6l-6 6M998 1211l6 6m0 -6l-6 6M999 1270l6 6m0 -6l-6 6M999 1138l6 6m0 -6l-6 6M1000 1209l6 6m0 -6l-6 6M1000 1140l6 6m0 -6l-6 6M1001 1209l6 6m0 -6l-6 6M1001 1175l6 6m0 -6l-6 6M1001 1205l6 6m0 -6l-6 6M1002 1109l6 6m0 -6l-6 6M1003 1125l6 6m0 -6l-6 6M1003 1188l6 6m0 -6l-6 6M1004 1123l6 6m0 -6l-6 6M1004 1259l6 6m0 -6l-6 6M1004 1046l6 6m0 -6l-6 6M1005 1241l6 6m0 -6l-6 6M1006 1216l6 6m0 -6l-6 6M1006 1226l6 6m0 -6l-6 6M1006 1175l6 6m0 -6l-6 6M1007 1285l6 6m0 -6l-6 6M1007 1215l6 6m0 -6l-6 6M1008 1128l6 6m0 -6l-6 6M1008 1228l6 6m0 -6l-6 6M1009 1210l6 6m0 -6l-6 6M1010 1206l6 6m0 -6l-6 6M1010 1125l6 6m0 -6l-6 6M1011 1192l6 6m0 -6l-6 6M1011 1226l6 6m0 -6l-6 6M1011 1161l6 6m0 -6l-6 6M1012 1295l6 6m0 -6l-6 6M1013 1187l6 6m0 -6l-6 6M1013 1132l6 6m0 -6l-6 6M1014 1269l6 6m0 -6l-6 6M1014 1179l6 6m0 -6l-6 6M1015 1169l6 6m0 -6l-6 6M1015 1187l6 6m0 -6l-6 6M1016 1144l6 6m0 -6l-6 6M1016 1160l6 6m0 -6l-6 6M1017 1219l6 6m0 -6l-6 6M1017 1200l6 6m0 -6l-6 6M1018 1192l6 6m0 -6l-6 6M1018 1113l6 6m0 -6l-6 6M1019 1184l6 6m0 -6l-6 6M1019 1143l6 6m0 -6l-6 6M1020 1187l6 6m0 -6l-6 6M1020 1118l6 6m0 -6l-6 6M1021 1145l6 6m0 -6l-6 6M1021 1141l6 6m0 -6l-6 6M1022 1111l6 6m0 -6l-6 6M1022 1210l6 6m0 -6l-6 6M1023 1182l6 6m0 -6l-6 6M1023 1197l6 6m0 -6l-6 6M1024 1180l6 6m0 -6l-6 6M1024 1160l6 6m0 -6l-6 6M1025 1119l6 6m0 -6l-6 6M1025 1165l6 6m0 -6l-6 6M1026 1144l6 6m0 -6l-6 6M1026 1152l6 6m0 -6l-6 6M1027 1122l6 6m0 -6l-6 6M1027 1179l6 6m0 -6l-6 6M1028 1111l6 6m0 -6l-6 6M1028 1075l6 6m0 -6l-6 6M1029 1158l6 6m0 -6l-6 6M1029 1095l6 6m0 -6l-6 6M1030 1144l6 6m0 -6l-6 6M1030 1169l6 6m0 -6l-6 6M1031 1087l6 6m0 -6l-6 6M1031 1128l6 6m0 -6l-6 6M1032 1191l6 6m0 -6l-6 6M1032 1156l6 6m0 -6l-6 6M1033 1204l6 6m0 -6l-6 6M1033 1245l6 6m0 -6l-6 6M1034 1142l6 6m0 -6l-6 6M1034 1221l6 6m0 -6l-6 6M1035 1117l6 6m0 -6l-6 6M1035 1184l6 6m0 -6l-6 6M1036 1130l6 6m0 -6l-6 6M1036 1201l6 6m0 -6l-6 6M1037 1169l6 6m0 -6l-6 6M1037 1212l6 6m0 -6l-6 6M1038 1189l6 6m0 -6l-6 6M1038 1253l6 6m0 -6l-6 6M1039 1263l6 6m0 -6l-6 6M1039 1241l6 6m0 -6l-6 6M1040 1205l6 6m0 -6l-6 6M1040 1181l6 6m0 -6l-6 6M1041 1182l6 6m0 -6l-6 6M1041 1121l6 6m0 -6l-6 6M1042 1066l6 6m0 -6l-6 6M1042 1291l6 6m0 -6l-6 6M1043 1049l6 6m0 -6l-6 6M1043 1156l6 6m0 -6l-6 6M1044 1199l6 6m0 -6l-6 6M1044 1160l6 6m0 -6l-6 6M1045 1146l6 6m0 -6l-6 6M1045 1182l6 6m0 -6l-6 6M1046 1111l6 6m0 -6l-6 6M1046 1142l6 6m0 -6l-6 6M1047 1203l6 6m0 -6l-6 6M1047 1173l6 6m0 -6l-6 6M1048 1157l6 6m0 -6l-6 6M1048 1187l6 6m0 -6l-6 6M1049 1219l6 6m0 -6l-6 6M1049 1174l6 6m0 -6l-6 6M1050 1226l6 6m0 -6l-6 6M1050 1086l6 6m0 -6l-6 6M1051 1131l6 6m0 -6l-6 6M1051 1170l6 6m0 -6l-6 6M1052 1214l6 6m0 -6l-6 6M1052 1202l6 6m0 -6l-6 6M1053 1215l6 6m0 -6l-6 6M1053 1199l6 6m0 -6l-6 6M1054 1168l6 6m0 -6l-6 6M1054 1255l6 6m0 -6l-6 6M1055 1190l6 6m0 -6l-6 6M1055 1205l6 6m0 -6l-6 6M1056 1238l6 6m0 -6l-6 6M1056 1146l6 6m0 -6l-6 6M1057 1288l6 6m0 -6l-6 6M1057 1204l6 6m0 -6l-6 6M1058 1196l6 6m0 -6l-6 6M1058 1233l6 6m0 -6l-6 6M1059 1209l6 6m0 -6l-6 6M1059 1272l6 6m0 -6l-6 6M1060 1189l6 6m0 -6l-6 6M1060 1251l6 6m0 -6l-6 6M1061 1202l6 6m0 -6l-6 6M1061 1164l6 6m0 -6l-6 6M1062 1208l6 6m0 -6l-6 6M1062 1257l6 6m0 -6l-6 6M1063 1201l6 6m0 -6l-6 6M1063 1052l6 6m0 -6l-6 6M1064 1207l6 6m0 -6l-6 6M1064 1165l6 6m0 -6l-6 6M1065 1332l6 6m0 -6l-6 6M1065 1262l6 6m0 -6l-6 6M1066 1222l6 6m0 -6l-6 6M1066 1172l6 6m0 -6l-6 6M1067 1228l6 6m0 -6l-6 6M1067 1211l6 6m0 -6l-6 6M1068 1309l6 6m0 -6l-6 6M1068 1117l6 6m0 -6l-6 6M1069 1247l6 6m0 -6l-6 6M1069 1127l6 6m0 -6l-6 6M1070 1161l6 6m0 -6l-6 6M1070 1178l6 6m0 -6l-6 6M1071 1176l6 6m0 -6l-6 6M1071 1176l6 6m0 -6l-6 6M1072 1356l6 6m0 -6l-6 6M1072 1062l6 6m0 -6l-6 6M1073 1058l6 6m0 -6l-6 6M1073 1150l6 6m0 -6l-6 6M1074 1218l6 6m0 -6l-6 6M1074 1322l6 6m0 -6l-6 6M1075 1153l6 6m0 -6l-6 6M1075 1130l6 6m0 -6l-6 6M1076 1191l6 6m0 -6l-6 6M1076 1162l6 6m0 -6l-6 6M1077 1200l6 6m0 -6l-6 6M1077 1151l6 6m0 -6l-6 6M1078 1216l6 6m0 -6l-6 6M1078 1226l6 6m0 -6l-6 6M1079 1157l6 6m0 -6l-6 6M1079 1183l6 6m0 -6l-6 6M1080 1191l6 6m0 -6l-6 6M1080 1120l6 6m0 -6l-6 6M1081 1194l6 6m0 -6l-6 6M1081 1194l6 6m0 -6l-6 6M1082 1242l6 6m0 -6l-6 6M1082 1174l6 6m0 -6l-6 6M1083 1161l6 6m0 -6l-6 6M1083 1226l6 6m0 -6l-6 6M1084 1205l6 6m0 -6l-6 6M1084 1232l6 6m0 -6l-6 6M1085 1179l6 6m0 -6l-6 6M1085 1154l6 6m0 -6l-6 6M1086 1251l6 6m0 -6l-6 6M1086 1159l6 6m0 -6l-6 6M1087 1202l6 6m0 -6l-6 6M1087 1107l6 6m0 -6l-6 6M1088 1140l6 6m0 -6l-6 6M1088 1154l6 6m0 -6l-6 6M1089 1139l6 6m0 -6l-6 6M1089 1191l6 6m0 -6l-6 6M1090 1117l6 6m0 -6l-6 6M1090 1208l6 6m0 -6l-6 6M1091 1154l6 6m0 -6l-6 6M1091 1247l6 6m0 -6l-6 6M1092 1159l6 6m0 -6l-6 6M1092 1208l6 6m0 -6l-6 6M1093 1250l6 6m0 -6l-6 6M1093 1161l6 6m0 -6l-6 6M1094 1189l6 6m0 -6l-6 6M1094 1166l6 6m0 -6l-6 6M1095 1186l6 6m0 -6l-6 6M1095 1112l6 6m0 -6l-6 6M1096 1191l6 6m0 -6l-6 6M1096 1095l6 6m0 -6l-6 6M1097 1182l6 6m0 -6l-6 6M1097 1088l6 6m0 -6l-6 6M1098 1206l6 6m0 -6l-6 6M1098 1236l6 6m0 -6l-6 6M1099 1213l6 6m0 -6l-6 6M1099 1211l6 6m0 -6l-6 6M1100 1162l6 6m0 -6l-6 6M1100 1133l6 6m0 -6l-6 6M1101 1207l6 6m0 -6l-6 6M1101 1183l6 6m0 -6l-6 6M1102 1156l6 6m0 -6l-6 6M1102 1106l6 6m0 -6l-6 6M1103 1159l6 6m0 -6l-6 6M1103 1155l6 6m0 -6l-6 6M1104 1236l6 6m0 -6l-6 6M1104 1155l6 6m0 -6l-6 6M1105 1178l6 6m0 -6l-6 6M1105 1234l6 6m0 -6l-6 6M1106 1176l6 6m0 -6l-6 6M1106 1172l6 6m0 -6l-6 6M1107 1229l6 6m0 -6l-6 6M1107 1130l6 6m0 -6l-6 6M1108 1125l6 6m0 -6l-6 6M1108 1148l6 6m0 -6l-6 6M1109 1183l6 6m0 -6l-6 6M1109 1200l6 6m0 -6l-6 6M1110 1187l6 6m0 -6l-6 6M1110 1142l6 6m0 -6l-6 6M1111 1174l6 6m0 -6l-6 6M1111 1193l6 6m0 -6l-6 6M1112 1179l6 6m0 -6l-6 6M1112 1217l6 6m0 -6l-6 6M1113 1269l6 6m0 -6l-6 6M1113 1219l6 6m0 -6l-6 6M1114 1282l6 6m0 -6l-6 6M1114 1198l6 6m0 -6l-6 6M1115 1213l6 6m0 -6l-6 6M1115 1233l6 6m0 -6l-6 6M1116 1189l6 6m0 -6l-6 6M1116 1230l6 6m0 -6l-6 6M1117 1229l6 6m0 -6l-6 6M1117 1124l6 6m0 -6l-6 6M1118 1237l6 6m0 -6l-6 6M1118 1262l6 6m0 -6l-6 6M1119 1140l6 6m0 -6l-6 6M1119 1198l6 6m0 -6l-6 6M1120 1182l6 6m0 -6l-6 6M1120 1084l6 6m0 -6l-6 6M1121 1170l6 6m0 -6l-6 6M1121 1210l6 6m0 -6l-6 6M1122 1217l6 6m0 -6l-6 6M1122 1215l6 6m0 -6l-6 6M1123 1213l6 6m0 -6l-6 6M1123 1149l6 6m0 -6l-6 6M1124 1197l6 6m0 -6l-6 6M1124 1125l6 6m0 -6l-6 6M1125 1167l6 6m0 -6l-6 6M1125 1199l6 6m0 -6l-6 6M1126 1185l6 6m0 -6l-6 6M1126 1135l6 6m0 -6l-6 6M1127 1098l6 6m0 -6l-6 6M1127 1174l6 6m0 -6l-6 6M1128 1105l6 6m0 -6l-6 6M1128 1207l6 6m0 -6l-6 6M1129 1163l6 6m0 -6l-6 6M1130 1162l6 6m0 -6l-6 6M1130 1273l6 6m0 -6l-6 6M1130 1213l6 6m0 -6l-6 6M1131 1218l6 6m0 -6l-6 6M1131 1175l6 6m0 -6l-6 6M1132 1249l6 6m0 -6l-6 6M1132 1191l6 6m0 -6l-6 6M1133 1201l6 6m0 -6l-6 6M1133 1161l6 6m0 -6l-6 6M1134 1197l6 6m0 -6l-6 6M1134 1190l6 6m0 -6l-6 6M1135 1193l6 6m0 -6l-6 6M1135 1150l6 6m0 -6l-6 6M1136 1142l6 6m0 -6l-6 6M1137 1185l6 6m0 -6l-6 6M1137 1189l6 6m0 -6l-6 6M1138 1172l6 6m0 -6l-6 6M1138 1146l6 6m0 -6l-6 6M1139 1186l6 6m0 -6l-6 6M1139 1265l6 6m0 -6l-6 6M1140 1187l6 6m0 -6l-6 6M1140 1137l6 6m0 -6l-6 6M1140 1111l6 6m0 -6l-6 6M1141 1127l6 6m0 -6l-6 6M1141 1234l6 6m0 -6l-6 6M1142 1172l6 6m0 -6l-6 6M1142 1134l6 6m0 -6l-6 6M1143 1199l6 6m0 -6l-6 6M1143 1204l6 6m0 -6l-6 6M1144 1195l6 6m0 -6l-6 6M1144 1342l6 6m0 -6l-6 6M1145 1182l6 6m0 -6l-6 6M1145 1167l6 6m0 -6l-6 6M1146 1213l6 6m0 -6l-6 6M1147 1158l6 6m0 -6l-6 6M1147 1257l6 6m0 -6l-6 6M1148 1156l6 6m0 -6l-6 6M1148 1116l6 6m0 -6l-6 6M1149 1166l6 6m0 -6l-6 6M1149 1224l6 6m0 -6l-6 6M1149 1211l6 6m0 -6l-6 6M1150 1173l6 6m0 -6l-6 6M1151 1142l6 6m0 -6l-6 6M1151 1215l6 6m0 -6l-6 6M1151 1160l6 6m0 -6l-6 6M1152 1211l6 6m0 -6l-6 6M1153 1148l6 6m0 -6l-6 6M1153 1217l6 6m0 -6l-6 6M1154 1167l6 6m0 -6l-6 6M1154 1207l6 6m0 -6l-6 6M1154 1154l6 6m0 -6l-6 6M1155 1181l6 6m0 -6l-6 6M1156 1169l6 6m0 -6l-6 6M1156 1126l6 6m0 -6l-6 6M1156 1215l6 6m0 -6l-6 6M1157 1248l6 6m0 -6l-6 6M1158 1180l6 6m0 -6l-6 6M1158 1215l6 6m0 -6l-6 6M1159 1120l6 6m0 -6l-6 6M1159 1201l6 6m0 -6l-6 6M1159 1170l6 6m0 -6l-6 6M1160 1192l6 6m0 -6l-6 6M1161 1208l6 6m0 -6l-6 6M1161 1051l6 6m0 -6l-6 6M1162 1188l6 6m0 -6l-6 6M1162 1269l6 6m0 -6l-6 6M1163 1226l6 6m0 -6l-6 6M1163 1179l6 6m0 -6l-6 6M1164 1136l6 6m0 -6l-6 6M1164 1192l6 6m0 -6l-6 6M1165 1123l6 6m0 -6l-6 6M1165 1177l6 6m0 -6l-6 6M1166 1218l6 6m0 -6l-6 6M1166 1203l6 6m0 -6l-6 6M1167 1185l6 6m0 -6l-6 6M1167 1224l6 6m0 -6l-6 6M1168 1138l6 6m0 -6l-6 6M1168 1127l6 6m0 -6l-6 6M1169 1265l6 6m0 -6l-6 6M1169 1182l6 6m0 -6l-6 6M1170 1184l6 6m0 -6l-6 6M1170 1175l6 6m0 -6l-6 6M1171 1107l6 6m0 -6l-6 6M1171 1252l6 6m0 -6l-6 6M1172 1092l6 6m0 -6l-6 6M1172 1141l6 6m0 -6l-6 6M1173 1194l6 6m0 -6l-6 6M1173 1162l6 6m0 -6l-6 6M1174 1137l6 6m0 -6l-6 6M1174 1144l6 6m0 -6l-6 6M1175 1145l6 6m0 -6l-6 6M1175 1210l6 6m0 -6l-6 6M1176 1212l6 6m0 -6l-6 6M1176 1187l6 6m0 -6l-6 6M1177 1164l6 6m0 -6l-6 6M1177 1237l6 6m0 -6l-6 6M1178 1178l6 6m0 -6l-6 6M1178 1065l6 6m0 -6l-6 6M1179 1150l6 6m0 -6l-6 6M1179 1151l6 6m0 -6l-6 6M1180 1255l6 6m0 -6l-6 6M1180 1230l6 6m0 -6l-6 6M1181 1208l6 6m0 -6l-6 6M1181 1232l6 6m0 -6l-6 6M1182 1133l6 6m0 -6l-6 6M1182 1117l6 6m0 -6l-6 6M1183 1169l6 6m0 -6l-6 6M1183 1172l6 6m0 -6l-6 6M1184 1225l6 6m0 -6l-6 6M1184 1214l6 6m0 -6l-6 6M1185 1138l6 6m0 -6l-6 6M1185 1099l6 6m0 -6l-6 6M1186 1171l6 6m0 -6l-6 6M1186 1161l6 6m0 -6l-6 6M1187 1098l6 6m0 -6l-6 6M1187 1091l6 6m0 -6l-6 6M1188 1211l6 6m0 -6l-6 6M1188 1150l6 6m0 -6l-6 6M1189 1150l6 6m0 -6l-6 6M1189 1248l6 6m0 -6l-6 6M1190 1197l6 6m0 -6l-6 6M1190 1179l6 6m0 -6l-6 6M1191 1218l6 6m0 -6l-6 6M1191 1163l6 6m0 -6l-6 6M1192 1205l6 6m0 -6l-6 6M1192 1270l6 6m0 -6l-6 6M1193 1208l6 6m0 -6l-6 6M1193 1181l6 6m0 -6l-6 6M1194 1265l6 6m0 -6l-6 6M1194 1178l6 6m0 -6l-6 6M1195 1198l6 6m0 -6l-6 6M1195 1199l6 6m0 -6l-6 6M1196 1160l6 6m0 -6l-6 6M1196 1260l6 6m0 -6l-6 6M1197 1218l6 6m0 -6l-6 6M1197 1203l6 6m0 -6l-6 6M1198 1140l6 6m0 -6l-6 6M1198 1237l6 6m0 -6l-6 6M1199 1199l6 6m0 -6l-6 6M1199 1185l6 6m0 -6l-6 6M1200 1068l6 6m0 -6l-6 6M1200 1279l6 6m0 -6l-6 6M1201 1203l6 6m0 -6l-6 6M1201 1188l6 6m0 -6l-6 6M1202 1186l6 6m0 -6l-6 6M1202 1256l6 6m0 -6l-6 6M1203 1234l6 6m0 -6l-6 6M1203 1186l6 6m0 -6l-6 6M1204 1211l6 6m0 -6l-6 6M1204 1165l6 6m0 -6l-6 6M1205 1246l6 6m0 -6l-6 6M1205 1214l6 6m0 -6l-6 6M1206 1123l6 6m0 -6l-6 6M1206 1178l6 6m0 -6l-6 6M1207 1219l6 6m0 -6l-6 6M1207 1161l6 6m0 -6l-6 6M1208 1220l6 6m0 -6l-6 6M1208 1225l6 6m0 -6l-6 6M1209 1227l6 6m0 -6l-6 6M1209 1200l6 6m0 -6l-6 6M1210 1270l6 6m0 -6l-6 6M1210 1202l6 6m0 -6l-6 6M1211 1247l6 6m0 -6l-6 6M1211 1201l6 6m0 -6l-6 6M1212 1219l6 6m0 -6l-6 6M1212 1189l6 6m0 -6l-6 6M1213 1261l6 6m0 -6l-6 6M1213 1201l6 6m0 -6l-6 6M1214 1273l6 6m0 -6l-6 6M1214 1136l6 6m0 -6l-6 6M1215 1269l6 6m0 -6l-6 6M1215 1229l6 6m0 -6l-6 6M1216 1212l6 6m0 -6l-6 6M1216 1181l6 6m0 -6l-6 6M1217 1198l6 6m0 -6l-6 6M1217 1211l6 6m0 -6l-6 6M1218 1239l6 6m0 -6l-6 6M1218 1116l6 6m0 -6l-6 6M1219 1257l6 6m0 -6l-6 6M1219 1145l6 6m0 -6l-6 6M1220 1244l6 6m0 -6l-6 6M1220 1219l6 6m0 -6l-6 6M1221 1195l6 6m0 -6l-6 6M1221 1222l6 6m0 -6l-6 6M1222 1172l6 6m0 -6l-6 6M1222 1225l6 6m0 -6l-6 6M1223 1214l6 6m0 -6l-6 6M1223 1275l6 6m0 -6l-6 6M1224 1162l6 6m0 -6l-6 6M1224 1226l6 6m0 -6l-6 6M1225 1245l6 6m0 -6l-6 6M1225 1211l6 6m0 -6l-6 6M1226 1173l6 6m0 -6l-6 6M1226 1199l6 6m0 -6l-6 6M1227 1224l6 6m0 -6l-6 6M1227 1192l6 6m0 -6l-6 6M1228 1190l6 6m0 -6l-6 6M1228 1182l6 6m0 -6l-6 6M1229 1220l6 6m0 -6l-6 6M1229 1130l6 6m0 -6l-6 6M1230 1248l6 6m0 -6l-6 6M1230 1315l6 6m0 -6l-6 6M1231 1111l6 6m0 -6l-6 6M1231 1217l6 6m0 -6l-6 6M1232 1110l6 6m0 -6l-6 6M1232 1179l6 6m0 -6l-6 6M1233 1208l6 6m0 -6l-6 6M1233 1136l6 6m0 -6l-6 6M1234 1232l6 6m0 -6l-6 6M1234 1198l6 6m0 -6l-6 6M1235 1239l6 6m0 -6l-6 6M1235 1256l6 6m0 -6l-6 6M1236 1181l6 6m0 -6l-6 6M1236 1172l6 6m0 -6l-6 6M1237 1215l6 6m0 -6l-6 6M1237 1193l6 6m0 -6l-6 6M1238 1224l6 6m0 -6l-6 6M1238 1048l6 6m0 -6l-6 6M1239 1253l6 6m0 -6l-6 6M1239 1133l6 6m0 -6l-6 6M1240 1144l6 6m0 -6l-6 6M1240 1194l6 6m0 -6l-6 6M1241 1227l6 6m0 -6l-6 6M1241 1229l6 6m0 -6l-6 6M1242 1171l6 6m0 -6l-6 6M1242 1175l6 6m0 -6l-6 6M1243 1219l6 6m0 -6l-6 6M1243 1278l6 6m0 -6l-6 6M1244 1166l6 6m0 -6l-6 6M1244 1176l6 6m0 -6l-6 6M1245 1178l6 6m0 -6l-6 6M1245 1192l6 6m0 -6l-6 6M1246 1198l6 6m0 -6l-6 6M1246 1219l6 6m0 -6l-6 6M1247 1233l6 6m0 -6l-6 6M1247 1156l6 6m0 -6l-6 6M1248 1269l6 6m0 -6l-6 6M1248 1156l6 6m0 -6l-6 6M1249 1165l6 6m0 -6l-6 6M1249 1169l6 6m0 -6l-6 6M1250 1221l6 6m0 -6l-6 6M1250 1266l6 6m0 -6l-6 6M1251 1139l6 6m0 -6l-6 6M1251 1158l6 6m0 -6l-6 6M1252 1102l6 6m0 -6l-6 6M1252 1252l6 6m0 -6l-6 6M1253 1145l6 6m0 -6l-6 6M1253 1194l6 6m0 -6l-6 6M1254 1168l6 6m0 -6l-6 6M1254 1192l6 6m0 -6l-6 6M1255 1227l6 6m0 -6l-6 6M1255 1266l6 6m0 -6l-6 6M1256 1161l6 6m0 -6l-6 6M1256 1177l6 6m0 -6l-6 6M1257 1221l6 6m0 -6l-6 6M1257 1117l6 6m0 -6l-6 6M1258 1228l6 6m0 -6l-6 6M1258 1214l6 6m0 -6l-6 6M1259 1159l6 6m0 -6l-6 6M1259 1117l6 6m0 -6l-6 6M1260 1228l6 6m0 -6l-6 6M1260 1175l6 6m0 -6l-6 6M1261 1157l6 6m0 -6l-6 6M1261 1233l6 6m0 -6l-6 6M1262 1188l6 6m0 -6l-6 6M1262 1169l6 6m0 -6l-6 6M1263 1154l6 6m0 -6l-6 6M1263 1258l6 6m0 -6l-6 6M1264 1268l6 6m0 -6l-6 6M1264 1238l6 6m0 -6l-6 6M1265 1225l6 6m0 -6l-6 6M1265 1204l6 6m0 -6l-6 6M1266 1217l6 6m0 -6l-6 6M1266 1114l6 6m0 -6l-6 6M1267 1181l6 6m0 -6l-6 6M1267 1179l6 6m0 -6l-6 6M1268 1193l6 6m0 -6l-6 6M1268 1203l6 6m0 -6l-6 6M1269 1177l6 6m0 -6l-6 6M1269 1181l6 6m0 -6l-6 6M1270 1177l6 6m0 -6l-6 6M1270 1224l6 6m0 -6l-6 6M1271 1217l6 6m0 -6l-6 6M1272 1099l6 6m0 -6l-6 6M1272 1112l6 6m0 -6l-6 6M1272 1110l6 6m0 -6l-6 6M1273 1140l6 6m0 -6l-6 6M1273 1240l6 6m0 -6l-6 6M1274 1171l6 6m0 -6l-6 6M1274 1195l6 6m0 -6l-6 6M1275 1177l6 6m0 -6l-6 6M1276 1219l6 6m0 -6l-6 6M1276 1204l6 6m0 -6l-6 6M1276 1118l6 6m0 -6l-6 6M1277 1273l6 6m0 -6l-6 6M1277 1121l6 6m0 -6l-6 6M1278 1096l6 6m0 -6l-6 6M1279 1194l6 6m0 -6l-6 6M1279 1151l6 6m0 -6l-6 6M1280 1143l6 6m0 -6l-6 6M1280 1150l6 6m0 -6l-6 6M1280 1146l6 6m0 -6l-6 6M1281 1193l6 6m0 -6l-6 6M1281 1137l6 6m0 -6l-6 6M1282 1140l6 6m0 -6l-6 6M1283 1130l6 6m0 -6l-6 6M1283 1299l6 6m0 -6l-6 6M1283 1262l6 6m0 -6l-6 6M1284 1218l6 6m0 -6l-6 6M1285 1231l6 6m0 -6l-6 6M1285 1206l6 6m0 -6l-6 6M1286 1183l6 6m0 -6l-6 6M1286 1176l6 6m0 -6l-6 6M1287 1212l6 6m0 -6l-6 6M1287 1186l6 6m0 -6l-6 6M1288 1185l6 6m0 -6l-6 6M1288 1202l6 6m0 -6l-6 6M1289 1287l6 6m0 -6l-6 6M1289 1192l6 6m0 -6l-6 6M1289 1174l6 6m0 -6l-6 6M1290 1240l6 6m0 -6l-6 6M1291 1136l6 6m0 -6l-6 6M1291 1166l6 6m0 -6l-6 6M1292 1196l6 6m0 -6l-6 6M1292 1129l6 6m0 -6l-6 6M1293 1149l6 6m0 -6l-6 6M1293 1188l6 6m0 -6l-6 6M1293 1222l6 6m0 -6l-6 6M1294 1217l6 6m0 -6l-6 6M1295 1197l6 6m0 -6l-6 6M1295 1208l6 6m0 -6l-6 6M1295 1181l6 6m0 -6l-6 6M1296 1173l6 6m0 -6l-6 6M1296 1125l6 6m0 -6l-6 6M1297 1270l6 6m0 -6l-6 6M1297 1168l6 6m0 -6l-6 6M1298 1146l6 6m0 -6l-6 6M1299 1267l6 6m0 -6l-6 6M1299 1167l6 6m0 -6l-6 6M1300 1172l6 6m0 -6l-6 6M1300 1195l6 6m0 -6l-6 6M1301 1091l6 6m0 -6l-6 6M1301 1047l6 6m0 -6l-6 6M1302 1207l6 6m0 -6l-6 6M1302 1107l6 6m0 -6l-6 6M1303 1233l6 6m0 -6l-6 6M1303 1310l6 6m0 -6l-6 6M1304 1188l6 6m0 -6l-6 6M1304 1195l6 6m0 -6l-6 6M1305 1150l6 6m0 -6l-6 6M1305 1175l6 6m0 -6l-6 6M1306 1229l6 6m0 -6l-6 6M1306 1140l6 6m0 -6l-6 6M1307 1141l6 6m0 -6l-6 6M1307 1183l6 6m0 -6l-6 6M1308 1275l6 6m0 -6l-6 6M1308 1176l6 6m0 -6l-6 6M1309 1199l6 6m0 -6l-6 6M1309 1222l6 6m0 -6l-6 6M1310 1172l6 6m0 -6l-6 6M1310 1175l6 6m0 -6l-6 6M1311 1201l6 6m0 -6l-6 6M1311 1157l6 6m0 -6l-6 6M1312 1162l6 6m0 -6l-6 6M1312 1172l6 6m0 -6l-6 6M1313 1145l6 6m0 -6l-6 6M1313 1174l6 6m0 -6l-6 6M1314 1135l6 6m0 -6l-6 6M1314 1150l6 6m0 -6l-6 6M1315 1288l6 6m0 -6l-6 6M1315 1259l6 6m0 -6l-6 6M1316 1283l6 6m0 -6l-6 6M1316 1191l6 6m0 -6l-6 6M1317 1263l6 6m0 -6l-6 6M1317 1216l6 6m0 -6l-6 6M1318 1160l6 6m0 -6l-6 6M1318 1215l6 6m0 -6l-6 6M1319 1148l6 6m0 -6l-6 6M1319 1121l6 6m0 -6l-6 6M1320 1103l6 6m0 -6l-6 6M1320 1167l6 6m0 -6l-6 6M1321 1061l6 6m0 -6l-6 6M1321 1216l6 6m0 -6l-6 6M1322 1178l6 6m0 -6l-6 6M1322 1241l6 6m0 -6l-6 6M1323 1186l6 6m0 -6l-6 6M1323 1190l6 6m0 -6l-6 6M1324 1139l6 6m0 -6l-6 6M1324 1172l6 6m0 -6l-6 6M1325 1262l6 6m0 -6l-6 6M1325 1224l6 6m0 -6l-6 6M1326 1245l6 6m0 -6l-6 6M1326 1263l6 6m0 -6l-6 6M1327 1185l6 6m0 -6l-6 6M1327 1231l6 6m0 -6l-6 6M1328 1262l6 6m0 -6l-6 6M1328 1203l6 6m0 -6l-6 6M1329 1203l6 6m0 -6l-6 6M1329 1255l6 6m0 -6l-6 6M1330 1204l6 6m0 -6l-6 6M1330 1164l6 6m0 -6l-6 6M1331 1166l6 6m0 -6l-6 6M1331 1218l6 6m0 -6l-6 6M1332 1178l6 6m0 -6l-6 6M1332 1241l6 6m0 -6l-6 6M1333 1193l6 6m0 -6l-6 6M1333 1162l6 6m0 -6l-6 6M1334 1264l6 6m0 -6l-6 6M1334 1224l6 6m0 -6l-6 6M1335 1247l6 6m0 -6l-6 6M1335 1254l6 6m0 -6l-6 6M1336 1208l6 6m0 -6l-6 6M1336 1167l6 6m0 -6l-6 6M1337 1130l6 6m0 -6l-6 6M1337 1142l6 6m0 -6l-6 6M1338 1165l6 6m0 -6l-6 6M1338 1210l6 6m0 -6l-6 6M1339 1284l6 6m0 -6l-6 6M1339 1268l6 6m0 -6l-6 6M1340 1226l6 6m0 -6l-6 6M1340 1232l6 6m0 -6l-6 6M1341 1122l6 6m0 -6l-6 6M1341 1299l6 6m0 -6l-6 6M1342 1178l6 6m0 -6l-6 6M1342 1204l6 6m0 -6l-6 6M1343 1233l6 6m0 -6l-6 6M1343 1316l6 6m0 -6l-6 6M1344 1228l6 6m0 -6l-6 6M1344 1176l6 6m0 -6l-6 6M1345 1171l6 6m0 -6l-6 6M1345 1168l6 6m0 -6l-6 6M1346 1229l6 6m0 -6l-6 6M1346 1137l6 6m0 -6l-6 6M1347 1290l6 6m0 -6l-6 6M1347 1218l6 6m0 -6l-6 6M1348 1198l6 6m0 -6l-6 6M1348 1154l6 6m0 -6l-6 6M1349 1115l6 6m0 -6l-6 6M1349 1074l6 6m0 -6l-6 6M1350 1146l6 6m0 -6l-6 6M1350 1097l6 6m0 -6l-6 6M1351 1206l6 6m0 -6l-6 6M1351 1248l6 6m0 -6l-6 6M1352 1230l6 6m0 -6l-6 6M1352 1139l6 6m0 -6l-6 6M1353 1126l6 6m0 -6l-6 6M1353 1189l6 6m0 -6l-6 6M1354 1249l6 6m0 -6l-6 6M1354 1217l6 6m0 -6l-6 6M1355 1177l6 6m0 -6l-6 6M1355 1143l6 6m0 -6l-6 6M1356 1233l6 6m0 -6l-6 6M1356 1238l6 6m0 -6l-6 6M1357 1223l6 6m0 -6l-6 6M1357 1211l6 6m0 -6l-6 6M1358 1145l6 6m0 -6l-6 6M1358 1170l6 6m0 -6l-6 6M1359 1214l6 6m0 -6l-6 6M1359 1197l6 6m0 -6l-6 6M1360 1168l6 6m0 -6l-6 6M1360 1221l6 6m0 -6l-6 6M1361 1199l6 6m0 -6l-6 6M1361 1134l6 6m0 -6l-6 6M1362 1136l6 6m0 -6l-6 6M1362 1306l6 6m0 -6l-6 6M1363 1185l6 6m0 -6l-6 6M1363 1204l6 6m0 -6l-6 6M1364 1263l6 6m0 -6l-6 6M1364 1187l6 6m0 -6l-6 6M1365 1150l6 6m0 -6l-6 6M1365 1195l6 6m0 -6l-6 6M1366 1181l6 6m0 -6l-6 6M1366 1161l6 6m0 -6l-6 6M1367 1158l6 6m0 -6l-6 6M1367 1155l6 6m0 -6l-6 6M1368 1223l6 6m0 -6l-6 6M1368 1139l6 6m0 -6l-6 6M1369 1132l6 6m0 -6l-6 6M1369 1228l6 6m0 -6l-6 6M1370 1170l6 6m0 -6l-6 6M1370 1167l6 6m0 -6l-6 6M1371 1208l6 6m0 -6l-6 6M1371 1162l6 6m0 -6l-6 6M1372 1190l6 6m0 -6l-6 6M1372 1185l6 6m0 -6l-6 6M1373 1109l6 6m0 -6l-6 6M1373 1217l6 6m0 -6l-6 6M1374 1135l6 6m0 -6l-6 6M1374 1199l6 6m0 -6l-6 6M1375 1255l6 6m0 -6l-6 6M1375 1142l6 6m0 -6l-6 6M1376 1154l6 6m0 -6l-6 6M1376 1140l6 6m0 -6l-6 6M1377 1135l6 6m0 -6l-6 6M1377 1117l6 6m0 -6l-6 6M1378 1140l6 6m0 -6l-6 6M1378 1164l6 6m0 -6l-6 6M1379 1135l6 6m0 -6l-6 6M1379 1129l6 6m0 -6l-6 6M1380 1177l6 6m0 -6l-6 6M1380 1124l6 6m0 -6l-6 6M1381 1125l6 6m0 -6l-6 6M1381 1145l6 6m0 -6l-6 6M1382 1141l6 6m0 -6l-6 6M1382 1135l6 6m0 -6l-6 6M1383 1214l6 6m0 -6l-6 6M1383 1179l6 6m0 -6l-6 6M1384 1162l6 6m0 -6l-6 6M1384 1076l6 6m0 -6l-6 6M1385 1181l6 6m0 -6l-6 6M1385 1168l6 6m0 -6l-6 6M1386 1258l6 6m0 -6l-6 6M1386 1108l6 6m0 -6l-6 6M1387 1204l6 6m0 -6l-6 6M1387 1194l6 6m0 -6l-6 6M1388 1167l6 6m0 -6l-6 6M1388 1221l6 6m0 -6l-6 6M1389 1212l6 6m0 -6l-6 6M1389 1185l6 6m0 -6l-6 6M1390 1197l6 6m0 -6l-6 6M1390 1111l6 6m0 -6l-6 6M1391 1175l6 6m0 -6l-6 6M1391 1074l6 6m0 -6l-6 6M1392 1081l6 6m0 -6l-6 6M1392 1189l6 6m0 -6l-6 6M1393 1156l6 6m0 -6l-6 6M1393 1123l6 6m0 -6l-6 6M1394 1158l6 6m0 -6l-6 6M1394 1277l6 6m0 -6l-6 6M1395 1200l6 6m0 -6l-6 6M1395 1163l6 6m0 -6l-6 6M1396 1161l6 6m0 -6l-6 6M1396 1081l6 6m0 -6l-6 6M1397 1058l6 6m0 -6l-6 6M1397 1155l6 6m0 -6l-6 6M1398 1053l6 6m0 -6l-6 6M1398 1181l6 6m0 -6l-6 6M1399 1153l6 6m0 -6l-6 6M1399 1192l6 6m0 -6l-6 6M1400 1061l6 6m0 -6l-6 6M1400 1150l6 6m0 -6l-6 6M1401 1121l6 6m0 -6l-6 6M1401 1184l6 6m0 -6l-6 6M1402 1143l6 6m0 -6l-6 6M1402 1158l6 6m0 -6l-6 6M1403 1183l6 6m0 -6l-6 6M1403 1261l6 6m0 -6l-6 6M1404 1142l6 6m0 -6l-6 6M1404 1193l6 6m0 -6l-6 6M1405 1171l6 6m0 -6l-6 6M1405 1208l6 6m0 -6l-6 6M1406 1107l6 6m0 -6l-6 6M1406 1158l6 6m0 -6l-6 6M1407 1141l6 6m0 -6l-6 6M1407 1238l6 6m0 -6l-6 6M1408 1171l6 6m0 -6l-6 6M1408 1177l6 6m0 -6l-6 6M1409 1146l6 6m0 -6l-6 6M1409 1134l6 6m0 -6l-6 6M1410 1181l6 6m0 -6l-6 6M1410 1134l6 6m0 -6l-6 6M1411 1182l6 6m0 -6l-6 6M1412 1173l6 6m0 -6l-6 6M1412 1172l6 6m0 -6l-6 6M1412 1224l6 6m0 -6l-6 6M1413 1246l6 6m0 -6l-6 6M1413 1078l6 6m0 -6l-6 6M1414 1239l6 6m0 -6l-6 6M1414 1185l6 6m0 -6l-6 6M1415 1138l6 6m0 -6l-6 6M1416 1196l6 6m0 -6l-6 6M1416 1120l6 6m0 -6l-6 6M1416 1246l6 6m0 -6l-6 6M1417 1174l6 6m0 -6l-6 6M1417 1162l6 6m0 -6l-6 6M1418 1074l6 6m0 -6l-6 6M1418 1108l6 6m0 -6l-6 6M1419 1162l6 6m0 -6l-6 6M1419 1132l6 6m0 -6l-6 6M1420 1159l6 6m0 -6l-6 6M1420 1197l6 6m0 -6l-6 6M1421 1171l6 6m0 -6l-6 6M1421 1103l6 6m0 -6l-6 6M1422 1165l6 6m0 -6l-6 6M1422 1185l6 6m0 -6l-6 6M1423 1175l6 6m0 -6l-6 6M1424 1180l6 6m0 -6l-6 6M1424 1206l6 6m0 -6l-6 6M1425 1127l6 6m0 -6l-6 6M1425 1190l6 6m0 -6l-6 6M1425 1113l6 6m0 -6l-6 6M1426 1227l6 6m0 -6l-6 6" stroke="#000" stroke-width="1" fill="none" shape-rendering="crispEdges"/>
</g>
<text transform="translate(136.30 1381.12) scale(1 1.045)" font-size="30" text-anchor="end" ><tspan dy="3">&#8722;</tspan><tspan dy="-3">2.5</tspan></text>
<text transform="translate(136.30 1337.58) scale(1 1.045)" font-size="30" text-anchor="end" ><tspan dy="3">&#8722;</tspan><tspan dy="-3">2.0</tspan></text>
<text transform="translate(136.30 1294.04) scale(1 1.045)" font-size="30" text-anchor="end" ><tspan dy="3">&#8722;</tspan><tspan dy="-3">1.5</tspan></text>
<text transform="translate(136.30 1250.49) scale(1 1.045)" font-size="30" text-anchor="end" ><tspan dy="3">&#8722;</tspan><tspan dy="-3">1.0</tspan></text>
<text transform="translate(136.30 1206.95) scale(1 1.045)" font-size="30" text-anchor="end" ><tspan dy="3">&#8722;</tspan><tspan dy="-3">0.5</tspan></text>
<text transform="translate(136.30 1163.40) scale(1 1.045)" font-size="30" text-anchor="end" >0.0</text>
<text transform="translate(136.30 1119.86) scale(1 1.045)" font-size="30" text-anchor="end" >0.5</text>
<text transform="translate(136.30 1076.31) scale(1 1.045)" font-size="30" text-anchor="end" >1.0</text>
<text transform="translate(136.30 1032.77) scale(1 1.045)" font-size="30" text-anchor="end" >1.5</text>
<text transform="translate(136.30 989.22) scale(1 1.045)" font-size="30" text-anchor="end" >2.0</text>
<text transform="translate(201.38 1450.20) scale(1 1.045)" font-size="30" text-anchor="middle" >60980</text>
<text transform="translate(398.25 1450.20) scale(1 1.045)" font-size="30" text-anchor="middle" >60985</text>
<text transform="translate(595.12 1450.20) scale(1 1.045)" font-size="30" text-anchor="middle" >60990</text>
<text transform="translate(792.00 1450.20) scale(1 1.045)" font-size="30" text-anchor="middle" >60995</text>
<text transform="translate(988.88 1450.20) scale(1 1.045)" font-size="30" text-anchor="middle" >61000</text>
<text transform="translate(1185.75 1450.20) scale(1 1.045)" font-size="30" text-anchor="middle" >61005</text>
<text transform="translate(1382.62 1450.20) scale(1 1.045)" font-size="30" text-anchor="middle" >61010</text>
<text transform="translate(792.50 1481.00) scale(1 1.045)" font-size="30" text-anchor="middle" font-weight="bold" >Modified Julian Date</text>
<text transform="translate(68 1178) rotate(-90) scale(1 1.045)" font-size="30" font-weight="bold" text-anchor="middle">residuals <tspan font-weight="normal">(</tspan>ns<tspan font-weight="normal">)</tspan></text>
<text transform="translate(201.5 1381) scale(1 1.04)" font-size="25.1" font-weight="bold" xml:space="preserve" style="white-space:pre">Max Smoothing Residual: _-2.378__1.796_-0.323  Sigma= 0.607ns</text>
<g clip-path="url(#c3)">
<circle cx="176.5" cy="1633.5" r="6.2"/>
<text x="176.52" y="1625.00" font-size="19.8" text-anchor="middle" font-weight="bold" fill="#ff0000" >526.6</text>
<circle cx="230.7" cy="1667" r="6.2"/>
<text x="230.71" y="1658.50" font-size="19.8" text-anchor="middle" font-weight="bold" fill="#ff0000" >263.6</text>
<circle cx="284.9" cy="1697" r="6.2"/>
<text x="284.89" y="1688.50" font-size="19.8" text-anchor="middle" font-weight="bold" fill="#ff0000" >104.8</text>
<circle cx="339.1" cy="1722" r="6.2"/>
<text x="339.08" y="1713.50" font-size="19.8" text-anchor="middle" font-weight="bold" fill="#ff0000" >48.3</text>
<circle cx="393.3" cy="1732" r="6.2"/>
<text x="393.26" y="1723.50" font-size="19.8" text-anchor="middle" font-weight="bold" fill="#ff0000" >35.3</text>
<circle cx="447.4" cy="1773.5" r="6.2"/>
<text x="447.45" y="1765.00" font-size="19.8" text-anchor="middle" font-weight="bold" fill="#ff0000" >9.9</text>
<circle cx="501.6" cy="1803" r="6.2"/>
<text x="501.63" y="1794.50" font-size="19.8" text-anchor="middle" font-weight="bold" fill="#ff0000" >4.0</text>
<circle cx="555.8" cy="1838.5" r="6.2"/>
<text x="555.82" y="1830.00" font-size="19.8" text-anchor="middle" font-weight="bold" fill="#ff0000" >1.3</text>
<circle cx="610.0" cy="1868.5" r="6.2"/>
<text x="610.00" y="1860.00" font-size="19.8" text-anchor="middle" font-weight="bold" fill="#ff0000" >0.5</text>
<circle cx="664.2" cy="1913.5" r="6.2"/>
<text x="664.19" y="1905.00" font-size="19.8" text-anchor="middle" font-weight="bold" fill="#ff0000" >0.1</text>
<circle cx="214.9" cy="1960.5" r="4.2"/>
<text x="214.95" y="1953.50" font-size="19.5" text-anchor="middle" font-weight="bold" fill="#ff0000" >h/2</text>
<circle cx="269.1" cy="1960.5" r="4.2"/>
<text x="269.13" y="1953.50" font-size="19.5" text-anchor="middle" font-weight="bold" fill="#ff0000" >h</text>
<circle cx="355.0" cy="1960.5" r="4.2"/>
<text x="355.02" y="1953.50" font-size="19.5" text-anchor="middle" font-weight="bold" fill="#ff0000" >d/8</text>
<circle cx="409.2" cy="1960.5" r="4.2"/>
<text x="409.20" y="1953.50" font-size="19.5" text-anchor="middle" font-weight="bold" fill="#ff0000" >d/4</text>
<circle cx="463.4" cy="1960.5" r="4.2"/>
<text x="463.39" y="1953.50" font-size="19.5" text-anchor="middle" font-weight="bold" fill="#ff0000" >d/2</text>
<circle cx="517.6" cy="1960.5" r="4.2"/>
<text x="517.57" y="1953.50" font-size="19.5" text-anchor="middle" font-weight="bold" fill="#ff0000" >day</text>
<circle cx="603.5" cy="1960.5" r="4.2"/>
<text x="603.45" y="1953.50" font-size="19.5" text-anchor="middle" font-weight="bold" fill="#ff0000" >ddd</text>
<circle cx="669.7" cy="1960.5" r="4.2"/>
<text x="669.69" y="1953.50" font-size="19.5" text-anchor="middle" font-weight="bold" fill="#ff0000" >wk</text>
</g>
<text transform="translate(141.00 1559.50) scale(1 1.045)" font-size="30" text-anchor="end" ><tspan dy="3">&#8722;</tspan><tspan dy="-3">11</tspan></text>
<text transform="translate(141.00 1634.50) scale(1 1.045)" font-size="30" text-anchor="end" ><tspan dy="3">&#8722;</tspan><tspan dy="-3">12</tspan></text>
<text transform="translate(141.00 1709.50) scale(1 1.045)" font-size="30" text-anchor="end" ><tspan dy="3">&#8722;</tspan><tspan dy="-3">13</tspan></text>
<text transform="translate(141.00 1784.50) scale(1 1.045)" font-size="30" text-anchor="end" ><tspan dy="3">&#8722;</tspan><tspan dy="-3">14</tspan></text>
<text transform="translate(141.00 1859.50) scale(1 1.045)" font-size="30" text-anchor="end" ><tspan dy="3">&#8722;</tspan><tspan dy="-3">15</tspan></text>
<text transform="translate(141.00 1934.50) scale(1 1.045)" font-size="30" text-anchor="end" ><tspan dy="3">&#8722;</tspan><tspan dy="-3">16</tspan></text>
<text transform="translate(169.00 2008.00) scale(1 1.045)" font-size="30" text-anchor="middle" >3</text>
<text transform="translate(349.00 2008.00) scale(1 1.045)" font-size="30" text-anchor="middle" >4</text>
<text transform="translate(529.00 2008.00) scale(1 1.045)" font-size="30" text-anchor="middle" >5</text>
<text transform="translate(709.00 2008.00) scale(1 1.045)" font-size="30" text-anchor="middle" >6</text>
<text transform="translate(439 2038.6) scale(1 1.045)" font-size="30" font-weight="bold" text-anchor="middle">Averaging time, log<tspan font-weight="normal">(</tspan><tspan font-family="Liberation Serif" font-weight="normal">&#964;</tspan><tspan font-weight="normal">)</tspan> <tspan font-weight="normal">(</tspan>s<tspan font-weight="normal">)</tspan></text>
<text transform="translate(84 1735) rotate(-90) scale(1 1.045)" font-size="30" font-weight="bold" text-anchor="middle">Modified Allan Deviation <tspan font-weight="normal">(</tspan>10<tspan font-size="21" dy="-10.5">-15</tspan><tspan dy="10.5" font-weight="normal">)</tspan></text>
<text x="214" y="1539" font-size="17.5" font-weight="bold" xml:space="preserve" style="white-space:pre"><tspan font-weight="normal">&#964;</tspan> = 1101s</text>
<g clip-path="url(#c4)">
<circle cx="901.7" cy="1661.4" r="6.4"/>
<text x="901.74" y="1643.10" font-size="18.3" text-anchor="middle" font-weight="bold" fill="#ff0000" >4.6</text>
<circle cx="951.7" cy="1686" r="6.4"/>
<text x="951.73" y="1667.70" font-size="18.3" text-anchor="middle" font-weight="bold" fill="#ff0000" >3.4</text>
<circle cx="1001.7" cy="1704" r="6.4"/>
<text x="1001.71" y="1685.70" font-size="18.3" text-anchor="middle" font-weight="bold" fill="#ff0000" >2.7</text>
<circle cx="1051.7" cy="1710.5" r="6.4"/>
<text x="1051.70" y="1692.20" font-size="18.3" text-anchor="middle" font-weight="bold" fill="#ff0000" >2.5</text>
<circle cx="1101.7" cy="1680.5" r="6.4"/>
<text x="1101.68" y="1662.20" font-size="18.3" text-anchor="middle" font-weight="bold" fill="#ff0000" >3.6</text>
<circle cx="1151.7" cy="1726.3" r="6.4"/>
<text x="1151.67" y="1708.00" font-size="18.3" text-anchor="middle" font-weight="bold" fill="#ff0000" >2.0</text>
<circle cx="1201.7" cy="1742.5" r="6.4"/>
<text x="1201.66" y="1724.20" font-size="18.3" text-anchor="middle" font-weight="bold" fill="#ff0000" >1.6</text>
<circle cx="1251.6" cy="1774" r="6.4"/>
<text x="1251.64" y="1755.70" font-size="18.3" text-anchor="middle" font-weight="bold" fill="#ff0000" >1.1</text>
<circle cx="1301.6" cy="1791" r="6.4"/>
<text x="1301.63" y="1772.70" font-size="18.3" text-anchor="middle" font-weight="bold" fill="#ff0000" >0.9</text>
<circle cx="1351.6" cy="1845.5" r="6.4"/>
<text x="1351.61" y="1827.20" font-size="18.3" text-anchor="middle" font-weight="bold" fill="#ff0000" >0.4</text>
<circle cx="937.2" cy="1959" r="6.3"/>
<text x="937.19" y="1942.80" font-size="19.5" text-anchor="middle" font-weight="bold" fill="#ff0000" >h/2</text>
<circle cx="987.2" cy="1959" r="6.3"/>
<text x="987.19" y="1942.80" font-size="19.5" text-anchor="middle" font-weight="bold" fill="#ff0000" >h</text>
<circle cx="1066.4" cy="1959" r="6.3"/>
<text x="1066.42" y="1942.80" font-size="19.5" text-anchor="middle" font-weight="bold" fill="#ff0000" >d/8</text>
<circle cx="1116.4" cy="1959" r="6.3"/>
<text x="1116.41" y="1942.80" font-size="19.5" text-anchor="middle" font-weight="bold" fill="#ff0000" >d/4</text>
<circle cx="1166.4" cy="1959" r="6.3"/>
<text x="1166.40" y="1942.80" font-size="19.5" text-anchor="middle" font-weight="bold" fill="#ff0000" >d/2</text>
<circle cx="1216.4" cy="1959" r="6.3"/>
<text x="1216.40" y="1942.80" font-size="19.5" text-anchor="middle" font-weight="bold" fill="#ff0000" >day</text>
<circle cx="1295.6" cy="1959" r="6.3"/>
<text x="1295.63" y="1942.80" font-size="19.5" text-anchor="middle" font-weight="bold" fill="#ff0000" >ddd</text>
<circle cx="1356.7" cy="1959" r="6.3"/>
<text x="1356.74" y="1942.80" font-size="19.5" text-anchor="middle" font-weight="bold" fill="#ff0000" >wk</text>
</g>
<text transform="translate(828.00 1611.60) scale(1 1.045)" font-size="30" text-anchor="end" ><tspan dy="3">&#8722;</tspan><tspan dy="-3">9</tspan></text>
<text transform="translate(828.00 1791.60) scale(1 1.045)" font-size="30" text-anchor="end" ><tspan dy="3">&#8722;</tspan><tspan dy="-3">10</tspan></text>
<text transform="translate(828.00 1971.60) scale(1 1.045)" font-size="30" text-anchor="end" ><tspan dy="3">&#8722;</tspan><tspan dy="-3">11</tspan></text>
<text transform="translate(894.80 2008.00) scale(1 1.045)" font-size="30" text-anchor="middle" >3</text>
<text transform="translate(1060.87 2008.00) scale(1 1.045)" font-size="30" text-anchor="middle" >4</text>
<text transform="translate(1226.94 2008.00) scale(1 1.045)" font-size="30" text-anchor="middle" >5</text>
<text transform="translate(1393.01 2008.00) scale(1 1.045)" font-size="30" text-anchor="middle" >6</text>
<text transform="translate(1123 2038.6) scale(1 1.045)" font-size="30" font-weight="bold" text-anchor="middle">Averaging time, log<tspan font-weight="normal">(</tspan><tspan font-family="Liberation Serif" font-weight="normal">&#964;</tspan><tspan font-weight="normal">)</tspan> <tspan font-weight="normal">(</tspan>s<tspan font-weight="normal">)</tspan></text>
<text transform="translate(767.5 1735.6) rotate(-90) scale(1 1.045)" font-size="30" font-weight="bold" text-anchor="middle">Time deviation <tspan font-weight="normal">(</tspan>10<tspan font-size="21" dy="-10.5">-10</tspan><tspan dy="10.5"> s</tspan><tspan font-weight="normal">)</tspan></text>
<path d="M161 118h2v7h-2zM161 845h2v7h-2zM200 111h2v14h-2zM200 845h2v14h-2zM240 118h2v7h-2zM240 845h2v7h-2zM279 118h2v7h-2zM279 845h2v7h-2zM319 118h2v7h-2zM319 845h2v7h-2zM358 118h2v7h-2zM358 845h2v7h-2zM397 111h2v14h-2zM397 845h2v14h-2zM437 118h2v7h-2zM437 845h2v7h-2zM476 118h2v7h-2zM476 845h2v7h-2zM515 118h2v7h-2zM515 845h2v7h-2zM555 118h2v7h-2zM555 845h2v7h-2zM594 111h2v14h-2zM594 845h2v14h-2zM633 118h2v7h-2zM633 845h2v7h-2zM673 118h2v7h-2zM673 845h2v7h-2zM712 118h2v7h-2zM712 845h2v7h-2zM752 118h2v7h-2zM752 845h2v7h-2zM791 111h2v14h-2zM791 845h2v14h-2zM830 118h2v7h-2zM830 845h2v7h-2zM870 118h2v7h-2zM870 845h2v7h-2zM909 118h2v7h-2zM909 845h2v7h-2zM949 118h2v7h-2zM949 845h2v7h-2zM988 111h2v14h-2zM988 845h2v14h-2zM1027 118h2v7h-2zM1027 845h2v7h-2zM1067 118h2v7h-2zM1067 845h2v7h-2zM1106 118h2v7h-2zM1106 845h2v7h-2zM1145 118h2v7h-2zM1145 845h2v7h-2zM1185 111h2v14h-2zM1185 845h2v14h-2zM1224 118h2v7h-2zM1224 845h2v7h-2zM1263 118h2v7h-2zM1263 845h2v7h-2zM1303 118h2v7h-2zM1303 845h2v7h-2zM1342 118h2v7h-2zM1342 845h2v7h-2zM1382 111h2v14h-2zM1382 845h2v14h-2zM1421 118h2v7h-2zM1421 845h2v7h-2zM148 810h14v2h-14zM1423 810h14v2h-14zM148 639h14v2h-14zM1423 639h14v2h-14zM148 467h14v2h-14zM1423 467h14v2h-14zM148 295h14v2h-14zM1423 295h14v2h-14zM148 124h14v2h-14zM1423 124h14v2h-14zM162 125h1261v1h-1261zM162 845h1261v1h-1261zM162 125h1v721h-1zM1422 125h1v721h-1zM161 946h2v7h-2zM161 1403h2v7h-2zM200 939h2v14h-2zM200 1403h2v14h-2zM240 946h2v7h-2zM240 1403h2v7h-2zM279 946h2v7h-2zM279 1403h2v7h-2zM319 946h2v7h-2zM319 1403h2v7h-2zM358 946h2v7h-2zM358 1403h2v7h-2zM397 939h2v14h-2zM397 1403h2v14h-2zM437 946h2v7h-2zM437 1403h2v7h-2zM476 946h2v7h-2zM476 1403h2v7h-2zM515 946h2v7h-2zM515 1403h2v7h-2zM555 946h2v7h-2zM555 1403h2v7h-2zM594 939h2v14h-2zM594 1403h2v14h-2zM633 946h2v7h-2zM633 1403h2v7h-2zM673 946h2v7h-2zM673 1403h2v7h-2zM712 946h2v7h-2zM712 1403h2v7h-2zM752 946h2v7h-2zM752 1403h2v7h-2zM791 939h2v14h-2zM791 1403h2v14h-2zM830 946h2v7h-2zM830 1403h2v7h-2zM870 946h2v7h-2zM870 1403h2v7h-2zM909 946h2v7h-2zM909 1403h2v7h-2zM949 946h2v7h-2zM949 1403h2v7h-2zM988 939h2v14h-2zM988 1403h2v14h-2zM1027 946h2v7h-2zM1027 1403h2v7h-2zM1067 946h2v7h-2zM1067 1403h2v7h-2zM1106 946h2v7h-2zM1106 1403h2v7h-2zM1145 946h2v7h-2zM1145 1403h2v7h-2zM1185 939h2v14h-2zM1185 1403h2v14h-2zM1224 946h2v7h-2zM1224 1403h2v7h-2zM1263 946h2v7h-2zM1263 1403h2v7h-2zM1303 946h2v7h-2zM1303 1403h2v7h-2zM1342 946h2v7h-2zM1342 1403h2v7h-2zM1382 939h2v14h-2zM1382 1403h2v14h-2zM1421 946h2v7h-2zM1421 1403h2v7h-2zM148 1369h14v2h-14zM1423 1369h14v2h-14zM148 1326h14v2h-14zM1423 1326h14v2h-14zM148 1282h14v2h-14zM1423 1282h14v2h-14zM148 1238h14v2h-14zM1423 1238h14v2h-14zM148 1195h14v2h-14zM1423 1195h14v2h-14zM148 1151h14v2h-14zM1423 1151h14v2h-14zM148 1108h14v2h-14zM1423 1108h14v2h-14zM148 1064h14v2h-14zM1423 1064h14v2h-14zM148 1021h14v2h-14zM1423 1021h14v2h-14zM148 977h14v2h-14zM1423 977h14v2h-14zM162 953h1261v1h-1261zM162 1403h1261v1h-1261zM162 953h1v451h-1zM1422 953h1v451h-1zM168 1497h2v14h-2zM168 1961h2v14h-2zM258 1504h2v7h-2zM258 1961h2v7h-2zM348 1497h2v14h-2zM348 1961h2v14h-2zM438 1504h2v7h-2zM438 1961h2v7h-2zM528 1497h2v14h-2zM528 1961h2v14h-2zM618 1504h2v7h-2zM618 1961h2v7h-2zM708 1497h2v14h-2zM708 1961h2v14h-2zM162 1510h7v2h-7zM710 1510h7v2h-7zM156 1547h13v2h-13zM710 1547h13v2h-13zM162 1585h7v2h-7zM710 1585h7v2h-7zM156 1623h13v2h-13zM710 1623h13v2h-13zM162 1660h7v2h-7zM710 1660h7v2h-7zM156 1697h13v2h-13zM710 1697h13v2h-13zM162 1735h7v2h-7zM710 1735h7v2h-7zM156 1773h13v2h-13zM710 1773h13v2h-13zM162 1810h7v2h-7zM710 1810h7v2h-7zM156 1847h13v2h-13zM710 1847h13v2h-13zM162 1885h7v2h-7zM710 1885h7v2h-7zM156 1923h13v2h-13zM710 1923h13v2h-13zM162 1960h7v2h-7zM710 1960h7v2h-7zM169 1511h541v1h-541zM169 1961h541v1h-541zM169 1511h1v451h-1zM709 1511h1v451h-1zM894 1497h2v14h-2zM894 1961h2v14h-2zM977 1504h2v7h-2zM977 1961h2v7h-2zM1060 1497h2v14h-2zM1060 1961h2v14h-2zM1143 1504h2v7h-2zM1143 1961h2v7h-2zM1226 1497h2v14h-2zM1226 1961h2v14h-2zM1309 1504h2v7h-2zM1309 1961h2v7h-2zM1392 1497h2v14h-2zM1392 1961h2v14h-2zM846 1510h7v2h-7zM1394 1510h7v2h-7zM840 1600h13v2h-13zM1394 1600h13v2h-13zM846 1690h7v2h-7zM1394 1690h7v2h-7zM840 1780h13v2h-13zM1394 1780h13v2h-13zM846 1870h7v2h-7zM1394 1870h7v2h-7zM840 1960h13v2h-13zM1394 1960h13v2h-13zM853 1511h541v1h-541zM853 1961h541v1h-541zM853 1511h1v451h-1zM1393 1511h1v451h-1z" fill="#000" shape-rendering="crispEdges"/>
</svg>
</body></html>
